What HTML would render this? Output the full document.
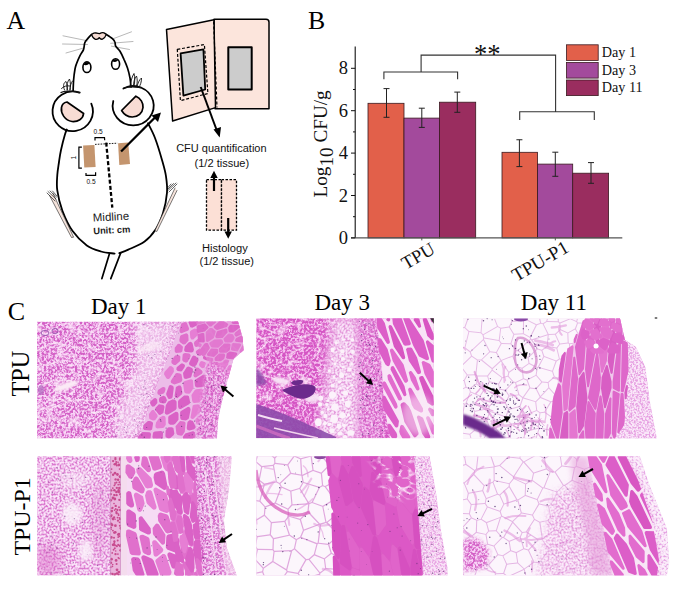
<!DOCTYPE html>
<html><head><meta charset="utf-8"><style>
html,body{margin:0;padding:0;background:#fff;}
svg{display:block;}
.sf{font-family:"Liberation Serif",serif;}
.ss{font-family:"Liberation Sans",sans-serif;}
</style></head><body>
<svg width="676" height="589" viewBox="0 0 676 589">
<rect width="676" height="589" fill="#fff"/>
<text class="sf" x="6.5" y="29.3" font-size="25.8" fill="#000">A</text>
<g fill="none" stroke="#000" stroke-linecap="round" stroke-linejoin="round">
<g stroke="#888" stroke-width="0.6"><line x1="63" y1="35.8" x2="87.5" y2="40.8"/><line x1="62.5" y1="44" x2="87.5" y2="44.5"/><line x1="66" y1="53" x2="84" y2="47.9"/><line x1="131.5" y1="31.8" x2="112.5" y2="39"/><line x1="133" y1="41.5" x2="110.7" y2="43.3"/><line x1="129.5" y1="49.5" x2="111.5" y2="46.2"/></g>
<path d="M91.6,34.3 C90.9,35.0 88.8,37.2 87.7,38.6 C86.6,40.0 85.5,41.0 84.8,42.8 C84.1,44.6 84.3,47.5 83.5,49.6 C82.7,51.7 81.1,53.3 80.0,55.6 C78.9,57.9 77.5,61.0 76.7,63.2 C75.9,65.4 75.5,66.2 75.0,69.0 C74.5,71.8 73.9,76.3 73.6,80.0 C73.3,83.7 73.2,89.2 73.1,91.0" stroke-width="1.7"/>
<path d="M106.0,34.3 C107.1,35.0 110.9,37.3 112.4,38.6 C113.9,39.9 114.4,40.7 114.9,42.0 C115.5,43.3 114.9,44.7 115.7,46.2 C116.5,47.8 118.6,49.0 120.0,51.3 C121.4,53.6 123.0,57.0 124.2,59.8 C125.5,62.6 126.5,65.0 127.5,68.0 C128.5,71.0 129.4,74.8 130.0,78.0 C130.6,81.2 130.8,85.5 131.0,87.0" stroke-width="1.7"/>
<path d="M91.6,34.6 C93,33 94.5,32.6 96,33 C97.5,33.4 98.5,33.8 99.6,33.6 C101,32.8 102.5,32.4 104,32.8 C105,33.2 105.7,33.8 106.2,34.6 C105.5,36.5 104.5,38.5 102.5,39.2 C101,39.5 100,38.8 99.3,37.6 C98.5,39 97,39.6 95.5,39.3 C93.5,38.8 92.3,36.6 91.6,34.6 Z" fill="#f6dcd4" stroke-width="1.3"/>
<ellipse cx="86.9" cy="67.2" rx="4.0" ry="5.3" fill="#fff" stroke-width="1.6"/>
<path d="M83.8,65 C84.5,62.5 87,61.5 89.5,63 C89,64.5 87,65.5 83.8,65 Z" fill="#000" stroke="none"/>
<ellipse cx="115.6" cy="64" rx="4.0" ry="5.3" fill="#fff" stroke-width="1.6"/>
<path d="M112.3,61.5 C113,59 115.5,58.5 118,60 C117.5,61.5 115.5,62.5 112.3,61.5 Z" fill="#000" stroke="none"/>
<path d="M79.2,92.6 A20.2,19.8 0 1 0 91.3,103.6" stroke-width="1.8"/>
<path d="M67,102 L83.6,113.5 C83,119 78,122 72,121.5 C65,120.5 60.5,113.5 61.5,107.5 C62,104.5 64,102.5 67,102 Z" fill="#f8dcd4" stroke-width="1.7"/>
<path d="M123.4,88.5 A20.5,19.6 0 1 1 113.3,101" stroke-width="1.8"/>
<path d="M121.6,110.5 L135.9,96.2 C140.5,98 143.5,103 143,107.5 C142.5,113 138,117 132.3,117 C128,117 124,114.5 121.6,110.5 Z" fill="#f8dcd4" stroke-width="1.7"/>
<path d="M66.8,129.5 C66.5,130.4 65.8,131.6 64.8,135.0 C63.8,138.4 62.0,145.5 61.0,150.0 C60.0,154.5 59.6,157.8 59.0,162.0 C58.4,166.2 57.6,170.3 57.3,175.0 C57.0,179.7 56.4,184.5 57.3,190.4 C58.1,196.3 59.9,203.9 62.4,210.7 C65.0,217.5 68.5,225.2 72.6,231.0 C76.7,236.8 82.1,242.0 86.8,245.4 C91.5,248.8 96.4,250.1 101.0,251.5 C105.6,252.9 112.3,253.2 114.6,253.6" stroke-width="1.8"/>
<path d="M148.0,123.3 C149.2,125.8 152.7,131.9 155.0,138.0 C157.3,144.1 160.2,153.6 162.0,160.0 C163.8,166.4 165.2,170.9 166.0,176.3 C166.8,181.7 167.5,186.5 167.0,192.6 C166.5,198.7 164.9,206.9 163.0,213.0 C161.1,219.1 158.9,224.4 155.8,229.2 C152.7,233.9 149.2,238.1 144.6,241.5 C140.0,244.9 132.5,247.7 128.3,249.6 C124.1,251.5 120.8,252.6 119.3,253.2" stroke-width="1.8"/>
<path d="M109.5,253.6 L101.9,278.6 M120.6,253.2 L110.8,278.6" stroke-width="1.7"/>
<path d="M49.5,195.5 L71.5,237.5 L73.6,237.2 L53,193.5" fill="#f6e4dc" stroke="#222" stroke-width="0.6"/>
<path d="M47,193 L55,201 M48,191.5 L56,199 M50,191 L56.5,197 M52.5,191 L57,196" stroke="#222" stroke-width="0.7"/>
<path d="M175,188 L155,230.5 L156.8,231.5 L177,190.5" fill="#f6e4dc" stroke="#222" stroke-width="0.6"/>
<path d="M177,184 L169,192 M176,183 L168.5,190 M173.5,183.5 L168,189 M171,184 L167.5,188" stroke="#222" stroke-width="0.7"/>
<g stroke="#111" stroke-width="0.9"><path d="M61.5,88.5 C64,86 66.5,85.5 70,86"/><path d="M64.5,90 C62.5,85 64,82.5 66,81.5 C67,84 67.5,87 67,90"/><path d="M67.5,90 C66.5,85 67.5,81 69.5,79 C70.5,82 70.8,86 70,90"/><path d="M70,90 C70,86 71,83 72.5,81"/><path d="M61,92.5 C64,90.5 70,90.5 80,92.5" stroke-width="1.3"/><path d="M130,86 C131,81 132,76.5 134,73.5 C135,77 135,82 134,86"/><path d="M133.5,86 C133.5,82 134.5,78 136.5,76 C137.5,79 137.5,83 136.5,86"/><path d="M137,86.5 C138,83 139,80 141.5,78 C141.5,82 140.5,85 139,87"/><path d="M124,88 C128,86.5 134,86.5 141,87.5" stroke-width="1.3"/></g>
</g>
<path d="M83.1,145.6 L94.4,145 L95.6,167 L84.3,167.5 Z" fill="#c4956e"/>
<path d="M118.1,143.2 L128.2,142.6 L130,164 L119.3,164.9 Z" fill="#c4956e"/>
<g stroke="#000" fill="none"><path d="M95,144.4 L117.5,143.2" stroke-width="0.9" stroke-dasharray="1.6,1.2"/><path d="M106.2,142.6 L112.3,207.7" stroke-width="2.3" stroke-dasharray="4,2.2"/><path d="M95,140.4 L95,137.6 L104.5,137.6 L104.7,140.2" stroke-width="1.2"/><path d="M81.9,147.1 L78.9,147.1 L78.9,168.1 L81.9,168.1" stroke-width="1.2"/><path d="M86,172.9 L86,175.3 L95.6,175.3 L95.6,172.3" stroke-width="1.2"/></g>
<text x="93.6" y="133.8" font-family='"Liberation Sans", sans-serif' font-size="6.6" fill="#111">0.5</text>
<text x="86.4" y="184.2" font-family='"Liberation Sans", sans-serif' font-size="6.6" fill="#111">0.5</text>
<text transform="translate(76,159.5) rotate(-90)" font-family='"Liberation Sans", sans-serif' font-size="6.6" fill="#111">1</text>

<text class="ss" transform="translate(93.1,221.6) rotate(-3)" font-size="11.3" fill="#1a1a1a" textLength="36.2" lengthAdjust="spacingAndGlyphs">Midline</text>
<text class="ss" transform="translate(93.5,234.2) rotate(-3)" font-size="9.2" font-weight="bold" fill="#1a1a1a" textLength="37" lengthAdjust="spacingAndGlyphs">Unit: cm</text>
<line x1="121.1" y1="151.5" x2="155" y2="117.5" stroke="#000" stroke-width="2.3"/>
<path d="M161,112.4 L151.5,115.6 L158,122 Z" fill="#000"/>


<g stroke="#000" stroke-width="1.5" stroke-linejoin="round">
 <path d="M214,19.2 L266,19.2 Q269,19.2 269,22.2 L269,108.8 L215,108.8 Z" fill="#fce5dc"/>
 <path d="M166.5,29.4 L214,19.8 L215.5,107.6 L172.6,121 Z" fill="#fce5dc"/>
 <path d="M213.6,21.5 L217,107.5" stroke-dasharray="3,2" stroke-width="1.2" fill="none"/>
 <rect x="228.3" y="47.3" width="23.4" height="42.2" fill="#cccccc" stroke-width="2"/>
 <path d="M177.3,49.3 L204.4,44.6 L207.9,93.5 L180.4,100.7 Z" fill="none" stroke-dasharray="3,1.8" stroke-width="1.2"/>
 <path d="M180.6,53.4 L203.4,49.3 L205.2,89.5 L183.4,95.6 Z" fill="#cccccc" stroke-width="1.8"/>
</g>
<line x1="200.7" y1="87" x2="217" y2="131" stroke="#000" stroke-width="2"/>
<path d="M219.7,137.5 L213.5,129.5 L221,127 Z" fill="#000"/>
<text class="ss" x="176.2" y="151.7" font-size="10" fill="#111" textLength="90.4" lengthAdjust="spacingAndGlyphs">CFU quantification</text>
<text class="ss" x="194.5" y="166.5" font-size="10" fill="#111" textLength="54.7" lengthAdjust="spacingAndGlyphs">(1/2 tissue)</text>
<g stroke="#000" stroke-width="1.3" stroke-dasharray="2.5,1.5">
 <rect x="206.5" y="179.7" width="15" height="50.5" fill="#fce0d6"/>
 <rect x="221.5" y="179.7" width="15" height="50.5" fill="#fce0d6"/>
</g>
<line x1="214" y1="191" x2="214" y2="177" stroke="#000" stroke-width="2.2"/>
<path d="M214,170.8 L210.3,178 L217.7,178 Z" fill="#000"/>
<line x1="228.2" y1="218" x2="228.2" y2="232" stroke="#000" stroke-width="2.2"/>
<path d="M228.2,238.7 L224.5,231.5 L231.9,231.5 Z" fill="#000"/>
<text class="ss" x="202" y="252.3" font-size="10" fill="#111" textLength="45.8" lengthAdjust="spacingAndGlyphs">Histology</text>
<text class="ss" x="199.5" y="265.3" font-size="10" fill="#111" textLength="54.5" lengthAdjust="spacingAndGlyphs">(1/2 tissue)</text>

<text class="sf" x="308" y="29.3" font-size="25.8" fill="#000">B</text>
<rect x="368" y="103.3" width="36.0" height="134.6" fill="#e2604a" stroke="#3a1a20" stroke-width="0.8"/>
<rect x="404" y="118.1" width="35.5" height="119.8" fill="#a34a9c" stroke="#3a1a20" stroke-width="0.8"/>
<rect x="439.5" y="102.2" width="36.2" height="135.7" fill="#9a2d5f" stroke="#3a1a20" stroke-width="0.8"/>
<rect x="502" y="152.3" width="35.6" height="85.6" fill="#e2604a" stroke="#3a1a20" stroke-width="0.8"/>
<rect x="537.6" y="164.1" width="35.1" height="73.8" fill="#a34a9c" stroke="#3a1a20" stroke-width="0.8"/>
<rect x="572.7" y="173.2" width="35.9" height="64.7" fill="#9a2d5f" stroke="#3a1a20" stroke-width="0.8"/>
<path d="M383.5,88.6 H389.5 M386.5,88.6 V117.3 M383.5,117.3 H389.5" stroke="#222" stroke-width="1" fill="none"/>
<path d="M418.8,108.2 H424.8 M421.8,108.2 V127.4 M418.8,127.4 H424.8" stroke="#222" stroke-width="1" fill="none"/>
<path d="M454.3,92.1 H460.3 M457.3,92.1 V112.3 M454.3,112.3 H460.3" stroke="#222" stroke-width="1" fill="none"/>
<path d="M516.4,139.75 H522.4 M519.4,139.75 V166.6 M516.4,166.6 H522.4" stroke="#222" stroke-width="1" fill="none"/>
<path d="M552.3,152.2 H558.3 M555.3,152.2 V176.3 M552.3,176.3 H558.3" stroke="#222" stroke-width="1" fill="none"/>
<path d="M588,162.6 H594 M591,162.6 V183.3 M588,183.3 H594" stroke="#222" stroke-width="1" fill="none"/>
<line x1="355.2" y1="46.6" x2="355.2" y2="237.9" stroke="#111" stroke-width="1.1"/>
<line x1="351" y1="237.9" x2="622.3" y2="237.9" stroke="#555" stroke-width="1.3"/>
<line x1="351" y1="237.9" x2="355.2" y2="237.9" stroke="#111" stroke-width="1"/>
<text class="sf" x="348" y="243.9" text-anchor="end" font-size="18.5" fill="#111">0</text>
<line x1="353" y1="216.7" x2="355.2" y2="216.7" stroke="#111" stroke-width="1"/>
<line x1="351" y1="195.5" x2="355.2" y2="195.5" stroke="#111" stroke-width="1"/>
<text class="sf" x="348" y="201.5" text-anchor="end" font-size="18.5" fill="#111">2</text>
<line x1="353" y1="174.3" x2="355.2" y2="174.3" stroke="#111" stroke-width="1"/>
<line x1="351" y1="153.1" x2="355.2" y2="153.1" stroke="#111" stroke-width="1"/>
<text class="sf" x="348" y="159.1" text-anchor="end" font-size="18.5" fill="#111">4</text>
<line x1="353" y1="131.9" x2="355.2" y2="131.9" stroke="#111" stroke-width="1"/>
<line x1="351" y1="110.7" x2="355.2" y2="110.7" stroke="#111" stroke-width="1"/>
<text class="sf" x="348" y="116.7" text-anchor="end" font-size="18.5" fill="#111">6</text>
<line x1="353" y1="89.5" x2="355.2" y2="89.5" stroke="#111" stroke-width="1"/>
<line x1="351" y1="68.3" x2="355.2" y2="68.3" stroke="#111" stroke-width="1"/>
<text class="sf" x="348" y="74.3" text-anchor="end" font-size="18.5" fill="#111">8</text>
<line x1="421.8" y1="237.9" x2="421.8" y2="240.4" stroke="#555" stroke-width="1"/>
<line x1="555.3" y1="237.9" x2="555.3" y2="240.4" stroke="#555" stroke-width="1"/>
<text class="sf" transform="translate(326.5,197.5) rotate(-90)" font-size="19.2" fill="#111">Log<tspan dy="6">10</tspan><tspan dy="-6"> CFU/g</tspan></text>
<text class="sf" transform="translate(406,270) rotate(-30)" font-size="18.6" fill="#111">TPU</text>
<text class="sf" transform="translate(516.5,282) rotate(-30)" font-size="18.9" fill="#111">TPU-P1</text>
<path d="M383.9,79.3 V72 H457.6 V79.3 M421.1,72 V55.1 H555.6 V111.7 M519.7,119.9 V111.7 H594.3 V119.9" stroke="#333" stroke-width="1.1" fill="none"/>
<text class="sf" x="474" y="62.5" font-size="26.5" fill="#111">**</text>
<rect x="566.5" y="44.8" width="31.7" height="15.6" fill="#e2604a" stroke="#3a1a20" stroke-width="0.8"/>
<text class="sf" x="601.8" y="57.2" font-size="14.2" fill="#111">Day 1</text>
<rect x="566.5" y="62.5" width="31.7" height="15.6" fill="#a34a9c" stroke="#3a1a20" stroke-width="0.8"/>
<text class="sf" x="601.8" y="74.9" font-size="14.2" fill="#111">Day 3</text>
<rect x="566.5" y="80" width="31.7" height="15.6" fill="#9a2d5f" stroke="#3a1a20" stroke-width="0.8"/>
<text class="sf" x="601.8" y="92.4" font-size="14.2" fill="#111">Day 11</text>
<text class="sf" x="7.8" y="319.7" font-size="26" fill="#000">C</text>
<text class="sf" x="90.9" y="313.7" font-size="23" fill="#000">Day 1</text>
<text class="sf" x="314.5" y="309.9" font-size="23" fill="#000">Day 3</text>
<text class="sf" x="520.8" y="309.9" font-size="23" fill="#000">Day 11</text>
<text class="sf" transform="translate(29,396.6) rotate(-90)" font-size="24.3" fill="#000">TPU</text>
<text class="sf" transform="translate(29.9,555.6) rotate(-90)" font-size="23.9" fill="#000">TPU-P1</text>
<defs><filter id="b05" x="-10%" y="-10%" width="120%" height="120%"><feGaussianBlur stdDeviation="0.6"/></filter><filter id="b1" x="-10%" y="-10%" width="120%" height="120%"><feGaussianBlur stdDeviation="1"/></filter><filter id="b2" x="-10%" y="-10%" width="120%" height="120%"><feGaussianBlur stdDeviation="2"/></filter><filter id="b3" x="-20%" y="-20%" width="140%" height="140%"><feGaussianBlur stdDeviation="3"/></filter><filter id="b5" x="-20%" y="-20%" width="140%" height="140%"><feGaussianBlur stdDeviation="5"/></filter><filter id="dense" filterUnits="userSpaceOnUse" x="-300" y="-300" width="1300" height="1200" color-interpolation-filters="sRGB">
 <feTurbulence type="fractalNoise" baseFrequency="0.45" numOctaves="3" seed="4"/>
 <feColorMatrix type="matrix" values="1 0 0 0 0  1 0 0 0 0  1 0 0 0 0  0 0 0 0 1"/>
 <feComponentTransfer><feFuncR type="table" tableValues="0.831 0.831 0.831 0.831 0.831 0.831 0.831 0.831 0.848 0.876 0.904 0.932 0.960 0.976 0.976 0.976 0.976 0.976 0.976 0.976 0.976"/><feFuncG type="table" tableValues="0.376 0.376 0.376 0.376 0.376 0.376 0.376 0.376 0.429 0.516 0.604 0.691 0.779 0.831 0.831 0.831 0.831 0.831 0.831 0.831 0.831"/><feFuncB type="table" tableValues="0.776 0.776 0.776 0.776 0.776 0.776 0.776 0.776 0.799 0.836 0.873 0.910 0.946 0.969 0.969 0.969 0.969 0.969 0.969 0.969 0.969"/></feComponentTransfer>
 <feGaussianBlur stdDeviation="0.45"/>
 <feComposite in2="SourceGraphic" operator="in"/>
</filter><filter id="dense2" filterUnits="userSpaceOnUse" x="-300" y="-300" width="1300" height="1200" color-interpolation-filters="sRGB">
 <feTurbulence type="fractalNoise" baseFrequency="0.42" numOctaves="3" seed="12"/>
 <feColorMatrix type="matrix" values="1 0 0 0 0  1 0 0 0 0  1 0 0 0 0  0 0 0 0 1"/>
 <feComponentTransfer><feFuncR type="table" tableValues="0.839 0.839 0.839 0.839 0.839 0.839 0.839 0.839 0.839 0.854 0.879 0.904 0.929 0.954 0.969 0.969 0.969 0.969 0.969 0.969 0.969"/><feFuncG type="table" tableValues="0.337 0.337 0.337 0.337 0.337 0.337 0.337 0.337 0.337 0.385 0.465 0.545 0.625 0.705 0.753 0.753 0.753 0.753 0.753 0.753 0.753"/><feFuncB type="table" tableValues="0.769 0.769 0.769 0.769 0.769 0.769 0.769 0.769 0.769 0.789 0.824 0.859 0.894 0.928 0.949 0.949 0.949 0.949 0.949 0.949 0.949"/></feComponentTransfer>
 <feGaussianBlur stdDeviation="0.45"/>
 <feComposite in2="SourceGraphic" operator="in"/>
</filter><filter id="meshl" filterUnits="userSpaceOnUse" x="-300" y="-300" width="1300" height="1200" color-interpolation-filters="sRGB">
 <feTurbulence type="fractalNoise" baseFrequency="0.5" numOctaves="3" seed="8"/>
 <feColorMatrix type="matrix" values="1 0 0 0 0  1 0 0 0 0  1 0 0 0 0  0 0 0 0 1"/>
 <feComponentTransfer><feFuncR type="table" tableValues="0.855 0.855 0.855 0.855 0.855 0.855 0.855 0.869 0.892 0.915 0.938 0.961 0.984 0.984 0.984 0.984 0.984 0.984 0.984 0.984 0.984"/><feFuncG type="table" tableValues="0.463 0.463 0.463 0.463 0.463 0.463 0.463 0.509 0.586 0.663 0.740 0.817 0.894 0.894 0.894 0.894 0.894 0.894 0.894 0.894 0.894"/><feFuncB type="table" tableValues="0.808 0.808 0.808 0.808 0.808 0.808 0.808 0.826 0.857 0.888 0.919 0.950 0.980 0.980 0.980 0.980 0.980 0.980 0.980 0.980 0.980"/></feComponentTransfer>
 <feGaussianBlur stdDeviation="0.45"/>
 <feComposite in2="SourceGraphic" operator="in"/>
</filter><filter id="light" filterUnits="userSpaceOnUse" x="-300" y="-300" width="1300" height="1200" color-interpolation-filters="sRGB">
 <feTurbulence type="fractalNoise" baseFrequency="0.5" numOctaves="2" seed="5"/>
 <feColorMatrix type="matrix" values="1 0 0 0 0  1 0 0 0 0  1 0 0 0 0  0 0 0 0 1"/>
 <feComponentTransfer><feFuncR type="table" tableValues="0.894 0.894 0.894 0.894 0.894 0.894 0.901 0.920 0.938 0.956 0.974 0.992 0.992 0.992 0.992 0.992 0.992 0.992 0.992 0.992 0.992"/><feFuncG type="table" tableValues="0.627 0.627 0.627 0.627 0.627 0.627 0.651 0.709 0.767 0.825 0.883 0.941 0.941 0.941 0.941 0.941 0.941 0.941 0.941 0.941 0.941"/><feFuncB type="table" tableValues="0.886 0.886 0.886 0.886 0.886 0.886 0.894 0.913 0.932 0.950 0.969 0.988 0.988 0.988 0.988 0.988 0.988 0.988 0.988 0.988 0.988"/></feComponentTransfer>
 <feGaussianBlur stdDeviation="0.45"/>
 <feComposite in2="SourceGraphic" operator="in"/>
</filter><filter id="conn" filterUnits="userSpaceOnUse" x="-300" y="-300" width="1300" height="1200" color-interpolation-filters="sRGB">
 <feTurbulence type="fractalNoise" baseFrequency="0.55" numOctaves="2" seed="6"/>
 <feColorMatrix type="matrix" values="1 0 0 0 0  1 0 0 0 0  1 0 0 0 0  0 0 0 0 1"/>
 <feComponentTransfer><feFuncR type="table" tableValues="0.902 0.902 0.902 0.902 0.902 0.902 0.902 0.908 0.923 0.939 0.954 0.969 0.984 0.984 0.984 0.984 0.984 0.984 0.984 0.984 0.984"/><feFuncG type="table" tableValues="0.627 0.627 0.627 0.627 0.627 0.627 0.627 0.648 0.701 0.753 0.805 0.858 0.910 0.910 0.910 0.910 0.910 0.910 0.910 0.910 0.910"/><feFuncB type="table" tableValues="0.886 0.886 0.886 0.886 0.886 0.886 0.886 0.893 0.911 0.928 0.946 0.963 0.980 0.980 0.980 0.980 0.980 0.980 0.980 0.980 0.980"/></feComponentTransfer>
 <feGaussianBlur stdDeviation="0.45"/>
 <feComposite in2="SourceGraphic" operator="in"/>
</filter><filter id="musc" filterUnits="userSpaceOnUse" x="-300" y="-300" width="1300" height="1200" color-interpolation-filters="sRGB">
 <feTurbulence type="turbulence" baseFrequency="0.035 0.1" numOctaves="2" seed="3"/>
 <feColorMatrix type="matrix" values="1 0 0 0 0  1 0 0 0 0  1 0 0 0 0  0 0 0 0 1"/>
 <feComponentTransfer><feFuncR type="table" tableValues="0.984 0.984 0.939 0.902 0.902 0.902 0.902 0.902 0.902 0.902 0.902 0.902 0.902 0.902 0.902 0.902 0.902 0.902 0.902 0.902 0.902"/><feFuncG type="table" tableValues="0.925 0.925 0.620 0.376 0.376 0.376 0.376 0.376 0.376 0.376 0.376 0.376 0.376 0.376 0.376 0.376 0.376 0.376 0.376 0.376 0.376"/><feFuncB type="table" tableValues="0.980 0.980 0.893 0.824 0.824 0.824 0.824 0.824 0.824 0.824 0.824 0.824 0.824 0.824 0.824 0.824 0.824 0.824 0.824 0.824 0.824"/></feComponentTransfer>
 <feGaussianBlur stdDeviation="0.45"/>
 <feComposite in2="SourceGraphic" operator="in"/>
</filter><filter id="musc2" filterUnits="userSpaceOnUse" x="-300" y="-300" width="1300" height="1200" color-interpolation-filters="sRGB">
 <feTurbulence type="turbulence" baseFrequency="0.04 0.1" numOctaves="2" seed="13"/>
 <feColorMatrix type="matrix" values="1 0 0 0 0  1 0 0 0 0  1 0 0 0 0  0 0 0 0 1"/>
 <feComponentTransfer><feFuncR type="table" tableValues="0.984 0.914 0.894 0.894 0.894 0.894 0.894 0.894 0.894 0.894 0.894 0.894 0.894 0.894 0.894 0.894 0.894 0.894 0.894 0.894 0.894"/><feFuncG type="table" tableValues="0.925 0.486 0.361 0.361 0.361 0.361 0.361 0.361 0.361 0.361 0.361 0.361 0.361 0.361 0.361 0.361 0.361 0.361 0.361 0.361 0.361"/><feFuncB type="table" tableValues="0.980 0.852 0.816 0.816 0.816 0.816 0.816 0.816 0.816 0.816 0.816 0.816 0.816 0.816 0.816 0.816 0.816 0.816 0.816 0.816 0.816"/></feComponentTransfer>
 <feGaussianBlur stdDeviation="0.45"/>
 <feComposite in2="SourceGraphic" operator="in"/>
</filter><filter id="musc3" filterUnits="userSpaceOnUse" x="-300" y="-300" width="1300" height="1200" color-interpolation-filters="sRGB">
 <feTurbulence type="fractalNoise" baseFrequency="0.12 0.3" numOctaves="2" seed="23"/>
 <feColorMatrix type="matrix" values="1 0 0 0 0  1 0 0 0 0  1 0 0 0 0  0 0 0 0 1"/>
 <feComponentTransfer><feFuncR type="table" tableValues="0.941 0.941 0.941 0.941 0.941 0.941 0.941 0.934 0.927 0.921 0.914 0.907 0.900 0.893 0.886 0.886 0.886 0.886 0.886 0.886 0.886"/><feFuncG type="table" tableValues="0.588 0.588 0.588 0.588 0.588 0.588 0.588 0.556 0.524 0.491 0.459 0.426 0.394 0.362 0.329 0.329 0.329 0.329 0.329 0.329 0.329"/><feFuncB type="table" tableValues="0.894 0.894 0.894 0.894 0.894 0.894 0.894 0.882 0.871 0.859 0.847 0.835 0.824 0.812 0.800 0.800 0.800 0.800 0.800 0.800 0.800"/></feComponentTransfer>
 <feGaussianBlur stdDeviation="0.45"/>
 <feComposite in2="SourceGraphic" operator="in"/>
</filter><filter id="blob" filterUnits="userSpaceOnUse" x="-300" y="-300" width="1300" height="1200" color-interpolation-filters="sRGB">
 <feTurbulence type="fractalNoise" baseFrequency="0.13" numOctaves="3" seed="17"/>
 <feColorMatrix type="matrix" values="1 0 0 0 0  1 0 0 0 0  1 0 0 0 0  0 0 0 0 1"/>
 <feComponentTransfer><feFuncR type="table" tableValues="0.965 0.965 0.965 0.965 0.965 0.965 0.965 0.965 0.965 0.957 0.918 0.902 0.902 0.902 0.902 0.902 0.902 0.902 0.902 0.902 0.902"/><feFuncG type="table" tableValues="0.831 0.831 0.831 0.831 0.831 0.831 0.831 0.831 0.831 0.776 0.502 0.392 0.392 0.392 0.392 0.392 0.392 0.392 0.392 0.392 0.392"/><feFuncB type="table" tableValues="0.957 0.957 0.957 0.957 0.957 0.957 0.957 0.957 0.957 0.940 0.857 0.824 0.824 0.824 0.824 0.824 0.824 0.824 0.824 0.824 0.824"/></feComponentTransfer>
 <feGaussianBlur stdDeviation="0.45"/>
 <feComposite in2="SourceGraphic" operator="in"/>
</filter><filter id="blobv" filterUnits="userSpaceOnUse" x="-300" y="-300" width="1300" height="1200" color-interpolation-filters="sRGB">
 <feTurbulence type="fractalNoise" baseFrequency="0.12 0.05" numOctaves="2" seed="19"/>
 <feColorMatrix type="matrix" values="1 0 0 0 0  1 0 0 0 0  1 0 0 0 0  0 0 0 0 1"/>
 <feComponentTransfer><feFuncR type="table" tableValues="0.976 0.976 0.976 0.976 0.976 0.976 0.976 0.976 0.976 0.960 0.919 0.894 0.894 0.894 0.894 0.894 0.894 0.894 0.894 0.894 0.894"/><feFuncG type="table" tableValues="0.894 0.894 0.894 0.894 0.894 0.894 0.894 0.894 0.894 0.792 0.537 0.384 0.384 0.384 0.384 0.384 0.384 0.384 0.384 0.384 0.384"/><feFuncB type="table" tableValues="0.969 0.969 0.969 0.969 0.969 0.969 0.969 0.969 0.969 0.938 0.862 0.816 0.816 0.816 0.816 0.816 0.816 0.816 0.816 0.816 0.816"/></feComponentTransfer>
 <feGaussianBlur stdDeviation="0.45"/>
 <feComposite in2="SourceGraphic" operator="in"/>
</filter><filter id="cracks" filterUnits="userSpaceOnUse" x="-300" y="-300" width="1300" height="1200" color-interpolation-filters="sRGB">
 <feTurbulence type="turbulence" baseFrequency="0.05 0.08" numOctaves="2" seed="31"/>
 <feColorMatrix type="matrix" values="0 0 0 0 0.99  0 0 0 0 0.92  0 0 0 0 0.98  -6 0 0 0 1.0"/>
 <feGaussianBlur stdDeviation="0.4"/>
 <feComposite in2="SourceGraphic" operator="in"/>
</filter></defs>
<clipPath id="c1"><path d="M37.0,321.5 L238.0,321.5 L242.5,337.0 L243.6,350.3 L233.7,359.0 L228.0,379.0 L222.6,398.8 L218.2,418.7 L217.0,438.5 L37.0,438.5 Z"/></clipPath><g clip-path="url(#c1)"><path d="M37.0,321.5 L238.0,321.5 L242.5,337.0 L243.6,350.3 L233.7,359.0 L228.0,379.0 L222.6,398.8 L218.2,418.7 L217.0,438.5 L37.0,438.5 Z" filter="url(#dense)"/><path d="M37.0,321.5 L150.0,321.5 L120.0,438.5 L37.0,438.5 Z" filter="url(#cracks)" opacity="0.9"/><path d="M133.0,321.5 L181.0,321.5 L167.5,359.0 L152.0,398.8 L139.0,438.5 L113.0,438.5 L124.0,398.0 L138.0,359.0 Z" fill="#fbeefa" filter="url(#b5)" opacity="0.62"/><g fill="#7a4a90" opacity="0.6"><circle cx="143.8" cy="387.0" r="0.63"/><circle cx="144.7" cy="380.9" r="0.53"/><circle cx="119.2" cy="416.2" r="0.56"/><circle cx="115.8" cy="436.4" r="0.64"/><circle cx="148.9" cy="328.5" r="0.41"/><circle cx="144.5" cy="373.0" r="0.60"/><circle cx="148.3" cy="396.4" r="0.50"/><circle cx="158.0" cy="375.0" r="0.43"/><circle cx="165.9" cy="353.1" r="0.38"/><circle cx="135.6" cy="434.3" r="0.58"/><circle cx="167.2" cy="342.3" r="0.52"/><circle cx="143.4" cy="343.8" r="0.57"/><circle cx="133.7" cy="425.0" r="0.41"/><circle cx="139.8" cy="421.5" r="0.54"/><circle cx="119.8" cy="437.2" r="0.41"/><circle cx="130.6" cy="411.9" r="0.45"/><circle cx="129.5" cy="391.9" r="0.46"/><circle cx="145.9" cy="388.7" r="0.61"/><circle cx="126.4" cy="432.7" r="0.61"/><circle cx="154.0" cy="370.8" r="0.38"/><circle cx="115.6" cy="434.1" r="0.42"/><circle cx="160.9" cy="351.6" r="0.60"/><circle cx="153.6" cy="355.8" r="0.40"/><circle cx="162.0" cy="329.5" r="0.42"/><circle cx="154.8" cy="354.3" r="0.63"/><circle cx="138.1" cy="388.4" r="0.39"/><circle cx="137.6" cy="425.7" r="0.64"/><circle cx="152.7" cy="337.9" r="0.36"/><circle cx="145.8" cy="407.0" r="0.45"/><circle cx="152.0" cy="394.6" r="0.46"/><circle cx="152.6" cy="392.7" r="0.37"/><circle cx="139.4" cy="407.5" r="0.52"/><circle cx="143.0" cy="419.6" r="0.38"/><circle cx="164.0" cy="325.0" r="0.53"/><circle cx="145.7" cy="348.4" r="0.56"/><circle cx="146.8" cy="393.4" r="0.63"/><circle cx="133.5" cy="400.8" r="0.41"/><circle cx="124.5" cy="427.5" r="0.55"/><circle cx="143.1" cy="425.8" r="0.45"/><circle cx="158.3" cy="344.7" r="0.48"/><circle cx="152.7" cy="358.5" r="0.39"/><circle cx="141.2" cy="394.7" r="0.50"/><circle cx="134.4" cy="419.7" r="0.64"/><circle cx="143.8" cy="330.2" r="0.36"/><circle cx="172.4" cy="326.4" r="0.56"/><circle cx="151.8" cy="357.7" r="0.59"/><circle cx="143.9" cy="324.4" r="0.60"/><circle cx="143.4" cy="395.2" r="0.55"/><circle cx="159.5" cy="344.8" r="0.49"/><circle cx="145.1" cy="405.1" r="0.40"/><circle cx="139.8" cy="414.2" r="0.62"/><circle cx="118.9" cy="430.6" r="0.57"/><circle cx="138.6" cy="388.1" r="0.61"/><circle cx="144.5" cy="397.7" r="0.41"/><circle cx="127.5" cy="426.8" r="0.64"/><circle cx="166.8" cy="359.0" r="0.62"/><circle cx="146.1" cy="324.8" r="0.59"/><circle cx="166.6" cy="337.9" r="0.39"/><circle cx="148.1" cy="406.2" r="0.60"/><circle cx="148.8" cy="355.4" r="0.57"/></g><g><path d="M181.0,321.6 L240.0,321.6 L244.0,337.0 L244.0,350.3 L233.7,359.0 L228.0,379.0 L222.6,398.8 L218.2,418.7 L217.0,438.5 L139.0,438.5 L152.0,398.8 L167.5,359.0 Z" fill="#ecbce8"/><path d="M200.0,344.9 200.8,343.7 201.3,339.5 200.4,338.2 198.8,337.9 194.4,341.7 193.9,343.3 194.6,345.9 195.9,346.9 197.4,346.8ZM215.5,420.8 217.2,421.5 218.9,420.7 219.5,417.9 218.6,416.3 217.0,415.9 215.5,416.8 214.7,418.9ZM185.0,353.0 183.5,353.4 182.7,354.4 182.2,360.1 183.1,361.6 186.1,362.7 187.8,361.7 190.5,356.4 190.6,355.4 190.3,354.4 189.3,353.6ZM221.7,396.3 223.4,396.2 224.6,394.8 226.8,386.6 226.3,385.2 225.1,384.4 223.4,384.6 219.3,387.8 217.7,392.6 217.7,393.9 218.3,394.9ZM188.3,335.3 187.5,333.8 186.2,333.3 180.8,335.2 180.1,336.3 179.3,340.1 179.7,341.9 183.1,344.5 185.3,344.3 188.6,340.6ZM225.1,351.9 224.6,350.5 223.2,349.8 222.0,350.0 220.2,351.5 218.8,357.9 219.7,360.0 221.6,360.3 224.1,359.6 225.0,358.7ZM171.0,380.4 170.7,381.8 171.2,383.0 174.4,384.5 180.9,382.2 182.0,381.0 182.4,379.8 181.5,374.6 180.1,373.5 177.1,373.0 175.8,373.3ZM224.1,335.6 222.8,336.2 222.1,337.6 223.1,345.9 223.9,347.4 225.8,347.9 231.2,344.3 233.8,336.7 233.2,335.4 231.8,334.8ZM194.8,369.1 193.4,375.8 194.1,376.9 195.2,377.4 196.3,377.3 201.9,373.7 202.5,372.8 202.5,371.5 201.9,370.6 198.4,367.8 196.6,367.6ZM208.0,428.8 208.4,430.2 209.6,431.0 214.4,430.7 215.3,429.7 216.6,426.0 216.4,424.2 214.0,421.5 211.8,421.4 208.4,423.9ZM235.8,320.8 234.1,321.5 233.6,323.3 234.9,331.2 235.8,332.3 237.2,332.6 238.9,331.6 241.7,326.6 241.8,325.4 241.0,322.2 240.2,321.2ZM180.2,344.2 179.0,343.8 177.7,344.1 174.7,347.7 174.7,351.4 175.9,353.0 180.9,352.6 182.3,351.5 183.0,346.8ZM182.5,435.3 184.8,431.8 185.6,422.7 184.3,421.4 180.0,421.1 175.5,426.3 176.4,433.6 177.6,434.9 181.3,435.8ZM202.5,342.9 203.2,344.9 207.0,346.9 208.5,347.1 209.6,346.5 213.4,338.2 213.2,336.9 211.0,333.6 209.0,333.1 204.1,335.5 203.6,336.6ZM197.2,433.2 198.0,434.7 199.6,435.2 205.1,432.3 205.9,430.7 206.0,427.0 205.4,425.7 204.3,425.0 203.1,425.1 198.2,427.9 197.0,430.2ZM157.3,392.6 157.7,394.2 159.2,395.1 163.7,393.6 164.5,392.6 165.5,389.7 165.3,387.8 163.9,386.9 162.2,387.2 158.0,390.0ZM221.2,348.5 222.1,346.7 221.0,338.4 219.2,337.3 215.4,338.3 214.5,339.2 211.1,346.6 211.4,348.5 212.9,349.8 218.3,350.2ZM171.6,360.2 171.3,362.1 171.8,363.4 174.0,365.0 175.7,364.9 180.2,361.0 180.4,356.4 178.8,355.1 175.0,355.6ZM202.3,408.5 203.4,409.9 204.8,410.1 211.2,407.3 213.2,399.4 212.5,397.5 211.1,396.9 206.6,397.1 205.0,397.9 201.1,403.5ZM179.4,330.6 179.8,332.4 181.5,333.3 188.3,330.6 188.9,329.6 189.0,328.3 186.7,322.6 184.9,322.1 181.3,323.5ZM214.0,361.7 215.7,361.5 216.9,360.0 218.1,353.4 217.6,352.0 216.5,351.3 213.5,351.2 212.0,352.9 210.8,359.5 211.7,360.9ZM227.2,356.4 228.2,358.2 229.3,358.6 230.5,358.3 235.3,352.0 235.2,349.9 232.2,346.8 230.3,346.7 227.2,349.0ZM196.6,350.4 195.8,351.6 196.0,353.2 198.4,355.5 200.1,355.9 201.5,355.1 204.8,350.7 205.1,349.3 204.1,347.7 201.6,346.9Z" fill="#e070cc"/><path d="M192.2,401.1 192.9,402.4 194.2,403.0 198.9,402.5 200.1,401.8 203.9,396.2 203.6,390.6 202.8,389.3 201.2,388.8 196.0,389.2 194.8,390.0 191.4,395.1ZM218.2,362.7 216.7,364.1 216.0,366.9 216.3,368.2 218.7,372.4 220.0,372.7 222.6,372.3 223.6,371.5 228.3,364.3 228.3,362.3 226.9,361.0 225.7,360.8ZM184.8,381.0 183.7,381.8 183.0,383.5 184.3,392.3 185.8,393.6 189.3,393.7 190.3,392.9 193.6,388.1 193.0,380.6 192.1,379.5 190.9,379.2ZM155.4,426.0 155.7,427.6 157.1,428.5 162.8,428.1 164.0,427.5 165.8,424.7 165.6,417.7 164.9,416.3 162.9,415.8 159.6,417.6 156.1,422.2ZM205.0,420.4 205.8,421.9 207.6,422.3 213.0,418.9 215.5,413.1 214.9,411.8 212.4,409.3 210.5,409.0 205.5,411.1 204.7,411.8 204.3,413.0ZM164.4,372.1 164.0,374.3 166.3,378.2 167.5,379.0 169.0,378.9 169.9,378.0 173.9,371.7 173.7,368.1 171.6,366.2 169.8,366.1ZM192.7,405.6 190.5,417.4 191.2,418.4 192.2,418.9 193.5,418.7 201.0,411.1 201.4,409.3 199.7,404.8 198.0,404.3 194.0,404.8ZM190.3,337.7 191.4,339.5 193.3,339.6 198.5,334.6 198.8,332.6 196.8,328.9 194.7,328.6 191.3,330.2 190.2,331.3 189.8,332.6ZM217.9,397.4 216.4,397.4 215.2,398.5 213.3,406.5 213.8,408.2 215.5,409.9 216.7,410.4 217.9,410.1 218.8,409.2 221.6,400.5 220.9,398.6ZM205.8,369.0 205.7,370.2 206.4,371.5 207.6,372.0 208.8,371.8 214.7,367.3 215.4,365.1 215.2,363.9 213.9,362.8 210.7,361.8 209.2,362.0 208.3,362.9ZM149.3,413.5 148.9,414.7 149.2,418.4 150.1,419.2 152.9,420.5 155.1,420.2 157.6,416.8 157.5,415.0 153.8,410.1 152.5,410.0 151.6,410.4ZM225.3,377.7 226.2,378.9 227.6,379.2 228.8,378.8 230.0,377.4 232.8,367.6 232.4,366.1 231.1,365.2 229.8,365.0 228.7,365.6 224.2,372.4 224.1,373.7ZM207.4,375.8 208.4,380.4 209.5,381.1 211.5,380.8 212.6,380.2 216.8,373.8 216.7,372.4 215.7,370.7 214.6,370.2 213.3,370.4 207.9,374.5ZM203.1,416.2 202.1,414.6 200.2,414.4 195.6,418.9 195.2,420.8 197.1,424.4 199.1,424.7 203.1,422.3 203.6,420.9ZM204.6,367.5 206.0,363.4 205.4,362.3 201.8,360.9 200.1,361.8 198.9,364.8 199.6,366.3 201.7,368.0 203.0,368.3ZM224.0,331.4 224.3,333.2 225.7,334.1 231.1,333.6 232.5,332.7 232.9,331.3 231.5,322.6 230.6,321.1 228.3,320.5 226.7,321.5ZM210.1,433.0 208.6,433.6 208.0,435.4 208.6,438.4 209.6,439.2 210.7,439.4 212.2,438.5 214.0,436.1 214.2,434.8 213.0,433.1ZM223.1,381.7 223.8,380.6 223.8,379.3 222.6,375.5 220.9,374.5 218.8,375.4 215.3,381.0 215.9,382.6 217.3,384.1 218.5,384.6 219.7,384.2ZM245.6,348.3 245.2,347.1 244.4,346.3 243.2,346.1 242.2,346.4 239.9,349.5 240.0,351.5 241.6,352.9 243.4,352.8 245.3,351.0Z" fill="#e67ed4"/><path d="M173.6,435.2 174.4,433.5 173.4,428.1 171.9,427.3 168.8,427.2 167.6,427.7 165.6,430.5 165.4,436.1 165.8,437.3 168.3,438.5 169.7,438.5ZM212.9,395.1 214.7,393.9 216.5,387.9 216.0,386.7 213.3,383.7 211.5,383.2 208.3,384.1 206.1,387.2 206.2,393.2 206.7,394.4 207.9,395.2ZM203.3,356.3 202.9,357.9 203.7,359.3 206.8,360.6 208.3,360.4 209.4,358.9 210.4,353.6 210.1,352.2 208.8,351.3 207.1,351.5ZM137.9,437.1 138.2,439.0 139.6,439.9 149.0,439.9 150.5,438.5 151.0,433.9 150.4,432.8 149.4,432.3 142.4,432.0 138.6,435.6ZM163.8,403.6 165.6,403.0 167.0,400.3 165.5,396.7 163.6,395.8 160.0,397.0 158.9,398.9 159.1,401.4 159.7,402.5 160.7,403.1ZM189.2,362.4 189.0,363.9 189.8,365.2 192.8,366.7 194.3,366.7 196.5,364.9 198.5,360.5 198.5,359.0 195.4,355.9 193.4,355.6 192.2,356.5ZM232.6,343.3 232.8,345.2 236.0,348.7 237.4,349.4 238.6,349.1 243.4,342.5 243.3,337.5 239.7,334.1 238.4,334.0 236.3,334.9 235.4,335.9ZM190.6,320.1 189.0,320.8 188.4,322.2 190.3,327.3 192.3,327.8 196.8,325.5 198.3,322.6 197.5,320.6 196.3,320.1ZM178.5,413.8 177.6,412.1 175.7,411.8 168.7,416.0 168.2,417.6 168.3,422.9 169.0,424.1 170.3,424.8 173.3,424.8 175.0,424.1 178.5,419.8ZM192.7,431.2 185.2,433.6 182.9,436.8 182.9,438.5 184.1,439.8 190.6,439.8 194.5,438.0 195.3,437.0 195.2,432.8 194.0,431.4ZM215.5,322.0 214.1,323.2 211.5,331.4 214.1,335.8 215.9,336.7 220.4,335.6 221.5,334.7 224.8,322.4 224.1,320.8 222.6,320.2ZM178.1,407.0 178.9,408.7 180.8,409.1 189.5,404.0 190.2,402.2 188.9,396.3 187.7,395.6 184.1,395.6 178.7,400.1 178.0,401.4ZM190.6,409.4 190.0,407.4 188.1,406.8 180.6,411.2 180.1,412.5 180.2,417.9 180.9,419.5 181.9,420.0 185.9,420.5 188.4,419.0 189.0,417.9ZM172.9,399.3 168.1,401.6 165.8,405.2 164.7,412.7 165.3,414.0 166.6,414.7 168.1,414.5 175.6,409.9 176.6,408.5 176.6,401.7 175.9,400.4ZM194.9,385.5 195.5,386.8 196.8,387.5 203.4,386.9 204.5,386.3 206.8,382.4 205.9,376.5 205.4,375.4 204.2,374.7 203.0,374.8 195.2,379.7 194.5,381.3ZM184.7,367.1 185.0,365.6 184.5,364.4 182.7,363.4 181.2,363.4 176.7,367.2 176.3,369.5 177.6,370.9 181.3,371.4 182.4,370.6ZM203.0,435.7 201.9,437.3 202.2,438.9 203.6,439.8 205.5,439.5 206.4,438.1 206.1,436.3 204.7,435.4ZM166.2,393.5 166.3,394.9 168.3,398.7 169.8,399.1 172.0,398.2 172.6,396.9 173.8,387.9 173.2,386.1 170.8,385.0 169.1,385.6ZM195.5,428.0 195.6,426.3 192.9,420.9 189.9,420.1 187.9,421.4 187.4,422.4 186.7,428.3 187.5,430.0 189.5,430.5 194.2,429.2ZM154.0,398.2 150.1,401.9 150.1,403.2 151.4,405.8 152.6,406.7 154.6,406.3 157.4,403.1 157.2,399.5 155.7,398.0ZM193.0,370.3 192.8,368.9 192.0,367.9 188.7,366.4 186.9,366.9 183.0,373.1 183.6,377.3 184.2,378.5 186.0,379.1 190.8,377.5 191.4,376.5ZM154.9,431.4 153.6,432.0 153.0,433.1 152.4,437.1 153.0,438.7 154.6,439.4 160.8,439.4 162.2,438.7 162.8,437.5 163.0,433.1 162.4,431.5 160.8,430.9ZM150.0,420.9 147.9,421.1 143.4,425.1 143.0,428.6 144.1,430.1 150.3,430.6 152.1,429.6 153.1,423.2 152.4,422.0ZM155.2,409.9 158.9,414.7 160.1,414.9 163.4,413.0 164.5,406.7 163.5,404.9 158.9,404.3 155.3,407.9ZM192.6,343.6 191.9,342.4 190.6,341.8 188.5,342.4 184.8,346.5 184.1,349.9 184.7,351.5 185.9,352.1 191.4,352.6 193.1,352.0 194.0,349.8ZM174.6,395.7 175.3,397.6 177.3,398.2 182.0,394.3 182.4,393.0 181.5,387.1 180.4,385.6 178.7,385.4 175.9,387.0Z" fill="#da62c6"/></g><g fill="#5a3070" opacity="0.7"><circle cx="206.1" cy="382.7" r="0.66"/><circle cx="197.8" cy="358.0" r="0.51"/><circle cx="160.9" cy="421.1" r="0.70"/><circle cx="194.0" cy="388.6" r="0.45"/><circle cx="195.3" cy="380.4" r="0.58"/><circle cx="141.9" cy="434.9" r="0.56"/><circle cx="181.1" cy="415.2" r="0.57"/><circle cx="190.6" cy="402.4" r="0.41"/><circle cx="195.6" cy="370.0" r="0.70"/><circle cx="236.0" cy="353.1" r="0.54"/><circle cx="189.0" cy="358.7" r="0.45"/><circle cx="203.9" cy="429.8" r="0.43"/><circle cx="220.8" cy="324.3" r="0.45"/><circle cx="162.9" cy="401.9" r="0.49"/><circle cx="176.3" cy="394.1" r="0.42"/><circle cx="215.7" cy="336.0" r="0.55"/><circle cx="194.7" cy="372.7" r="0.51"/><circle cx="182.4" cy="383.5" r="0.44"/><circle cx="160.4" cy="395.4" r="0.60"/><circle cx="194.6" cy="421.1" r="0.59"/><circle cx="229.0" cy="348.8" r="0.63"/><circle cx="172.2" cy="358.4" r="0.69"/><circle cx="161.9" cy="438.3" r="0.68"/><circle cx="215.3" cy="351.9" r="0.42"/><circle cx="226.4" cy="370.9" r="0.65"/><circle cx="210.9" cy="323.7" r="0.45"/><circle cx="210.7" cy="428.1" r="0.70"/><circle cx="218.6" cy="380.4" r="0.61"/><circle cx="196.9" cy="381.8" r="0.57"/><circle cx="160.4" cy="419.8" r="0.71"/><circle cx="236.3" cy="332.7" r="0.41"/><circle cx="219.3" cy="359.8" r="0.54"/><circle cx="193.1" cy="371.9" r="0.58"/><circle cx="227.6" cy="342.8" r="0.53"/><circle cx="216.6" cy="369.0" r="0.45"/><circle cx="181.5" cy="391.7" r="0.55"/><circle cx="166.1" cy="428.1" r="0.63"/><circle cx="181.6" cy="426.4" r="0.68"/><circle cx="212.0" cy="411.3" r="0.64"/><circle cx="181.6" cy="406.1" r="0.41"/><circle cx="174.9" cy="376.4" r="0.39"/><circle cx="176.3" cy="396.3" r="0.59"/><circle cx="163.4" cy="432.0" r="0.60"/><circle cx="174.5" cy="398.7" r="0.57"/><circle cx="195.0" cy="367.1" r="0.71"/><circle cx="206.4" cy="403.6" r="0.64"/><circle cx="203.6" cy="408.0" r="0.47"/><circle cx="181.2" cy="327.5" r="0.45"/><circle cx="178.4" cy="333.1" r="0.47"/><circle cx="192.3" cy="434.7" r="0.57"/><circle cx="224.0" cy="330.5" r="0.58"/><circle cx="218.7" cy="326.9" r="0.69"/><circle cx="203.2" cy="328.4" r="0.70"/><circle cx="183.2" cy="383.2" r="0.58"/><circle cx="177.4" cy="355.0" r="0.60"/><circle cx="197.9" cy="354.7" r="0.62"/><circle cx="155.4" cy="409.8" r="0.51"/><circle cx="144.3" cy="437.2" r="0.70"/><circle cx="146.7" cy="427.5" r="0.53"/><circle cx="189.1" cy="435.4" r="0.47"/></g><g opacity="0.95"><path d="M198.0,321.6 L240.0,321.6 L244.0,337.0 L244.0,350.3 L234.0,360.0 L214.0,364.0 L200.0,352.0 Z" fill="#e8a8e0"/><path d="M231.8,321.6 231.5,323.0 232.8,324.0 240.7,324.1 241.6,323.7 242.1,322.8 241.6,320.7 240.3,319.8 233.6,319.8ZM197.6,325.3 196.8,325.8 196.5,326.8 196.9,331.9 198.0,333.0 204.8,331.6 208.6,327.8 208.3,326.5 205.0,323.3ZM203.2,342.6 204.3,342.2 204.8,341.3 204.3,333.6 203.0,332.8 198.2,334.0 197.5,335.2 198.1,341.6 199.1,342.3ZM236.3,352.5 229.7,351.5 226.7,353.6 226.0,357.7 227.1,358.7 233.3,359.2 237.1,354.8 237.3,353.5ZM230.8,324.7 229.7,325.3 228.1,327.7 228.6,331.4 229.7,332.4 233.4,332.6 239.8,327.6 240.3,326.7 240.1,325.6 239.2,324.9Z" fill="#dc66c8"/><path d="M218.8,351.4 219.2,352.3 220.1,352.7 226.5,352.7 229.7,350.3 230.6,345.3 230.4,344.3 229.3,343.5 224.1,343.6 218.9,348.4ZM217.3,365.0 218.2,364.4 218.5,363.6 218.2,362.6 217.4,362.0 214.2,361.9 212.5,363.6 212.6,364.9 213.6,365.6ZM207.1,353.8 207.0,355.1 207.8,356.0 214.0,357.1 218.2,353.0 218.1,349.6 217.0,348.7 211.0,348.4ZM211.3,326.6 215.9,322.5 216.2,321.4 215.5,320.4 208.0,320.2 206.7,320.8 206.1,322.3 206.4,323.3 209.4,326.5ZM214.1,325.9 213.7,326.9 214.0,327.9 216.3,329.8 217.3,330.0 226.8,326.9 228.3,324.5 227.6,323.4 222.6,320.4 220.6,320.2ZM234.8,332.8 234.3,334.5 235.1,336.1 236.1,336.7 242.3,334.1 243.0,333.1 243.3,328.3 242.4,327.6 241.3,327.7ZM205.8,343.1 204.3,343.8 198.5,351.5 198.8,353.0 202.9,356.2 205.3,355.3 210.0,348.1 208.0,343.6 207.3,343.1ZM217.7,331.0 216.8,331.8 215.3,336.4 215.5,337.6 216.5,338.2 222.5,338.0 227.6,332.5 227.3,329.4 226.1,328.4ZM241.8,342.4 243.1,341.9 245.4,338.5 245.2,336.0 243.7,335.0 242.7,335.0 236.2,338.0 235.1,339.9 235.1,340.9 235.9,341.7ZM224.1,359.1 225.2,355.4 224.9,354.2 223.9,353.6 219.4,353.5 218.6,353.8 214.9,357.5 214.5,359.6 215.6,361.0 220.8,361.3Z" fill="#e070cc"/><path d="M229.0,333.5 227.9,333.9 223.6,338.4 223.6,339.6 224.4,341.8 225.1,342.5 231.3,342.6 232.9,341.5 234.6,338.2 234.6,337.2 233.0,334.2ZM201.5,345.9 201.8,344.6 201.0,343.6 199.2,343.4 198.1,344.2 198.1,346.3 198.9,347.2 200.3,347.2ZM223.5,360.8 223.0,362.4 224.3,363.5 228.3,362.7 229.2,361.4 228.9,360.3 227.8,359.8 225.3,359.6ZM205.9,340.7 206.5,341.8 207.8,342.0 213.9,337.9 215.8,331.3 212.1,327.9 209.7,328.1 205.7,332.0ZM210.7,346.6 211.8,347.4 218.3,347.7 223.2,343.2 223.3,342.2 222.4,339.9 221.3,339.2 214.2,339.4 209.4,342.8 209.4,343.9ZM239.9,343.4 232.9,342.9 231.7,344.1 230.9,349.6 231.9,350.5 237.6,351.4 241.0,345.6 241.0,344.3ZM239.5,350.8 239.5,352.2 240.7,353.0 243.4,352.8 245.2,351.2 245.5,345.4 244.9,344.3 243.8,343.9 242.8,344.5ZM196.3,323.4 196.9,324.5 198.2,324.7 204.7,322.8 205.4,321.9 205.5,320.9 204.2,319.8 197.6,319.8 196.3,321.0ZM207.9,356.9 206.4,357.6 206.3,359.2 210.3,362.6 211.8,362.6 213.2,361.0 213.1,358.4 212.3,357.9Z" fill="#e27ad0"/></g><mask id="mk561952922" maskUnits="userSpaceOnUse" x="0" y="300" width="676" height="289"><path d="M208.0,362.0 L230.0,372.0 L224.0,398.8 L219.0,418.7 L218.0,438.5 L196.0,438.5 L202.0,400.0 Z" fill="#fff" filter="url(#b2)"/></mask><rect x="0" y="300" width="676" height="289" filter="url(#dense)" mask="url(#mk561952922)" opacity="0.75"/><g fill="#553377" opacity="0.7"><circle cx="199.3" cy="424.0" r="0.62"/><circle cx="200.9" cy="435.4" r="0.42"/><circle cx="210.2" cy="371.0" r="0.61"/><circle cx="208.1" cy="373.8" r="0.46"/><circle cx="216.4" cy="410.9" r="0.55"/><circle cx="208.4" cy="418.9" r="0.59"/><circle cx="213.1" cy="385.6" r="0.50"/><circle cx="224.8" cy="383.0" r="0.53"/><circle cx="204.1" cy="434.8" r="0.50"/><circle cx="218.2" cy="377.0" r="0.55"/><circle cx="205.5" cy="419.8" r="0.62"/><circle cx="208.0" cy="387.9" r="0.50"/><circle cx="200.5" cy="428.5" r="0.59"/><circle cx="211.2" cy="424.9" r="0.60"/><circle cx="222.1" cy="396.0" r="0.57"/><circle cx="209.3" cy="373.5" r="0.40"/><circle cx="205.9" cy="420.1" r="0.60"/><circle cx="202.3" cy="412.0" r="0.52"/><circle cx="211.7" cy="386.8" r="0.51"/><circle cx="210.7" cy="405.4" r="0.59"/><circle cx="211.8" cy="425.0" r="0.35"/><circle cx="206.5" cy="431.7" r="0.53"/><circle cx="219.6" cy="399.8" r="0.58"/><circle cx="207.2" cy="429.5" r="0.42"/><circle cx="218.3" cy="387.0" r="0.62"/><circle cx="207.0" cy="395.7" r="0.53"/><circle cx="205.5" cy="402.6" r="0.65"/><circle cx="211.6" cy="378.9" r="0.64"/><circle cx="220.8" cy="401.5" r="0.38"/><circle cx="219.0" cy="406.7" r="0.59"/><circle cx="221.1" cy="390.2" r="0.47"/><circle cx="201.3" cy="407.2" r="0.40"/><circle cx="210.4" cy="406.5" r="0.44"/><circle cx="214.5" cy="387.6" r="0.43"/><circle cx="199.3" cy="424.4" r="0.48"/><circle cx="220.2" cy="399.4" r="0.62"/><circle cx="207.5" cy="397.1" r="0.46"/><circle cx="223.4" cy="387.5" r="0.39"/><circle cx="212.6" cy="423.6" r="0.37"/><circle cx="208.9" cy="368.8" r="0.49"/></g><ellipse cx="66" cy="386" rx="13" ry="3.5" transform="rotate(-20 66 386)" fill="#fbeaf6" filter="url(#b1)"/><ellipse cx="150" cy="347" rx="12" ry="4" transform="rotate(-15 150 347)" fill="#fbeaf6" opacity="0.7" filter="url(#b1)"/><ellipse cx="45" cy="333" rx="4" ry="2.5" fill="none" stroke="#9a5ab0" stroke-width="1"/><ellipse cx="55" cy="331" rx="3" ry="2.5" fill="none" stroke="#9a5ab0" stroke-width="1"/><ellipse cx="41" cy="390" rx="3" ry="5" fill="#b070c0" opacity="0.7"/></g>
<line x1="233.4" y1="396.4" x2="224.6" y2="389.0" stroke="#000" stroke-width="2.0"/><path d="M220.4,385.5 L227.7,386.9 L223.1,392.4 Z" fill="#000"/>
<clipPath id="c2"><path d="M256.2,318.2 L433.8,318.2 L433.8,438.3 L256.2,438.3 Z"/></clipPath><g clip-path="url(#c2)"><path d="M256.2,318.2 L433.8,318.2 L433.8,438.3 L256.2,438.3 Z" filter="url(#dense2)"/><path d="M256.0,318.0 L335.0,318.0 L320.0,410.0 L256.0,400.0 Z" filter="url(#cracks)" opacity="0.9"/><mask id="mk581261276" maskUnits="userSpaceOnUse" x="0" y="300" width="676" height="289"><path d="M333.0,318.2 L358.0,318.2 L360.0,438.3 L316.0,438.3 L324.0,400.0 Z" fill="#fff" filter="url(#b5)"/></mask><rect x="0" y="300" width="676" height="289" filter="url(#meshl)" mask="url(#mk581261276)"/><path d="M333.0,318.2 L358.0,318.2 L360.0,438.3 L316.0,438.3 L324.0,400.0 Z" fill="#fbeefa" filter="url(#b5)" opacity="0.3"/><g fill="#fcf2fb"><ellipse cx="342.5" cy="415.4" rx="3.3" ry="3.0"/><ellipse cx="332.3" cy="394.9" rx="3.4" ry="3.5"/><ellipse cx="320.7" cy="398.1" rx="2.6" ry="2.6"/><ellipse cx="318.3" cy="422.2" rx="3.4" ry="3.9"/><ellipse cx="334.1" cy="418.7" rx="3.8" ry="4.3"/><ellipse cx="347.8" cy="403.9" rx="2.9" ry="3.3"/><ellipse cx="325.0" cy="435.2" rx="3.8" ry="3.6"/><ellipse cx="343.2" cy="399.9" rx="1.5" ry="1.7"/><ellipse cx="334.7" cy="407.2" rx="3.5" ry="3.6"/><ellipse cx="320.2" cy="404.5" rx="2.1" ry="2.2"/><ellipse cx="325.3" cy="416.0" rx="1.9" ry="2.2"/><ellipse cx="350.8" cy="432.9" rx="3.6" ry="2.9"/><ellipse cx="340.0" cy="433.6" rx="2.3" ry="2.2"/><ellipse cx="317.2" cy="431.9" rx="2.0" ry="1.9"/><ellipse cx="329.5" cy="424.3" rx="1.8" ry="1.8"/><ellipse cx="351.2" cy="422.5" rx="1.5" ry="1.3"/><ellipse cx="338.9" cy="426.3" rx="2.3" ry="2.7"/><ellipse cx="344.2" cy="425.5" rx="1.9" ry="1.7"/><ellipse cx="328.2" cy="409.4" rx="1.5" ry="1.4"/><ellipse cx="322.2" cy="412.4" rx="1.9" ry="1.6"/><ellipse cx="326.8" cy="404.6" rx="1.7" ry="1.6"/><ellipse cx="345.0" cy="437.9" rx="2.6" ry="2.8"/><ellipse cx="348.5" cy="415.2" rx="1.6" ry="1.4"/><ellipse cx="328.0" cy="400.8" rx="1.6" ry="1.3"/><ellipse cx="325.0" cy="423.3" rx="2.0" ry="2.0"/><ellipse cx="345.4" cy="393.1" rx="2.6" ry="2.7"/><ellipse cx="332.1" cy="430.8" rx="2.5" ry="2.6"/></g><g fill="#fcf2fb"><ellipse cx="332.6" cy="385.5" rx="2.2" ry="1.8"/><ellipse cx="352.5" cy="339.9" rx="1.8" ry="1.8"/><ellipse cx="343.4" cy="367.2" rx="1.3" ry="1.3"/><ellipse cx="353.0" cy="351.9" rx="1.9" ry="2.1"/><ellipse cx="342.5" cy="351.4" rx="2.2" ry="2.2"/><ellipse cx="332.4" cy="359.3" rx="1.3" ry="1.1"/><ellipse cx="340.5" cy="388.1" rx="1.3" ry="1.2"/><ellipse cx="342.9" cy="358.8" rx="2.0" ry="1.8"/><ellipse cx="347.4" cy="387.9" rx="1.3" ry="1.3"/><ellipse cx="341.6" cy="375.2" rx="2.4" ry="2.7"/><ellipse cx="334.9" cy="363.9" rx="1.5" ry="1.7"/><ellipse cx="351.5" cy="364.2" rx="1.2" ry="1.4"/><ellipse cx="332.6" cy="349.8" rx="2.2" ry="2.5"/><ellipse cx="333.9" cy="376.9" rx="1.3" ry="1.4"/><ellipse cx="353.0" cy="374.4" rx="1.3" ry="1.4"/><ellipse cx="339.7" cy="381.6" rx="1.7" ry="1.4"/><ellipse cx="343.8" cy="339.5" rx="1.4" ry="1.3"/><ellipse cx="334.8" cy="395.0" rx="1.9" ry="1.9"/><ellipse cx="329.3" cy="370.7" rx="1.5" ry="1.5"/><ellipse cx="336.2" cy="342.8" rx="1.7" ry="1.7"/><ellipse cx="349.5" cy="369.5" rx="1.9" ry="1.9"/><ellipse cx="352.1" cy="385.2" rx="1.3" ry="1.5"/></g><mask id="mk92771059" maskUnits="userSpaceOnUse" x="0" y="300" width="676" height="289"><path d="M358.0,318.2 L381.0,318.2 L383.0,438.3 L360.0,438.3 Z" fill="#fff" filter="url(#b3)"/></mask><rect x="0" y="300" width="676" height="289" filter="url(#dense)" mask="url(#mk92771059)" opacity="0.75"/><g fill="#553377" opacity="0.8"><circle cx="377.2" cy="337.1" r="0.69"/><circle cx="360.7" cy="354.0" r="0.48"/><circle cx="361.7" cy="340.6" r="0.58"/><circle cx="379.2" cy="410.3" r="0.61"/><circle cx="360.1" cy="362.8" r="0.70"/><circle cx="363.4" cy="365.7" r="0.46"/><circle cx="366.8" cy="344.5" r="0.51"/><circle cx="380.5" cy="347.2" r="0.40"/><circle cx="367.2" cy="405.0" r="0.56"/><circle cx="366.8" cy="396.5" r="0.69"/><circle cx="368.4" cy="342.3" r="0.45"/><circle cx="369.3" cy="344.7" r="0.69"/><circle cx="362.6" cy="399.6" r="0.59"/><circle cx="372.9" cy="387.2" r="0.57"/><circle cx="359.6" cy="379.4" r="0.63"/><circle cx="363.1" cy="322.3" r="0.47"/><circle cx="360.3" cy="400.4" r="0.55"/><circle cx="369.0" cy="323.6" r="0.57"/><circle cx="361.5" cy="398.6" r="0.41"/><circle cx="359.8" cy="418.5" r="0.71"/><circle cx="368.5" cy="398.7" r="0.46"/><circle cx="380.7" cy="385.7" r="0.70"/><circle cx="380.8" cy="324.4" r="0.40"/><circle cx="362.0" cy="326.3" r="0.44"/><circle cx="370.3" cy="345.4" r="0.49"/><circle cx="361.5" cy="334.6" r="0.65"/><circle cx="366.0" cy="323.3" r="0.46"/><circle cx="375.5" cy="346.7" r="0.67"/><circle cx="380.1" cy="398.5" r="0.51"/><circle cx="376.2" cy="429.1" r="0.43"/><circle cx="379.8" cy="436.3" r="0.62"/><circle cx="374.9" cy="333.0" r="0.49"/><circle cx="372.6" cy="351.1" r="0.56"/><circle cx="378.4" cy="371.3" r="0.65"/><circle cx="364.5" cy="329.3" r="0.60"/><circle cx="382.4" cy="430.4" r="0.61"/><circle cx="362.6" cy="434.1" r="0.60"/><circle cx="360.6" cy="376.3" r="0.68"/><circle cx="372.9" cy="360.3" r="0.71"/><circle cx="370.2" cy="322.9" r="0.43"/><circle cx="369.7" cy="399.7" r="0.53"/><circle cx="372.6" cy="383.5" r="0.48"/><circle cx="359.1" cy="366.4" r="0.66"/><circle cx="368.6" cy="433.7" r="0.59"/><circle cx="359.6" cy="321.2" r="0.50"/><circle cx="362.2" cy="434.9" r="0.50"/><circle cx="379.2" cy="385.7" r="0.61"/><circle cx="364.3" cy="407.4" r="0.44"/><circle cx="361.6" cy="387.8" r="0.59"/><circle cx="368.7" cy="388.7" r="0.47"/><circle cx="381.7" cy="377.2" r="0.61"/><circle cx="373.5" cy="425.2" r="0.60"/><circle cx="369.7" cy="385.6" r="0.69"/><circle cx="377.1" cy="430.4" r="0.49"/><circle cx="371.9" cy="366.7" r="0.62"/><circle cx="366.5" cy="394.9" r="0.59"/><circle cx="360.8" cy="407.7" r="0.65"/><circle cx="374.3" cy="400.5" r="0.60"/><circle cx="368.0" cy="378.0" r="0.66"/><circle cx="372.2" cy="325.0" r="0.49"/><circle cx="374.0" cy="325.6" r="0.43"/><circle cx="359.3" cy="351.9" r="0.40"/><circle cx="372.6" cy="366.1" r="0.40"/><circle cx="362.9" cy="394.2" r="0.42"/><circle cx="366.8" cy="325.2" r="0.41"/><circle cx="379.5" cy="336.4" r="0.49"/><circle cx="374.6" cy="378.6" r="0.69"/><circle cx="374.2" cy="401.0" r="0.53"/><circle cx="365.5" cy="398.4" r="0.43"/><circle cx="364.2" cy="405.8" r="0.48"/></g><g><path d="M376.0,318.2 L434.0,318.2 L434.0,438.3 L390.0,438.3 L384.0,405.0 L382.0,370.0 L379.0,340.0 Z" fill="#f8e4f6"/><path d="M434.5,345.8 427.9,340.3 426.8,340.4 426.0,341.3 425.9,342.4 431.6,361.6 432.4,362.5 433.6,362.7 434.6,362.2 435.1,361.1 435.1,346.8ZM434.6,319.4 433.8,317.9 432.2,317.6 430.9,318.1 430.4,319.4 431.4,321.9 432.9,322.6 434.4,321.6ZM401.6,318.1 400.1,316.9 393.1,317.2 392.3,318.7 392.9,323.9 403.7,345.1 405.1,345.8 409.6,345.3 410.6,344.6 410.8,343.2ZM390.6,424.2 388.8,423.5 387.4,424.9 388.8,433.2 392.0,438.3 396.1,438.5 397.2,437.0 397.1,434.8 396.5,432.7ZM405.1,316.8 403.6,317.5 403.3,319.0 413.1,345.6 419.0,356.4 426.6,360.2 428.1,360.0 428.9,359.3 429.0,358.1 423.6,339.9 409.1,317.5 408.1,316.8ZM381.2,338.8 379.4,338.0 378.4,338.5 377.9,339.5 379.1,352.1 385.4,364.6 387.2,366.1 388.5,366.2 389.7,365.2 390.8,360.7 387.6,349.1ZM433.8,409.8 429.8,407.6 428.7,408.0 428.1,408.9 428.1,409.9 431.3,415.7 432.2,416.3 433.2,416.3 434.5,414.9 434.4,410.7ZM390.5,369.5 403.8,396.1 405.0,396.3 405.9,395.8 406.5,394.8 404.5,385.9 394.0,366.8 393.1,366.1 391.9,366.2 390.9,367.1ZM408.9,361.1 417.4,373.8 418.7,374.3 420.5,373.6 421.1,372.0 417.1,357.4 412.1,348.2 411.0,347.4 407.2,347.8 406.0,349.3ZM378.2,317.6 376.9,318.1 376.4,319.2 377.3,328.2 386.7,343.2 387.7,343.9 388.8,343.8 389.7,343.0 389.9,341.8 384.8,323.1 381.7,318.0 380.7,317.6ZM385.5,396.6 384.8,395.8 383.7,395.7 382.8,396.1 382.2,397.2 382.6,405.1 383.5,409.8 395.2,426.9 396.1,427.4 397.2,427.4 398.3,426.2 399.0,421.0Z" fill="#dc5ec8"/><path d="M429.4,417.1 428.5,416.3 427.2,416.3 426.3,417.1 426.1,418.4 431.8,433.5 432.7,434.4 433.9,434.5 435.2,433.1 435.2,427.6ZM430.4,364.5 429.6,363.7 423.8,361.0 422.4,361.2 421.6,362.3 424.5,373.9 431.3,386.9 433.0,387.7 434.1,387.2 434.6,386.1 434.6,373.0ZM385.8,382.2 384.3,381.2 382.8,382.0 382.4,383.0 382.7,386.7 394.4,408.0 395.4,408.7 396.6,408.6 397.7,407.1 397.0,403.8ZM411.5,388.6 410.5,387.8 409.3,387.8 408.5,388.4 408.1,389.6 411.8,405.0 414.1,408.9 420.6,412.6 422.0,412.6 423.1,411.3 423.0,408.6ZM403.5,425.5 401.7,424.7 400.3,425.8 399.2,431.5 400.0,434.2 402.8,438.9 409.3,439.0 410.3,438.0 410.3,436.5ZM390.9,375.1 389.3,374.1 387.7,375.0 387.4,376.0 388.0,379.8 398.4,399.9 399.3,400.6 400.5,400.6 401.9,399.6 402.0,398.0ZM404.3,382.0 405.2,382.8 406.4,382.8 407.8,381.6 408.2,380.5 403.6,364.6 393.1,349.2 392.1,348.6 391.0,348.7 390.1,349.5 389.9,350.7 392.7,360.9ZM412.0,371.7 411.1,370.9 410.0,370.9 408.7,372.5 410.9,380.3 416.3,389.8 417.3,390.5 418.3,390.5 419.4,389.6 419.5,388.2 415.8,377.2Z" fill="#e26cce"/><path d="M413.7,320.3 418.7,327.7 419.7,327.8 420.7,327.3 421.2,326.4 419.4,319.0 418.0,317.9 414.8,317.9 413.7,318.9ZM386.6,320.6 388.2,321.5 389.5,321.2 390.3,320.1 390.0,318.4 388.8,317.6 387.0,317.9 386.2,319.2ZM413.4,436.5 414.7,437.4 416.0,437.0 418.4,434.5 418.6,433.0 411.0,410.4 408.7,406.3 405.0,402.6 403.3,402.3 401.1,403.6 400.5,405.0 404.4,421.9ZM419.1,378.5 427.5,402.8 432.0,405.7 433.4,405.6 434.3,404.6 433.4,395.9 423.4,376.7 422.6,376.0 421.5,376.0 419.5,376.8ZM391.9,326.0 391.0,325.2 389.8,325.1 388.8,325.8 388.5,326.9 393.9,346.8 402.1,358.8 403.0,359.3 404.0,359.3 405.0,358.5 405.2,357.3 402.6,347.1ZM430.3,436.4 423.0,417.8 418.9,415.6 417.7,415.8 416.8,416.9 422.1,433.7 425.2,438.3 429.1,438.6 430.1,437.7ZM433.7,333.9 426.8,318.5 425.6,317.6 423.5,317.9 422.7,319.7 427.3,336.1 431.4,339.9 433.0,340.2 434.3,338.6Z" fill="#d856c2"/></g><ellipse cx="418" cy="415" rx="16" ry="20" fill="#fbeef8" opacity="0.5" filter="url(#b3)"/><ellipse cx="281" cy="381" rx="9" ry="3.5" transform="rotate(10 281 381)" fill="#f8e6f6" opacity="0.9" filter="url(#b1)"/><ellipse cx="312" cy="398" rx="8" ry="5" fill="#f8e6f6" opacity="0.9" filter="url(#b1)"/><path d="M282,390 C288,387 296,385 302,384.5 C308,384 314,384.5 315.5,387.5 C316.5,392 312,397 305,398.5 C298,399.5 290,396 282,390 Z" fill="#6c2c8c" filter="url(#b05)"/><path d="M291,382.5 C294,380 299,379.5 303,380.5 C304,382.5 301,385 297,385.5 C294,385.5 292,384.5 291,382.5 Z" fill="#6c2c8c" filter="url(#b05)"/><path d="M256,368 C260,371 264,376 267,384 L256,386 Z" fill="#8a4aa8" opacity="0.85" filter="url(#b1)"/><path d="M256,404 C270,408 290,416 305,423 C318,429 328,433 336,437 L336,438.3 L256,438.3 Z" fill="#8d4cab" opacity="0.9" filter="url(#b05)"/><path d="M258,415 C268,418 276,420 282,421" stroke="#f6e0f4" stroke-width="2" fill="none" filter="url(#b05)"/><path d="M274,428 C290,432 304,435 318,438" stroke="#f2d4ee" stroke-width="1.6" fill="none" filter="url(#b05)"/><path d="M256,426 C268,430 280,436 290,438.3" stroke="#d872c4" stroke-width="3" fill="none" opacity="0.7" filter="url(#b05)"/><path d="M430,318 L434,318 L434,324 Z" fill="#333"/></g>
<line x1="359.8" y1="372.7" x2="369.0" y2="381.3" stroke="#000" stroke-width="2.0"/><path d="M373.0,385.0 L365.8,383.2 L370.7,377.9 Z" fill="#000"/>
<clipPath id="c3"><path d="M463.0,318.4 L620.0,318.4 L625.0,340.0 L636.0,346.7 L645.5,367.3 L650.0,401.7 L657.0,438.4 L463.0,438.4 Z"/></clipPath><g clip-path="url(#c3)"><path d="M463.0,318.4 L620.0,318.4 L625.0,340.0 L636.0,346.7 L645.5,367.3 L650.0,401.7 L657.0,438.4 L463.0,438.4 Z" fill="#e6bce6"/><path d="M505.4,389.7 512.6,381.9 507.9,376.7 502.6,378.1 499.1,384.2 500.1,388.7ZM588.6,397.7 584.4,390.6 579.7,389.8 575.5,395.5 584.4,402.0 587.7,402.1ZM463.4,419.9 462.0,418.5 461.5,418.5 461.5,428.0ZM510.1,438.1 503.4,438.7 501.9,439.9 511.8,439.9ZM634.6,364.9 623.9,373.9 624.1,377.5 632.6,383.1 638.0,378.6 637.5,365.7ZM480.7,399.2 489.0,406.0 494.6,399.6 494.3,395.4 485.9,389.9 484.3,390.4 480.5,396.2ZM564.1,419.4 572.9,412.9 572.5,409.8 568.9,404.9 559.4,405.3 558.1,417.3ZM462.8,417.9 464.2,419.3 473.2,420.0 473.5,419.6 474.2,411.5 470.2,405.8 465.7,404.4 464.9,404.6ZM525.1,316.9 511.0,316.9 512.2,320.8 523.3,320.1 524.9,318.9ZM596.8,438.5 602.0,439.9 612.3,439.9 610.5,431.8 605.7,429.1 598.9,432.8ZM589.8,345.7 582.0,347.6 580.2,357.3 581.6,358.9 594.2,354.5ZM537.3,367.1 537.9,366.8 543.3,356.4 541.4,350.7 537.6,349.4 528.6,357.7 529.5,363.1ZM584.8,435.6 583.1,426.8 581.6,425.4 568.8,430.9 567.7,434.2 575.0,439.9 580.7,439.9ZM656.7,433.7 657.5,433.2 655.5,422.6 650.3,415.6 644.5,417.0 641.6,425.7 643.7,430.9ZM605.1,331.7 597.3,322.6 591.4,323.1 590.7,323.5 589.8,335.8 592.3,339.2 599.2,338.6ZM570.0,344.3 570.5,355.2 579.2,356.8 581.1,347.4 577.3,343.2ZM633.4,439.3 632.6,439.9 639.5,439.9 639.5,439.8ZM618.5,369.7 623.3,373.1 633.8,364.3 630.0,360.2 619.6,361.9ZM511.5,423.5 520.3,422.5 524.6,417.5 525.2,415.0 519.7,407.0 509.1,410.1 506.2,416.9 506.9,419.4ZM462.7,402.9 464.5,403.6 465.4,403.4 469.9,392.0 469.1,389.3 466.0,387.7 461.5,390.1 461.5,399.4ZM597.5,356.2 606.9,362.1 613.1,356.8 613.3,349.3 604.2,348.9 597.2,355.5ZM464.5,347.2 468.4,331.7 464.5,328.0 461.5,328.4 461.5,346.9ZM580.1,336.3 588.8,335.5 589.7,323.8 577.9,323.5 575.9,328.9ZM629.4,351.6 630.7,359.5 634.8,363.9 638.0,364.8 641.0,363.6 643.4,359.1 637.1,345.7 634.8,344.2ZM559.1,404.4 568.7,403.9 571.2,396.6 566.4,392.0 561.6,391.9 556.5,396.2 555.5,400.6ZM563.5,360.0 559.6,359.5 556.6,361.4 553.0,371.3 554.7,376.5 557.7,377.5 562.1,376.7 568.1,369.6ZM501.3,359.9 512.4,355.7 515.3,350.8 510.6,344.2 501.6,344.1 496.9,352.5ZM558.3,378.4 561.8,390.9 566.3,391.0 569.8,383.2 562.2,377.7ZM547.7,383.0 542.2,382.4 536.7,388.8 540.4,396.1 548.3,387.6ZM578.4,371.3 579.3,376.6 592.3,380.6 596.3,374.6 593.4,370.4 582.0,366.4ZM525.9,414.3 536.2,410.2 535.2,402.1 523.2,398.4 520.5,406.4ZM467.5,318.4 466.9,316.9 462.9,316.9 461.8,317.6 461.5,327.3 464.4,327.1ZM513.3,356.1 517.3,366.2 522.0,367.8 528.5,363.2 527.6,357.8 517.7,351.2 516.1,351.3ZM523.3,334.2 514.3,334.8 511.4,343.6 516.1,350.3 517.6,350.2 530.1,338.9 529.7,337.8ZM510.5,343.2 513.3,334.4 509.1,327.5 501.1,328.7 499.7,340.4 501.6,343.1ZM585.8,435.4 595.9,438.2 598.0,432.5 593.0,425.5 584.2,427.0ZM505.3,417.2 490.3,412.1 487.3,419.8 490.0,427.7 495.5,427.4 505.8,419.5ZM592.9,424.5 596.6,417.9 588.1,413.3 581.5,418.5 582.2,424.6 583.7,426.0ZM472.0,355.8 477.6,359.5 481.2,359.4 489.2,351.7 483.3,340.2 470.8,352.0ZM482.3,318.0 493.7,317.1 493.8,316.9 482.1,316.9ZM610.9,430.9 617.7,425.6 616.7,418.1 613.4,416.5 605.3,418.0 606.2,428.2ZM560.0,344.6 557.3,348.2 559.8,358.5 563.7,359.0 569.5,355.3 569.0,344.1 568.0,343.4ZM494.6,317.6 498.0,326.2 500.8,327.7 509.0,326.5 511.4,321.3 509.9,316.9 494.9,316.9ZM642.6,396.5 637.4,403.8 637.2,411.1 644.2,416.1 650.2,414.6 652.3,411.8 652.2,405.2 651.2,399.6 647.6,395.3ZM463.9,404.5 461.5,404.0 461.5,417.5ZM536.1,439.9 548.3,439.9 550.9,434.2 548.5,430.3 539.5,428.8ZM624.6,429.0 629.0,427.7 627.0,414.0 617.7,418.0 618.7,425.5ZM552.1,371.7 538.3,367.7 537.8,368.0 536.6,375.1 542.2,381.4 547.9,382.0 553.7,376.8ZM592.6,381.6 585.3,390.2 589.3,396.8 598.1,390.6ZM621.6,401.9 627.4,398.3 628.4,391.1 617.9,390.3 616.8,393.1 620.4,401.5ZM540.3,397.9 536.2,401.9 537.2,410.2 540.1,412.2 544.3,411.8 550.1,402.1ZM461.6,366.5 467.5,374.6 475.4,374.3 476.9,360.3 471.7,356.7ZM559.3,323.4 558.2,322.3 546.8,322.0 543.6,323.9 548.6,334.1 555.1,333.8 559.8,329.4ZM588.6,412.4 597.4,417.2 602.1,415.9 601.1,405.4 589.1,403.9ZM483.3,390.0 476.6,384.5 470.1,389.1 470.8,391.6 479.8,395.4ZM480.6,332.2 481.6,318.9 468.4,318.9 465.3,327.4 469.1,331.0ZM489.1,428.1 486.4,420.3 474.2,420.3 473.9,420.6 474.9,430.0 486.0,432.8ZM617.0,321.0 621.0,322.4 622.3,321.7 621.1,317.4 620.1,316.9 615.1,316.9ZM529.3,387.8 526.7,380.5 523.4,379.2 516.1,382.8 519.4,394.5 522.8,397.1ZM463.9,380.0 466.7,375.1 461.5,368.0 461.5,379.8ZM490.0,352.3 482.1,359.8 492.2,368.0 500.4,360.5 496.0,353.0ZM608.7,331.8 616.2,339.0 625.0,334.5 620.7,323.3 616.8,322.0ZM548.7,335.1 547.7,346.0 556.5,347.5 559.2,344.0 555.0,334.8ZM629.5,428.6 633.6,438.3 639.5,438.8 642.8,431.4 640.7,426.3ZM599.6,320.0 598.1,322.0 606.0,331.2 607.8,331.3 616.1,321.3 614.0,316.9 612.0,316.9ZM572.2,396.9 569.7,404.3 573.1,408.9 583.4,402.4 574.7,396.1ZM519.5,406.0 522.3,398.0 518.8,395.3 509.4,396.4 505.8,402.8 509.0,409.1ZM642.0,363.8 646.5,366.0 643.9,360.2ZM570.3,319.3 560.3,323.4 560.8,329.2 567.8,332.4 574.9,328.6 577.0,323.0 576.3,322.0ZM556.4,348.5 547.3,346.9 542.4,350.5 544.3,356.0 556.1,360.5 558.9,358.7ZM525.7,430.8 538.3,427.7 538.1,427.2 525.1,418.4 521.2,423.1ZM626.3,413.2 621.3,402.9 620.1,402.5 614.3,405.8 614.0,415.7 617.1,417.2ZM595.7,439.2 585.5,436.3 582.1,439.9 595.6,439.9ZM587.6,412.4 587.9,403.1 584.4,403.0 573.5,409.9 573.9,412.8 581.0,417.6ZM601.6,391.2 609.4,381.5 608.9,380.6 597.2,375.1 593.4,381.0 599.1,390.3ZM607.4,363.0 607.4,365.1 613.2,370.4 617.5,369.5 618.6,361.7 613.6,357.7ZM531.1,338.8 531.9,339.3 547.6,334.3 542.6,324.1 540.8,323.7 536.9,325.2 530.7,337.5ZM535.8,325.0 525.4,319.8 524.0,320.8 523.9,333.4 529.9,336.8ZM640.4,439.3 640.7,439.9 653.8,439.9 656.1,434.6 643.6,432.0ZM483.6,335.1 484.2,337.5 498.7,340.0 500.2,328.5 497.6,327.1ZM621.7,323.2 624.0,329.1 622.5,322.7ZM465.4,347.6 470.2,351.2 483.0,339.2 483.2,337.9 482.5,335.1 480.8,333.2 469.3,332.1ZM654.8,439.9 657.3,439.9 658.3,439.1 657.7,434.2 657.1,434.6ZM625.4,335.4 616.5,339.9 615.5,347.1 628.7,350.9 633.9,343.7 626.4,339.1ZM522.7,368.5 523.8,378.3 527.0,379.5 535.6,374.9 536.8,367.9 529.0,364.0ZM577.2,321.5 577.8,322.5 590.1,322.8 590.6,322.4 589.3,316.9 578.4,316.9ZM577.4,371.7 568.9,370.2 563.1,377.0 570.5,382.5 575.9,381.4 578.4,376.9ZM490.0,428.7 486.8,433.9 493.1,439.9 500.3,439.9 502.5,438.1 495.4,428.4ZM589.6,397.9 588.7,402.5 588.9,402.9 601.4,404.5 604.1,401.3 604.4,396.8 601.4,392.2 598.8,391.3ZM461.5,433.6 461.5,438.5 462.2,439.6 470.8,439.9 469.5,434.8ZM471.0,355.9 469.8,352.2 464.7,348.2 461.5,347.9 461.5,365.3ZM621.3,439.1 618.6,439.9 622.6,439.9ZM540.8,397.1 550.9,401.3 554.6,400.4 555.5,396.1 548.8,388.5ZM469.7,433.8 473.9,430.2 472.9,420.9 464.4,420.3 461.5,432.6ZM523.7,397.5 535.6,401.2 539.7,397.0 535.8,389.2 530.1,388.4ZM470.7,392.6 466.4,403.6 470.5,404.9 479.7,399.2 479.5,396.4ZM485.6,389.0 488.8,381.6 487.2,376.6 477.7,376.6 477.1,383.7 484.1,389.4ZM492.6,369.8 502.4,377.2 507.6,375.8 508.3,372.6 500.9,361.4 492.7,368.9ZM510.8,437.4 513.2,439.9 519.2,439.9 523.5,437.3 524.9,431.4 520.3,423.6 511.8,424.5ZM562.7,437.3 562.5,439.9 573.4,439.9 567.1,434.9ZM548.6,382.8 549.3,387.5 556.1,395.3 560.9,391.3 557.2,378.4 554.4,377.5ZM555.9,334.4 560.0,343.6 567.7,342.5 567.3,333.3 560.4,330.2ZM653.1,412.5 651.1,415.1 655.1,420.3 653.6,412.4ZM539.4,427.8 548.5,429.3 553.7,419.2 544.5,412.8 540.4,413.2 539.0,426.9ZM525.9,318.9 536.5,324.3 540.1,322.9 538.7,316.9 526.1,316.9ZM483.8,439.9 491.6,439.9 486.4,435.0ZM581.0,359.7 579.4,357.9 570.1,356.1 564.4,359.7 569.1,369.2 577.7,370.7 581.3,365.7ZM638.6,379.4 633.1,383.9 632.6,387.9 642.4,395.5 647.4,394.3 649.7,387.8 649.2,384.0ZM613.3,439.9 615.0,439.9 621.0,438.1 623.9,429.8 618.3,426.4 611.5,431.7ZM609.9,380.2 610.3,381.1 615.8,383.7 623.1,377.6 622.9,374.0 617.9,370.5 613.4,371.4ZM508.1,409.7 504.9,403.2 495.3,400.3 489.6,406.9 489.5,408.5 490.4,411.1 505.4,416.2ZM575.9,382.4 570.8,383.5 567.2,391.4 571.9,395.9 574.5,395.1 578.9,389.2ZM549.3,429.8 551.8,433.7 562.1,436.5 566.7,434.0 567.9,430.5 563.8,420.4 557.6,418.2 554.7,419.5ZM523.0,321.1 512.2,321.9 509.9,327.0 514.1,333.8 522.9,333.2ZM605.2,428.2 604.3,417.9 602.5,416.8 597.6,418.2 593.8,425.0 598.7,431.8ZM496.3,428.0 503.5,437.7 509.8,437.1 510.8,424.3 506.4,420.3ZM532.6,340.2 537.8,348.4 541.7,349.7 546.7,346.1 547.7,335.3ZM541.1,322.8 542.9,323.2 546.2,321.2 547.5,316.9 539.8,316.9ZM648.3,394.7 651.0,397.8 650.0,390.0ZM481.5,332.5 483.1,334.3 497.0,326.3 493.7,318.1 482.6,319.1ZM605.1,396.1 615.9,392.7 617.1,389.7 615.5,384.6 610.1,382.1 602.4,391.8ZM517.0,367.2 509.3,372.8 508.6,376.0 513.6,381.4 515.5,382.0 522.8,378.4 521.7,368.7ZM606.9,366.0 598.4,374.4 609.0,379.6 612.4,371.1ZM640.7,425.2 643.5,416.8 636.6,411.9 628.1,414.0 629.9,427.3ZM641.3,364.5 638.5,365.7 639.0,378.5 649.0,382.9 647.0,367.3ZM602.1,405.2 603.1,416.0 604.8,417.0 613.0,415.6 613.3,405.8 604.7,402.2ZM545.3,412.1 554.4,418.5 557.1,417.3 558.4,405.0 554.8,401.3 551.2,402.3ZM581.2,424.5 580.5,418.5 573.4,413.7 564.8,420.1 568.7,429.8ZM619.3,360.9 629.6,359.3 628.4,351.9 615.1,348.1 614.3,349.0 614.1,356.8ZM477.9,360.5 476.4,374.6 477.4,375.6 487.3,375.6 491.6,369.9 491.7,368.9 481.2,360.4ZM523.9,438.2 521.1,439.9 527.6,439.9ZM530.8,339.7 518.6,350.6 528.0,356.9 536.8,348.7ZM485.8,434.1 474.6,431.0 470.4,434.6 471.9,439.9 482.7,439.9ZM465.4,386.9 463.8,381.0 461.5,380.8 461.5,389.0ZM468.3,317.9 481.2,317.8 481.1,316.9 468.0,316.9ZM505.3,390.7 499.9,389.7 495.3,395.3 495.6,399.4 505.0,402.2 508.5,396.0ZM641.6,396.2 632.1,388.7 629.4,390.9 628.4,398.4 636.7,403.0ZM570.7,318.4 576.3,320.9 577.3,316.9 570.2,316.9ZM613.6,348.3 614.5,347.3 615.5,339.8 607.8,332.3 606.0,332.2 600.1,339.2 604.3,347.9ZM589.1,336.4 580.2,337.3 578.0,342.6 581.8,346.7 589.7,344.7 591.5,339.8ZM591.6,322.1 597.2,321.6 598.8,319.4 599.1,316.9 590.3,316.9ZM605.1,401.2 613.8,404.9 619.4,401.7 616.0,393.7 605.4,397.1ZM538.1,426.0 539.5,412.9 536.7,411.1 526.1,415.2 525.6,417.5ZM557.6,316.9 548.5,316.9 547.3,321.0 557.8,321.3ZM616.5,384.4 618.0,389.3 628.8,390.2 631.6,387.8 632.1,383.9 623.6,378.4ZM603.4,348.2 599.2,339.6 592.4,340.2 590.6,345.1 595.2,354.3 596.4,354.8ZM594.8,355.3 582.0,359.9 582.3,365.5 593.3,369.3 596.6,356.6 596.2,355.8ZM599.9,318.9 607.9,316.9 600.1,316.9ZM471.2,405.6 474.9,410.8 488.5,408.2 488.6,406.9 480.2,400.1ZM500.7,343.6 498.9,341.0 484.1,338.5 483.9,339.3 490.1,351.3 496.1,352.0ZM501.6,377.8 492.2,370.8 488.1,376.2 489.7,381.2 498.4,383.5ZM494.6,394.5 499.2,389.0 498.2,384.5 489.6,382.3 486.6,389.2ZM536.0,375.8 527.7,380.3 530.3,387.4 535.9,388.2 541.3,381.9ZM501.7,360.8 508.9,371.8 516.3,366.5 512.4,356.7ZM594.2,369.8 597.3,374.1 606.4,365.1 606.4,363.0 597.4,357.3ZM486.5,419.3 489.5,411.5 488.6,409.1 475.1,411.8 474.5,419.3ZM576.8,381.9 579.8,388.8 584.5,389.6 591.4,381.4 579.1,377.6ZM544.1,357.0 539.0,366.9 552.2,370.7 555.5,361.3ZM561.7,437.4 551.8,434.7 549.4,439.9 561.5,439.9ZM632.7,438.6 628.7,429.1 624.9,430.0 622.0,438.3 624.4,439.9 631.0,439.9ZM525.8,431.8 524.5,437.4 530.1,439.9 535.0,439.9 538.5,428.7ZM476.1,383.6 476.7,376.3 475.6,375.3 467.5,375.6 464.7,380.6 466.4,386.8 469.5,388.3ZM515.1,382.9 513.4,382.4 506.2,390.3 509.3,395.4 518.3,394.4ZM627.3,413.0 636.2,411.0 636.3,403.9 627.9,399.2 622.3,402.6ZM558.9,321.6 559.8,322.5 569.7,318.4 569.2,316.9 558.6,316.9ZM568.7,342.6 569.6,343.3 577.1,342.2 579.3,336.8 575.1,329.6 568.3,333.3Z" fill="#fcf6fc"/><g fill="none" stroke="#de90d8" stroke-linecap="round" opacity="0.55" filter="url(#b05)"><path d="M491.9,423.7 Q497.7,420.8 501.4,422.3" stroke-width="2.5"/><path d="M555.7,397.0 Q561.5,402.0 564.8,408.4" stroke-width="2.7"/><path d="M547.0,435.2 Q546.2,429.5 547.6,424.9" stroke-width="1.6"/><path d="M522.2,411.0 Q524.6,418.1 525.2,422.2" stroke-width="2.3"/><path d="M505.3,366.9 Q501.9,372.1 505.2,380.4" stroke-width="2.0"/><path d="M552.7,345.0 Q547.4,342.8 535.3,340.6" stroke-width="2.8"/><path d="M485.4,392.2 Q482.3,388.1 479.9,384.3" stroke-width="2.3"/><path d="M465.6,350.0 Q456.5,340.2 450.6,338.7" stroke-width="1.2"/><path d="M514.7,387.7 Q517.9,383.9 526.6,384.9" stroke-width="1.5"/><path d="M559.2,325.9 Q558.4,331.6 561.8,334.9" stroke-width="2.0"/><path d="M491.0,429.9 Q496.3,426.2 503.0,424.7" stroke-width="2.7"/><path d="M491.7,421.2 Q498.6,427.3 511.3,425.1" stroke-width="2.5"/><path d="M551.9,327.5 Q558.2,327.3 565.8,325.4" stroke-width="2.5"/><path d="M552.7,378.0 Q560.9,378.3 570.9,389.0" stroke-width="1.3"/><path d="M480.6,436.4 Q481.2,431.2 473.9,421.2" stroke-width="2.1"/><path d="M553.7,350.2 Q540.2,343.5 535.2,345.2" stroke-width="2.8"/><path d="M555.3,341.3 Q550.9,341.6 545.8,347.8" stroke-width="1.9"/><path d="M522.7,422.2 Q536.7,419.3 544.6,422.0" stroke-width="2.5"/><path d="M486.3,421.6 Q480.9,416.3 474.5,414.5" stroke-width="2.1"/><path d="M502.1,364.0 Q504.3,370.4 504.3,382.2" stroke-width="1.6"/><path d="M534.9,436.4 Q527.3,439.3 516.8,445.5" stroke-width="1.2"/><path d="M544.0,404.5 Q547.5,410.1 545.1,420.6" stroke-width="1.3"/></g><g fill="#4a2a6a" opacity="0.8"><circle cx="472.0" cy="350.1" r="0.49"/><circle cx="527.3" cy="342.6" r="0.58"/><circle cx="483.5" cy="320.8" r="0.73"/><circle cx="523.3" cy="328.7" r="0.68"/><circle cx="523.7" cy="384.0" r="0.66"/><circle cx="528.8" cy="378.5" r="0.71"/><circle cx="553.2" cy="424.3" r="0.45"/><circle cx="485.0" cy="345.5" r="0.64"/><circle cx="521.0" cy="437.6" r="0.58"/><circle cx="483.6" cy="353.8" r="0.64"/><circle cx="471.3" cy="388.4" r="0.68"/><circle cx="517.6" cy="365.0" r="0.72"/><circle cx="496.4" cy="369.2" r="0.45"/><circle cx="499.8" cy="421.7" r="0.53"/><circle cx="555.7" cy="407.7" r="0.58"/><circle cx="511.3" cy="324.2" r="0.50"/><circle cx="526.3" cy="326.0" r="0.77"/><circle cx="532.1" cy="358.8" r="0.55"/><circle cx="509.4" cy="348.7" r="0.67"/><circle cx="502.5" cy="336.9" r="0.43"/><circle cx="536.0" cy="388.2" r="0.71"/><circle cx="512.4" cy="320.6" r="0.69"/><circle cx="496.3" cy="432.4" r="0.54"/><circle cx="552.5" cy="413.2" r="0.60"/><circle cx="510.3" cy="426.7" r="0.77"/><circle cx="528.6" cy="329.8" r="0.44"/><circle cx="507.9" cy="384.9" r="0.58"/><circle cx="465.2" cy="352.8" r="0.58"/><circle cx="468.0" cy="319.1" r="0.62"/><circle cx="479.3" cy="361.6" r="0.50"/><circle cx="531.4" cy="335.6" r="0.63"/><circle cx="512.8" cy="382.7" r="0.56"/><circle cx="502.2" cy="412.6" r="0.65"/><circle cx="543.9" cy="391.4" r="0.49"/><circle cx="465.5" cy="427.3" r="0.65"/><circle cx="465.6" cy="341.0" r="0.43"/><circle cx="468.6" cy="387.9" r="0.66"/><circle cx="491.2" cy="357.7" r="0.64"/><circle cx="498.1" cy="356.6" r="0.71"/><circle cx="550.7" cy="419.5" r="0.67"/><circle cx="465.7" cy="428.1" r="0.70"/><circle cx="490.3" cy="378.6" r="0.55"/><circle cx="516.2" cy="390.2" r="0.54"/><circle cx="525.8" cy="428.6" r="0.70"/><circle cx="549.0" cy="339.1" r="0.49"/><circle cx="520.5" cy="409.7" r="0.59"/><circle cx="521.6" cy="359.8" r="0.70"/><circle cx="493.9" cy="420.5" r="0.59"/><circle cx="468.7" cy="377.2" r="0.66"/><circle cx="545.5" cy="407.5" r="0.70"/><circle cx="529.0" cy="430.9" r="0.43"/><circle cx="494.4" cy="389.2" r="0.69"/><circle cx="510.7" cy="382.0" r="0.56"/><circle cx="539.9" cy="368.1" r="0.75"/><circle cx="522.6" cy="384.4" r="0.44"/><circle cx="477.8" cy="399.4" r="0.44"/><circle cx="538.6" cy="344.5" r="0.43"/><circle cx="487.2" cy="318.4" r="0.75"/><circle cx="492.1" cy="319.8" r="0.55"/><circle cx="503.4" cy="338.7" r="0.48"/></g><g fill="none" stroke="#d880d0" stroke-linecap="round" opacity="0.6" filter="url(#b05)"><path d="M479.3,383.8 Q477.3,380.3 474.6,371.9" stroke-width="2.0"/><path d="M487.8,404.8 Q483.7,406.9 476.0,405.0" stroke-width="1.3"/><path d="M490.3,401.7 Q484.0,400.3 478.2,398.6" stroke-width="1.4"/><path d="M504.0,400.4 Q497.5,394.2 490.9,392.1" stroke-width="1.7"/><path d="M519.7,430.7 Q516.7,427.5 513.5,425.7" stroke-width="1.5"/><path d="M489.7,399.5 Q494.3,403.9 505.0,402.6" stroke-width="2.0"/><path d="M524.6,423.3 Q521.5,424.2 514.2,424.0" stroke-width="1.7"/><path d="M485.9,408.2 Q492.7,418.2 494.7,420.7" stroke-width="2.1"/><path d="M525.2,433.8 Q523.8,425.9 524.6,421.8" stroke-width="2.1"/><path d="M508.9,437.0 Q508.6,432.3 505.9,429.7" stroke-width="1.2"/><path d="M494.2,421.9 Q493.4,429.8 490.8,434.6" stroke-width="2.1"/><path d="M518.9,437.5 Q514.9,440.3 507.5,445.6" stroke-width="1.1"/><path d="M538.1,417.7 Q540.6,422.4 544.0,425.6" stroke-width="1.0"/><path d="M482.4,383.0 Q483.3,388.9 485.3,391.0" stroke-width="1.8"/><path d="M519.4,419.8 Q518.9,412.1 525.9,405.9" stroke-width="1.7"/><path d="M476.0,393.3 Q478.7,390.7 480.6,387.8" stroke-width="1.5"/><path d="M518.8,415.9 Q521.6,415.6 529.3,414.8" stroke-width="2.2"/><path d="M476.7,401.2 Q479.9,398.2 484.3,397.9" stroke-width="1.4"/><path d="M471.5,394.7 Q465.1,399.3 461.8,402.1" stroke-width="1.2"/><path d="M531.9,413.8 Q529.9,409.8 528.3,406.3" stroke-width="1.1"/><path d="M533.8,425.8 Q538.7,420.3 541.1,418.8" stroke-width="1.0"/><path d="M530.7,429.4 Q532.4,423.6 532.7,420.8" stroke-width="2.0"/><path d="M538.3,433.8 Q539.5,436.0 542.3,439.6" stroke-width="1.3"/><path d="M526.1,416.8 Q521.1,419.9 518.0,426.0" stroke-width="1.7"/><path d="M475.9,403.1 Q482.4,407.0 486.7,410.0" stroke-width="2.1"/><path d="M485.2,407.2 Q488.1,409.1 493.0,411.0" stroke-width="1.1"/><path d="M529.7,417.6 Q532.8,422.4 538.8,422.5" stroke-width="1.5"/><path d="M488.0,418.3 Q478.5,417.0 473.6,415.6" stroke-width="1.7"/><path d="M510.5,393.9 Q515.4,395.1 518.1,400.0" stroke-width="1.8"/><path d="M517.4,416.7 Q520.2,416.6 528.1,417.2" stroke-width="2.1"/></g><g fill="#4a2a6a" opacity="0.85"><circle cx="504.0" cy="406.6" r="0.72"/><circle cx="488.0" cy="411.9" r="0.55"/><circle cx="525.3" cy="425.2" r="0.66"/><circle cx="516.7" cy="433.3" r="0.71"/><circle cx="515.1" cy="419.4" r="0.62"/><circle cx="482.0" cy="418.7" r="0.59"/><circle cx="519.0" cy="400.3" r="0.82"/><circle cx="487.0" cy="393.4" r="0.63"/><circle cx="534.6" cy="434.8" r="0.48"/><circle cx="519.1" cy="406.8" r="0.49"/><circle cx="514.1" cy="429.5" r="0.52"/><circle cx="494.6" cy="383.6" r="0.73"/><circle cx="536.5" cy="433.5" r="0.60"/><circle cx="519.3" cy="400.4" r="0.62"/><circle cx="470.4" cy="410.6" r="0.58"/><circle cx="502.4" cy="395.3" r="0.62"/><circle cx="483.3" cy="404.7" r="0.79"/><circle cx="505.5" cy="433.0" r="0.52"/><circle cx="487.8" cy="410.6" r="0.60"/><circle cx="496.0" cy="383.9" r="0.83"/><circle cx="515.9" cy="403.4" r="0.56"/><circle cx="509.7" cy="436.1" r="0.83"/><circle cx="502.4" cy="412.4" r="0.49"/><circle cx="484.9" cy="386.9" r="0.71"/><circle cx="491.5" cy="401.2" r="0.81"/><circle cx="479.8" cy="386.6" r="0.52"/><circle cx="526.2" cy="412.2" r="0.52"/><circle cx="493.3" cy="389.1" r="0.84"/><circle cx="472.2" cy="411.4" r="0.84"/><circle cx="493.2" cy="402.3" r="0.81"/><circle cx="528.6" cy="428.0" r="0.81"/><circle cx="480.6" cy="407.9" r="0.57"/><circle cx="500.3" cy="424.8" r="0.83"/><circle cx="500.4" cy="387.5" r="0.63"/><circle cx="480.8" cy="381.7" r="0.62"/><circle cx="542.3" cy="436.8" r="0.77"/><circle cx="508.2" cy="411.0" r="0.57"/><circle cx="480.1" cy="409.2" r="0.80"/><circle cx="485.9" cy="418.7" r="0.79"/><circle cx="471.1" cy="408.8" r="0.55"/><circle cx="486.0" cy="403.4" r="0.79"/><circle cx="505.8" cy="390.0" r="0.49"/><circle cx="484.5" cy="414.6" r="0.55"/><circle cx="473.4" cy="408.5" r="0.66"/><circle cx="531.0" cy="425.3" r="0.62"/><circle cx="540.7" cy="425.2" r="0.50"/><circle cx="486.5" cy="406.1" r="0.67"/><circle cx="488.0" cy="419.6" r="0.52"/><circle cx="489.6" cy="419.2" r="0.47"/><circle cx="497.5" cy="412.4" r="0.83"/><circle cx="514.5" cy="416.4" r="0.73"/><circle cx="517.6" cy="410.3" r="0.76"/><circle cx="542.5" cy="426.7" r="0.57"/><circle cx="505.3" cy="390.7" r="0.68"/><circle cx="467.0" cy="403.3" r="0.49"/><circle cx="527.4" cy="411.5" r="0.55"/><circle cx="504.3" cy="407.5" r="0.58"/><circle cx="508.3" cy="404.5" r="0.56"/><circle cx="476.9" cy="415.6" r="0.75"/><circle cx="494.0" cy="416.0" r="0.52"/><circle cx="519.8" cy="408.4" r="0.52"/><circle cx="492.0" cy="395.9" r="0.57"/><circle cx="472.4" cy="405.4" r="0.47"/><circle cx="476.9" cy="396.9" r="0.50"/><circle cx="508.6" cy="430.6" r="0.77"/><circle cx="527.1" cy="432.1" r="0.69"/><circle cx="533.4" cy="424.2" r="0.63"/><circle cx="533.1" cy="423.0" r="0.79"/><circle cx="475.3" cy="386.5" r="0.52"/><circle cx="513.1" cy="416.0" r="0.69"/><circle cx="474.5" cy="398.2" r="0.62"/><circle cx="506.4" cy="400.8" r="0.81"/><circle cx="483.4" cy="399.0" r="0.71"/><circle cx="520.7" cy="423.8" r="0.53"/><circle cx="492.9" cy="417.5" r="0.62"/><circle cx="469.4" cy="381.6" r="0.64"/><circle cx="510.9" cy="414.0" r="0.68"/><circle cx="510.2" cy="407.6" r="0.83"/><circle cx="483.5" cy="417.3" r="0.70"/><circle cx="505.0" cy="417.9" r="0.63"/><circle cx="523.6" cy="430.7" r="0.65"/><circle cx="514.0" cy="417.0" r="0.60"/><circle cx="501.1" cy="433.0" r="0.49"/><circle cx="510.1" cy="399.0" r="0.83"/><circle cx="544.0" cy="430.9" r="0.83"/><circle cx="509.1" cy="412.0" r="0.82"/><circle cx="511.1" cy="432.1" r="0.72"/><circle cx="484.4" cy="399.2" r="0.49"/><circle cx="484.4" cy="384.9" r="0.76"/><circle cx="516.7" cy="398.3" r="0.53"/><circle cx="494.0" cy="404.8" r="0.75"/><circle cx="497.0" cy="406.4" r="0.49"/><circle cx="490.4" cy="398.7" r="0.66"/><circle cx="484.3" cy="405.7" r="0.81"/><circle cx="492.2" cy="383.3" r="0.62"/><circle cx="500.1" cy="402.9" r="0.61"/><circle cx="515.0" cy="404.4" r="0.65"/><circle cx="488.2" cy="395.6" r="0.82"/><circle cx="510.2" cy="400.3" r="0.63"/><circle cx="514.8" cy="422.3" r="0.47"/><circle cx="479.3" cy="403.3" r="0.61"/><circle cx="534.4" cy="417.5" r="0.49"/><circle cx="497.7" cy="394.3" r="0.61"/><circle cx="539.6" cy="428.5" r="0.66"/><circle cx="534.3" cy="427.9" r="0.66"/><circle cx="511.8" cy="431.7" r="0.69"/><circle cx="513.6" cy="432.2" r="0.56"/><circle cx="539.5" cy="423.9" r="0.50"/><circle cx="518.0" cy="427.5" r="0.62"/><circle cx="497.1" cy="419.8" r="0.76"/><circle cx="503.9" cy="434.2" r="0.68"/><circle cx="502.3" cy="393.0" r="0.52"/><circle cx="513.5" cy="401.0" r="0.64"/><circle cx="511.3" cy="408.3" r="0.53"/><circle cx="497.5" cy="409.1" r="0.66"/><circle cx="476.9" cy="396.8" r="0.46"/><circle cx="526.3" cy="429.8" r="0.66"/><circle cx="523.7" cy="417.7" r="0.57"/><circle cx="542.5" cy="437.8" r="0.83"/><circle cx="474.2" cy="385.1" r="0.49"/><circle cx="502.4" cy="394.8" r="0.81"/><circle cx="528.6" cy="435.7" r="0.69"/><circle cx="523.4" cy="422.8" r="0.51"/><circle cx="475.5" cy="380.3" r="0.73"/><circle cx="499.6" cy="417.6" r="0.59"/><circle cx="521.8" cy="431.3" r="0.82"/><circle cx="498.2" cy="408.9" r="0.75"/><circle cx="522.3" cy="429.6" r="0.53"/><circle cx="492.0" cy="404.3" r="0.48"/><circle cx="497.1" cy="421.2" r="0.61"/><circle cx="502.3" cy="427.7" r="0.73"/><circle cx="541.4" cy="428.5" r="0.51"/><circle cx="532.0" cy="418.5" r="0.73"/><circle cx="480.2" cy="396.5" r="0.52"/><circle cx="470.3" cy="406.2" r="0.64"/><circle cx="529.7" cy="414.3" r="0.69"/><circle cx="506.3" cy="407.3" r="0.53"/><circle cx="518.0" cy="420.8" r="0.67"/><circle cx="512.7" cy="397.1" r="0.48"/><circle cx="527.0" cy="422.9" r="0.49"/><circle cx="507.8" cy="399.6" r="0.47"/><circle cx="517.0" cy="419.3" r="0.68"/><circle cx="490.7" cy="397.6" r="0.66"/><circle cx="500.2" cy="419.6" r="0.59"/><circle cx="536.1" cy="414.9" r="0.73"/><circle cx="495.3" cy="402.6" r="0.80"/><circle cx="531.8" cy="438.1" r="0.51"/><circle cx="491.5" cy="400.8" r="0.59"/><circle cx="486.3" cy="383.8" r="0.78"/><circle cx="509.9" cy="415.3" r="0.78"/><circle cx="474.9" cy="404.5" r="0.64"/><circle cx="497.4" cy="396.9" r="0.83"/><circle cx="470.9" cy="404.6" r="0.78"/><circle cx="473.8" cy="388.3" r="0.63"/><circle cx="501.0" cy="429.2" r="0.84"/><circle cx="527.1" cy="421.3" r="0.81"/><circle cx="495.3" cy="414.3" r="0.77"/><circle cx="505.5" cy="409.0" r="0.72"/><circle cx="484.3" cy="421.6" r="0.68"/><circle cx="535.3" cy="424.5" r="0.74"/><circle cx="502.8" cy="394.2" r="0.71"/><circle cx="466.3" cy="406.2" r="0.84"/><circle cx="492.9" cy="388.7" r="0.62"/><circle cx="525.0" cy="428.8" r="0.50"/><circle cx="508.3" cy="428.4" r="0.79"/><circle cx="473.0" cy="401.9" r="0.53"/><circle cx="504.7" cy="432.7" r="0.73"/><circle cx="493.4" cy="401.5" r="0.84"/><circle cx="488.3" cy="383.1" r="0.46"/><circle cx="513.6" cy="403.0" r="0.67"/></g><path d="M518,338 C526,336 534,345 536,356 C538,366 532,374 524,372 C516,370 514,360 515,350 C515,344 516,340 518,338 Z" fill="none" stroke="#d488cc" stroke-width="2.6" opacity="0.75" filter="url(#b05)"/><g fill="#4a2a6a" opacity="0.8"><circle cx="536.7" cy="348.0" r="0.49"/><circle cx="524.1" cy="354.1" r="0.55"/><circle cx="529.3" cy="356.1" r="0.51"/><circle cx="515.5" cy="348.6" r="0.73"/><circle cx="534.6" cy="343.9" r="0.53"/><circle cx="526.1" cy="355.4" r="0.46"/><circle cx="518.1" cy="355.2" r="0.72"/><circle cx="535.8" cy="344.4" r="0.48"/><circle cx="531.1" cy="336.1" r="0.75"/><circle cx="536.3" cy="369.8" r="0.44"/><circle cx="538.5" cy="345.3" r="0.73"/><circle cx="518.3" cy="350.0" r="0.53"/><circle cx="515.5" cy="339.9" r="0.69"/><circle cx="524.3" cy="340.9" r="0.63"/><circle cx="535.1" cy="346.3" r="0.62"/><circle cx="522.5" cy="345.4" r="0.58"/><circle cx="516.0" cy="354.9" r="0.77"/><circle cx="515.5" cy="369.2" r="0.50"/><circle cx="539.7" cy="355.9" r="0.54"/><circle cx="536.1" cy="356.6" r="0.44"/><circle cx="529.7" cy="354.0" r="0.68"/><circle cx="539.5" cy="345.2" r="0.44"/><circle cx="524.6" cy="357.9" r="0.78"/><circle cx="518.8" cy="354.4" r="0.54"/><circle cx="535.7" cy="368.4" r="0.57"/><circle cx="538.8" cy="336.6" r="0.52"/><circle cx="512.7" cy="346.0" r="0.75"/><circle cx="540.0" cy="359.3" r="0.63"/><circle cx="524.6" cy="351.6" r="0.61"/><circle cx="529.7" cy="342.2" r="0.74"/></g><path d="M625.0,338.0 L636.0,346.7 L645.5,367.3 L650.0,401.7 L657.0,438.4 L613.4,438.4 L622.6,424.7 L627.0,379.0 Z" filter="url(#conn)"/><g><path d="M584.7,318.4 L621.0,318.4 L626.0,340.0 L627.0,379.0 L622.6,424.7 L613.4,438.4 L550.3,438.4 L553.8,401.7 L563.0,356.0 L574.4,342.0 Z" fill="#f0c8ec"/><path d="M617.3,432.3 617.8,433.2 619.0,433.1 624.2,424.9 625.0,416.5 623.6,393.9 622.8,392.9 621.3,393.0 620.6,393.8ZM598.2,352.8 597.3,351.9 596.2,352.8 588.0,397.1 588.1,398.2 594.5,409.6 595.3,410.1 596.4,409.3 600.3,388.6 600.9,377.3ZM615.4,325.5 617.3,342.1 618.2,342.8 620.9,342.4 621.5,341.8 622.1,339.5 623.3,320.7 622.7,317.9 622.0,317.0 617.0,316.7 616.3,317.0ZM613.4,438.3 614.1,438.9 614.9,438.8 616.0,436.6 619.8,394.1 619.3,393.3 613.6,390.4 612.6,391.4 611.8,433.6ZM556.5,439.1 557.9,439.8 558.8,439.0 562.7,412.5 561.2,385.9 559.5,383.4 558.8,383.1 557.8,383.8 553.4,396.6 552.6,400.8 550.4,422.6ZM575.3,357.2 574.3,356.4 573.3,357.3 568.3,409.3 568.7,411.1 569.5,411.7 575.6,406.5 578.1,378.3ZM574.9,347.1 578.5,374.4 578.9,375.1 579.7,375.3 584.0,368.9 586.2,339.1 584.6,321.0 583.8,320.1 582.6,320.8ZM595.8,413.2 589.3,401.3 587.9,401.0 587.5,401.7 584.5,426.1 585.5,439.3 586.3,440.2 593.8,440.2 594.7,439.5ZM623.7,340.5 622.4,340.8 621.9,342.7 620.8,391.3 621.8,392.3 623.2,392.2 623.8,391.6 628.5,371.6 627.8,342.9 627.3,342.2ZM603.4,438.7 604.3,413.7 601.5,396.1 600.4,395.3 599.5,396.1 596.3,412.9 595.3,439.1 596.2,440.1 602.3,440.1ZM551.4,428.0 550.4,427.4 549.5,428.1 548.6,438.9 549.9,440.1 554.8,440.1 555.5,438.9ZM584.1,431.1 583.4,430.2 582.4,430.5 578.9,436.3 578.5,438.9 579.0,439.7 583.8,439.8 584.6,439.3ZM596.0,349.1 593.4,333.9 592.2,333.2 587.2,339.6 585.0,369.3 587.1,386.6 587.9,387.5 589.0,386.7ZM612.6,387.9 613.0,388.8 618.6,391.7 619.9,391.2 621.0,344.4 620.2,343.4 618.1,343.6 617.5,344.4 612.6,381.6ZM609.8,328.5 610.3,329.3 611.3,329.3 614.6,325.4 615.3,317.9 614.6,317.0 609.5,316.9 608.7,317.5ZM573.6,342.3 574.4,343.3 575.5,342.7 577.8,334.8 577.2,333.7 576.0,334.0 573.7,339.2ZM611.5,398.3 610.7,397.3 609.6,397.9 605.0,413.8 604.2,438.4 604.5,439.5 605.2,440.0 607.9,439.7 610.9,433.6Z" fill="#de68ca"/><path d="M569.5,413.2 569.2,414.0 569.3,439.2 570.1,440.0 576.7,439.9 577.4,439.2 577.8,436.1 575.6,409.5 574.3,409.2ZM598.3,348.5 600.9,372.1 602.0,373.0 602.8,372.3 606.9,361.0 609.5,332.1 607.9,317.5 607.1,316.7 603.8,316.6 603.0,317.4ZM567.2,409.6 567.6,408.9 573.6,347.2 573.3,345.7 572.5,345.2 567.3,348.6 562.1,385.4 563.5,410.5 564.6,411.2ZM586.0,316.7 585.2,317.1 585.0,317.8 586.7,335.7 587.8,336.5 593.0,330.1 593.6,317.7 592.7,316.7Z" fill="#e476d0"/><path d="M568.4,413.5 567.8,411.2 567.0,410.7 563.6,412.9 559.8,438.9 560.5,440.0 567.5,440.1 568.4,439.3ZM593.6,330.2 596.3,345.5 597.5,346.2 598.2,345.4 602.4,317.8 602.0,316.8 595.2,316.7 594.4,317.1ZM616.5,343.3 614.9,329.2 613.8,328.4 610.2,332.5 607.7,361.0 610.6,373.3 611.4,374.1 612.6,373.2ZM558.6,380.3 560.3,382.6 561.7,382.4 565.9,352.9 565.2,351.8 564.3,352.1 561.5,355.7 558.8,369.3ZM611.6,388.1 611.6,381.6 607.8,365.6 606.6,365.0 605.9,365.6 601.6,377.3 601.0,388.5 604.0,407.5 604.7,408.3 605.9,407.7ZM578.1,432.4 578.8,433.3 579.9,433.0 584.1,425.9 587.5,398.1 584.6,372.7 583.7,371.8 582.8,372.2 578.7,378.6 576.2,407.1ZM624.4,392.4 624.7,398.7 625.9,399.4 626.7,398.6 627.9,386.0 627.3,385.1 626.0,385.6ZM612.3,438.7 611.3,437.0 610.4,437.2 609.7,438.5 609.9,439.4 610.6,439.8 612.0,439.5ZM622.9,338.5 623.3,339.4 626.1,340.7 627.4,340.1 625.4,330.8 624.6,330.0 623.4,330.8Z" fill="#d85ec4"/></g><g><path d="M604.1,350.2 605.2,350.5 606.3,349.8 610.5,341.4 609.7,340.2 603.3,337.8 597.4,340.9 596.7,342.3 597.7,345.2ZM588.9,338.2 590.0,336.8 588.8,331.3 583.6,328.9 582.2,329.1 580.5,335.0 582.3,339.1 583.8,339.7ZM611.8,339.1 611.8,340.1 612.4,340.9 620.6,344.6 622.4,343.6 624.5,337.1 621.0,333.4 615.0,333.0 613.9,333.8ZM607.2,350.5 607.2,352.0 609.2,353.4 618.5,353.4 619.3,352.7 620.0,350.7 619.7,346.1 619.0,345.4 613.0,342.5 611.9,342.4 611.0,343.1Z" fill="#dc62c8"/><path d="M600.5,327.2 599.2,327.8 599.0,329.2 603.6,336.5 609.2,338.9 610.6,338.6 613.1,332.5 610.2,327.9 609.3,327.4ZM612.5,322.7 611.6,323.6 610.8,326.7 613.8,331.3 614.8,331.8 620.1,332.1 621.0,331.7 622.8,327.7 622.4,326.3 614.6,322.4ZM603.6,353.0 604.1,352.0 603.8,350.9 597.2,346.0 596.3,346.1 590.8,348.8 590.1,349.9 590.4,351.1 593.0,353.7 602.4,353.7ZM615.4,320.1 615.9,321.8 621.1,324.4 622.3,324.4 623.1,323.6 622.4,318.0 621.5,317.1 616.9,317.1ZM598.6,324.1 598.6,325.4 599.6,326.1 608.7,326.4 610.0,325.6 610.6,323.1 610.1,322.1 604.2,317.2 602.2,316.9 601.0,317.7ZM586.7,347.9 589.1,348.7 595.4,345.5 596.0,344.2 595.2,341.6 590.7,339.0 584.5,340.8 584.0,342.5ZM587.9,318.9 585.7,318.5 584.1,320.1 582.6,326.2 582.9,327.3 589.4,330.1 595.3,327.5 595.9,326.5 595.6,325.4ZM591.2,316.9 589.9,317.6 590.0,319.3 595.5,324.1 596.4,324.3 597.4,324.0 599.6,318.8 599.3,317.4 598.3,316.9ZM590.9,330.5 590.0,331.9 591.0,337.5 595.1,340.3 596.4,340.4 602.0,337.1 602.0,335.7 597.3,328.4 596.1,328.2ZM614.8,318.8 614.6,317.5 613.5,316.8 609.1,316.9 607.9,318.2 608.3,319.4 611.7,321.9 613.8,321.1Z" fill="#e270ce"/></g><circle cx="596" cy="346" r="2.5" fill="#fff"/><path d="M463.0,414.0 L472.0,417.0 L486.0,424.0 L499.0,432.0 L506.0,438.4 L490.0,438.4 L478.0,431.0 L463.0,425.0 Z" fill="#6a2c8c" filter="url(#b1)"/><ellipse cx="521" cy="319" rx="7" ry="2.5" fill="#8a4aa8"/></g>
<line x1="521.5" y1="343.0" x2="524.5" y2="354.0" stroke="#000" stroke-width="2.0"/><path d="M526.0,359.3 L520.8,354.0 L527.7,352.1 Z" fill="#000"/>
<line x1="483.6" y1="385.6" x2="495.8" y2="391.4" stroke="#000" stroke-width="2.0"/><path d="M500.8,393.7 L493.4,394.2 L496.5,387.7 Z" fill="#000"/>
<line x1="492.8" y1="425.7" x2="506.1" y2="419.1" stroke="#000" stroke-width="2.0"/><path d="M511.0,416.6 L506.8,422.7 L503.6,416.3 Z" fill="#000"/>
<ellipse cx="656" cy="318" rx="1.5" ry="0.8" fill="#333"/>
<clipPath id="c4"><path d="M37.2,456.3 L232.0,456.3 L229.0,490.0 L224.0,520.0 L227.0,548.0 L237.0,575.5 L37.2,575.5 Z"/></clipPath><g clip-path="url(#c4)"><path d="M37.2,456.3 L232.0,456.3 L229.0,490.0 L224.0,520.0 L227.0,548.0 L237.0,575.5 L37.2,575.5 Z" filter="url(#light)"/><path d="M37.0,456.0 L110.6,456.0 L110.6,575.5 L37.0,575.5 Z" filter="url(#meshl)"/><ellipse cx="48" cy="560" rx="14" ry="16" fill="#dc70c8" opacity="0.45" filter="url(#b5)"/><ellipse cx="100" cy="520" rx="8" ry="40" fill="#dc80cc" opacity="0.3" filter="url(#b5)"/><ellipse cx="72" cy="514" rx="10" ry="11" fill="#fbf0fa" opacity="0.85" filter="url(#b2)"/><ellipse cx="86" cy="551" rx="7" ry="10" fill="#fbf0fa" opacity="0.85" filter="url(#b2)"/><ellipse cx="75" cy="480" rx="16" ry="9" fill="#fbf0fa" opacity="0.5" filter="url(#b3)"/><g fill="#6a3a80" opacity="0.6"><circle cx="85.8" cy="562.0" r="0.49"/><circle cx="73.3" cy="543.2" r="0.72"/><circle cx="60.3" cy="480.1" r="0.58"/><circle cx="70.8" cy="508.5" r="0.47"/><circle cx="57.1" cy="547.9" r="0.77"/><circle cx="58.6" cy="479.0" r="0.70"/><circle cx="102.0" cy="492.2" r="0.62"/><circle cx="109.7" cy="562.1" r="0.63"/><circle cx="82.6" cy="522.3" r="0.61"/><circle cx="64.0" cy="574.6" r="0.69"/><circle cx="72.3" cy="480.9" r="0.45"/><circle cx="64.8" cy="516.3" r="0.71"/><circle cx="106.7" cy="470.6" r="0.64"/><circle cx="97.6" cy="537.2" r="0.68"/><circle cx="47.1" cy="516.8" r="0.66"/><circle cx="45.0" cy="468.6" r="0.45"/><circle cx="42.4" cy="509.2" r="0.66"/><circle cx="97.5" cy="565.5" r="0.64"/><circle cx="106.5" cy="524.2" r="0.62"/><circle cx="38.7" cy="497.5" r="0.45"/><circle cx="92.2" cy="472.2" r="0.44"/><circle cx="48.7" cy="482.0" r="0.54"/><circle cx="99.2" cy="517.2" r="0.59"/><circle cx="52.6" cy="505.2" r="0.45"/><circle cx="97.9" cy="503.9" r="0.65"/><circle cx="62.8" cy="497.1" r="0.49"/><circle cx="51.7" cy="572.9" r="0.61"/><circle cx="90.6" cy="523.1" r="0.51"/><circle cx="51.5" cy="544.8" r="0.71"/><circle cx="52.6" cy="521.7" r="0.48"/><circle cx="78.0" cy="459.2" r="0.71"/><circle cx="39.7" cy="543.7" r="0.70"/><circle cx="79.9" cy="485.6" r="0.44"/><circle cx="51.0" cy="536.3" r="0.74"/><circle cx="71.4" cy="478.6" r="0.74"/><circle cx="37.1" cy="531.0" r="0.68"/><circle cx="49.7" cy="525.4" r="0.51"/><circle cx="54.1" cy="529.7" r="0.46"/><circle cx="81.5" cy="489.9" r="0.78"/><circle cx="65.9" cy="475.9" r="0.73"/><circle cx="85.9" cy="485.0" r="0.46"/><circle cx="47.0" cy="552.2" r="0.53"/><circle cx="102.5" cy="554.0" r="0.43"/><circle cx="49.6" cy="550.0" r="0.63"/><circle cx="58.6" cy="524.8" r="0.53"/><circle cx="44.8" cy="567.9" r="0.43"/><circle cx="66.2" cy="566.7" r="0.59"/><circle cx="107.4" cy="529.1" r="0.67"/><circle cx="87.2" cy="554.7" r="0.42"/><circle cx="85.7" cy="477.4" r="0.68"/><circle cx="80.1" cy="537.8" r="0.71"/><circle cx="94.7" cy="512.3" r="0.47"/><circle cx="74.3" cy="518.7" r="0.61"/><circle cx="57.3" cy="468.0" r="0.76"/><circle cx="59.0" cy="488.2" r="0.69"/><circle cx="52.3" cy="492.8" r="0.69"/><circle cx="73.3" cy="562.5" r="0.62"/><circle cx="63.2" cy="473.5" r="0.60"/><circle cx="75.2" cy="496.5" r="0.48"/><circle cx="69.3" cy="470.3" r="0.53"/></g><path d="M110.6,456.0 L121.0,456.0 L121.0,575.5 L110.6,575.5 Z" fill="#eab4dc"/><g fill="#c23a82" opacity="0.85"><circle cx="118.4" cy="557.8" r="0.92"/><circle cx="118.6" cy="574.6" r="1.09"/><circle cx="119.3" cy="536.3" r="1.01"/><circle cx="119.4" cy="488.1" r="1.34"/><circle cx="116.3" cy="462.0" r="1.09"/><circle cx="118.2" cy="544.9" r="1.03"/><circle cx="117.0" cy="491.6" r="0.79"/><circle cx="112.2" cy="552.9" r="0.89"/><circle cx="116.5" cy="482.5" r="0.96"/><circle cx="117.4" cy="510.0" r="1.13"/><circle cx="112.7" cy="564.5" r="0.82"/><circle cx="118.8" cy="572.1" r="1.33"/><circle cx="114.4" cy="490.2" r="1.29"/><circle cx="117.0" cy="573.5" r="1.31"/><circle cx="110.6" cy="523.5" r="1.05"/><circle cx="112.6" cy="574.0" r="1.22"/><circle cx="114.1" cy="517.5" r="1.16"/><circle cx="120.2" cy="484.4" r="1.00"/><circle cx="115.7" cy="509.0" r="0.91"/><circle cx="113.0" cy="497.8" r="1.36"/><circle cx="115.4" cy="532.2" r="1.19"/><circle cx="120.3" cy="477.1" r="1.18"/><circle cx="117.7" cy="540.5" r="1.01"/><circle cx="115.1" cy="574.0" r="1.10"/><circle cx="120.9" cy="528.6" r="1.18"/><circle cx="114.6" cy="575.3" r="1.03"/><circle cx="115.0" cy="473.2" r="1.37"/><circle cx="115.1" cy="484.0" r="0.87"/><circle cx="112.6" cy="498.6" r="0.85"/><circle cx="116.1" cy="560.4" r="1.37"/><circle cx="120.7" cy="550.3" r="1.38"/><circle cx="111.7" cy="511.1" r="1.41"/><circle cx="114.0" cy="537.8" r="1.03"/><circle cx="115.5" cy="554.1" r="1.18"/><circle cx="118.2" cy="484.7" r="0.84"/><circle cx="111.0" cy="527.5" r="1.08"/><circle cx="114.4" cy="542.1" r="1.04"/><circle cx="115.0" cy="482.8" r="0.87"/><circle cx="118.4" cy="514.1" r="0.92"/><circle cx="111.2" cy="529.3" r="0.81"/><circle cx="114.0" cy="503.5" r="0.84"/><circle cx="110.7" cy="567.3" r="0.94"/><circle cx="119.8" cy="459.8" r="0.93"/><circle cx="115.6" cy="479.4" r="1.18"/><circle cx="113.2" cy="544.8" r="1.42"/><circle cx="119.5" cy="469.1" r="0.80"/><circle cx="110.9" cy="562.7" r="1.29"/><circle cx="116.7" cy="495.2" r="1.08"/><circle cx="119.6" cy="522.3" r="0.92"/><circle cx="118.1" cy="479.7" r="1.27"/><circle cx="115.1" cy="519.2" r="0.78"/><circle cx="119.1" cy="558.6" r="0.82"/><circle cx="112.9" cy="530.6" r="0.94"/><circle cx="110.7" cy="500.3" r="1.38"/><circle cx="118.2" cy="537.1" r="0.94"/><circle cx="110.7" cy="573.5" r="0.94"/><circle cx="114.8" cy="548.3" r="0.99"/><circle cx="114.8" cy="464.2" r="1.32"/><circle cx="119.4" cy="482.2" r="1.00"/><circle cx="118.8" cy="491.9" r="1.32"/><circle cx="115.4" cy="525.7" r="1.35"/><circle cx="110.8" cy="494.2" r="1.11"/><circle cx="118.0" cy="520.7" r="1.11"/><circle cx="114.4" cy="541.3" r="1.09"/><circle cx="116.9" cy="546.3" r="1.05"/><circle cx="116.8" cy="465.4" r="1.00"/><circle cx="116.6" cy="564.0" r="1.03"/><circle cx="119.4" cy="545.6" r="0.86"/><circle cx="116.4" cy="492.1" r="1.25"/><circle cx="118.6" cy="515.2" r="0.88"/><circle cx="116.3" cy="512.0" r="1.07"/><circle cx="110.8" cy="516.3" r="1.30"/><circle cx="115.4" cy="458.1" r="1.15"/><circle cx="112.5" cy="518.4" r="0.92"/><circle cx="118.6" cy="490.4" r="1.29"/><circle cx="115.7" cy="505.9" r="1.19"/><circle cx="116.6" cy="513.2" r="1.07"/><circle cx="119.2" cy="499.7" r="0.90"/><circle cx="111.5" cy="559.2" r="1.36"/><circle cx="120.0" cy="519.1" r="1.16"/><circle cx="111.3" cy="490.4" r="1.19"/><circle cx="112.2" cy="508.2" r="1.00"/><circle cx="120.0" cy="476.6" r="1.37"/><circle cx="110.7" cy="472.5" r="1.08"/><circle cx="115.9" cy="464.0" r="1.15"/><circle cx="120.0" cy="458.5" r="1.14"/><circle cx="119.9" cy="525.8" r="1.04"/><circle cx="117.6" cy="517.6" r="0.96"/><circle cx="112.8" cy="488.1" r="0.92"/><circle cx="119.0" cy="507.3" r="0.96"/><circle cx="119.0" cy="534.0" r="1.13"/><circle cx="118.8" cy="465.0" r="1.43"/><circle cx="111.4" cy="537.4" r="1.29"/><circle cx="117.4" cy="474.5" r="1.39"/><circle cx="114.2" cy="532.7" r="1.12"/><circle cx="117.0" cy="569.8" r="1.36"/><circle cx="120.0" cy="546.3" r="0.92"/><circle cx="114.1" cy="544.3" r="1.21"/><circle cx="120.3" cy="510.0" r="1.28"/><circle cx="120.8" cy="527.9" r="1.20"/><circle cx="116.7" cy="513.3" r="1.02"/><circle cx="111.3" cy="524.2" r="1.39"/><circle cx="116.0" cy="545.5" r="0.81"/><circle cx="119.6" cy="500.0" r="1.10"/><circle cx="120.9" cy="496.9" r="0.92"/><circle cx="119.6" cy="517.9" r="0.86"/><circle cx="116.8" cy="487.9" r="1.15"/><circle cx="113.1" cy="461.1" r="1.13"/><circle cx="115.0" cy="545.4" r="0.90"/><circle cx="114.6" cy="532.5" r="1.07"/><circle cx="117.9" cy="554.1" r="0.86"/><circle cx="114.5" cy="495.1" r="1.22"/><circle cx="120.9" cy="544.9" r="1.24"/><circle cx="112.6" cy="507.7" r="1.04"/><circle cx="111.5" cy="469.1" r="0.97"/><circle cx="114.4" cy="485.4" r="0.97"/><circle cx="113.1" cy="474.8" r="1.21"/><circle cx="113.6" cy="549.8" r="0.94"/><circle cx="112.4" cy="566.3" r="0.91"/><circle cx="111.7" cy="515.2" r="0.95"/><circle cx="114.6" cy="510.1" r="0.88"/><circle cx="115.4" cy="459.3" r="1.14"/><circle cx="114.8" cy="499.0" r="1.41"/><circle cx="115.7" cy="551.0" r="0.78"/><circle cx="118.1" cy="462.3" r="0.82"/><circle cx="120.3" cy="494.2" r="1.22"/><circle cx="112.2" cy="524.9" r="1.26"/><circle cx="113.1" cy="519.1" r="1.33"/><circle cx="114.1" cy="494.7" r="0.81"/><circle cx="118.3" cy="534.6" r="1.37"/></g><path d="M110.6,456 V575.5 M120.7,456 V575.5" stroke="#c98ac0" stroke-width="0.7"/><path d="M121.0,456.0 L127.0,456.0 L127.0,575.5 L121.0,575.5 Z" fill="#f4dcee"/><g><path d="M127.0,456.0 L194.0,456.0 L205.0,575.5 L127.0,575.5 Z" fill="#f6dcf4"/><path d="M129.4,529.6 127.7,529.4 126.2,530.6 125.9,535.6 129.9,553.5 131.7,555.0 139.4,555.4 140.6,554.4 140.9,552.8 136.7,533.7 135.6,532.3ZM193.4,567.0 185.1,561.4 183.6,561.6 182.6,562.7 182.3,563.9 186.7,575.0 188.5,576.5 192.3,576.4 193.8,574.6 194.3,568.2ZM140.7,493.2 142.3,493.5 143.8,492.7 144.8,490.0 144.7,488.6 138.2,477.5 136.8,476.6 135.4,476.6 134.1,477.6 131.8,482.1 132.5,488.1 133.5,489.3ZM141.0,464.5 141.6,466.3 147.3,471.9 149.2,472.2 150.8,471.1 151.0,469.0 147.4,458.0 146.5,456.7 144.0,455.9 142.1,457.0ZM196.3,529.3 194.9,528.3 193.3,528.4 191.9,529.7 191.8,531.3 196.5,543.7 199.4,545.6 201.1,545.7 202.3,544.9 202.8,543.8 202.4,538.3ZM174.3,469.2 174.9,470.5 179.4,475.3 183.8,475.1 185.4,473.5 184.9,460.4 184.0,458.7 178.7,454.5 174.5,454.5 173.4,455.1 172.8,456.2ZM186.1,456.0 185.7,459.0 186.4,460.1 192.1,463.5 194.0,463.5 195.4,462.2 195.2,456.9 193.7,455.1 187.4,455.0ZM143.0,534.8 140.6,534.9 139.8,535.7 139.4,537.1 142.7,552.0 144.1,553.5 147.9,555.2 149.4,555.2 150.6,554.4 151.2,552.8 149.5,538.7 148.4,537.3ZM168.6,515.9 167.3,514.4 160.7,512.4 158.9,513.1 157.7,515.7 158.2,521.1 165.6,532.6 167.3,533.6 172.0,532.6 172.9,531.8 173.3,530.6ZM182.0,557.2 191.1,563.4 192.3,563.3 193.5,562.4 193.9,561.2 191.6,549.4 184.1,543.2 182.9,542.8 181.7,543.1 180.8,543.8 180.3,545.2 181.1,556.1ZM153.4,535.0 161.8,544.5 163.0,544.7 164.2,544.2 165.0,543.3 165.5,534.8 159.0,524.5 157.9,523.7 156.5,523.6 155.2,524.4 152.6,527.9 152.9,533.8ZM151.0,454.4 149.0,455.3 148.5,457.2 152.6,469.8 153.6,470.6 155.0,470.8 161.0,468.7 161.9,467.6 162.1,466.2 158.6,455.5 156.8,454.4ZM194.1,493.5 192.2,492.5 190.4,493.0 187.5,498.1 187.4,499.5 194.3,508.6 196.6,509.3 198.4,507.8 199.6,503.7 199.6,502.0ZM129.4,464.6 127.5,464.2 125.7,465.5 125.4,472.7 128.8,478.2 131.0,479.0 132.8,477.9 135.3,473.0 135.4,471.7 134.5,468.3Z" fill="#e070cc"/><path d="M183.0,495.1 184.7,496.4 186.8,495.9 190.6,488.5 189.6,482.3 186.3,477.3 184.6,476.4 181.7,476.8 180.8,477.6 180.4,478.8 182.2,493.3ZM184.8,524.9 185.0,523.0 180.6,513.3 174.1,509.8 172.7,509.7 171.6,510.2 170.8,511.4 170.2,514.7 175.8,531.8 176.7,533.2 178.5,533.9 180.3,533.2ZM156.5,541.0 155.3,540.2 153.8,540.2 152.6,541.0 152.1,542.4 153.6,555.0 154.4,556.2 155.9,556.7 157.3,556.3 162.5,552.1 163.4,550.1 163.0,548.7ZM171.1,574.3 171.6,572.0 165.9,555.3 164.5,554.0 162.6,554.1 155.9,559.4 155.2,560.9 160.3,575.4 161.0,576.4 162.1,577.0 167.7,577.0 169.0,576.5ZM165.6,492.8 156.1,487.4 154.7,487.7 153.7,488.7 153.4,490.1 159.2,509.7 160.7,511.1 166.3,513.0 167.8,512.8 169.2,511.5 170.5,506.7 166.6,494.0ZM200.1,570.7 198.0,569.5 195.9,570.6 195.2,574.8 196.3,576.7 199.9,577.1 201.7,576.0 202.1,573.9ZM163.6,467.9 165.7,470.8 167.1,471.6 171.7,470.3 172.9,469.2 173.2,467.7 171.8,456.7 170.4,454.8 162.6,454.6 160.6,455.9 160.4,457.6ZM152.4,509.0 153.6,509.7 155.3,509.5 156.4,508.2 156.6,506.8 152.0,491.4 150.6,490.2 147.9,490.2 146.3,491.4 145.0,495.5 146.5,502.7 147.2,503.9ZM128.4,454.9 126.3,456.0 126.0,458.6 127.4,461.6 129.3,462.9 130.8,462.9 132.0,462.1 132.6,460.8 131.7,456.7 130.5,455.2ZM193.6,482.2 192.2,482.8 191.5,484.1 192.0,488.4 194.5,492.2 195.6,492.9 197.0,492.9 198.2,492.1 198.8,490.7 198.1,483.7 197.5,482.7 196.4,482.0ZM137.8,467.4 136.2,469.1 136.6,472.4 145.4,487.4 147.3,488.4 151.8,487.7 152.6,486.8 153.1,484.9 151.5,477.9 140.9,467.5 139.5,467.0ZM180.9,536.5 180.6,538.0 181.2,539.4 190.3,546.4 192.2,546.7 193.9,545.4 194.1,543.2 189.1,529.9 188.2,528.8 186.5,528.3 185.0,529.0ZM137.5,492.9 136.0,492.6 134.9,493.1 134.1,494.0 133.8,495.5 137.4,510.3 138.5,511.6 140.2,511.9 141.9,510.7 144.7,503.4 143.0,496.2Z" fill="#e67ed4"/><path d="M175.7,534.4 173.5,533.5 168.1,534.6 166.8,535.5 166.3,536.9 165.8,547.5 167.1,549.4 177.5,553.4 179.1,552.7 179.8,551.2 179.2,539.7 178.6,538.0ZM190.1,479.9 191.8,481.1 195.2,480.7 196.8,479.6 197.2,478.0 196.0,468.1 190.3,464.5 188.9,464.1 187.4,464.8 186.6,466.3 186.9,474.4ZM135.9,514.8 135.0,512.9 129.6,509.6 127.7,509.6 126.3,511.0 126.2,522.9 126.7,525.2 127.8,526.5 133.6,529.0 135.4,528.6 136.4,526.9ZM144.8,555.5 143.3,555.3 142.2,555.8 141.4,556.8 141.3,558.1 147.0,575.7 149.0,576.9 156.2,576.9 157.5,576.5 158.5,575.4 158.6,573.8 153.6,560.4 152.1,558.7ZM150.7,528.3 142.1,516.6 140.7,516.3 139.4,516.9 138.7,517.9 139.1,529.7 140.4,531.1 147.7,534.6 149.4,534.5 150.4,533.8 151.0,532.8ZM178.8,555.7 169.6,552.2 168.2,552.8 167.5,553.8 167.4,555.3 171.5,567.3 172.7,568.5 174.3,568.7 175.6,568.0 179.8,563.7 180.1,557.4ZM155.5,472.5 154.0,473.9 153.5,477.6 155.0,484.1 163.5,489.7 164.7,489.9 165.9,489.6 166.9,488.5 167.5,486.0 165.0,473.0 163.6,471.1 162.0,470.5ZM169.7,472.7 168.4,473.7 168.0,475.1 169.9,485.3 170.6,486.2 175.9,489.4 178.0,489.4 179.1,488.5 179.5,487.1 178.0,476.4 174.0,472.0 172.6,471.8ZM134.1,457.5 135.4,461.5 136.6,462.2 138.9,461.5 139.6,460.2 139.9,457.6 139.2,455.8 137.4,455.1 135.8,455.2 134.8,455.8ZM195.8,565.0 196.5,566.3 197.5,566.9 198.8,567.0 200.0,566.3 204.5,555.6 204.1,551.4 203.5,550.2 196.3,546.3 194.5,547.1 193.3,548.4 192.9,549.8ZM128.7,491.1 127.1,491.7 126.2,493.1 126.2,503.8 127.4,505.4 130.6,507.4 132.3,507.6 133.8,506.5 134.1,504.6 131.2,492.6 130.3,491.5ZM200.5,517.5 198.6,516.5 196.7,517.1 196.1,518.2 195.0,523.2 195.3,524.6 197.2,527.4 198.8,528.5 200.7,528.1 201.7,526.5 201.1,519.0ZM140.0,559.2 138.3,557.6 133.6,557.1 131.8,557.8 131.1,559.3 132.8,570.7 135.8,575.5 137.5,576.5 142.9,576.4 144.1,575.6 144.6,574.4ZM178.1,509.8 180.2,509.9 181.5,508.5 183.1,499.7 183.0,498.3 180.6,494.3 171.7,488.9 169.8,488.8 168.4,490.1 167.5,493.3 171.3,505.8 172.2,506.9ZM178.5,567.8 174.1,572.5 174.1,574.0 176.1,576.4 182.2,576.6 184.0,575.1 184.0,573.2 182.1,568.7 180.9,567.6Z" fill="#da62c6"/></g><g fill="#5a3070" opacity="0.7"><circle cx="191.3" cy="531.6" r="0.64"/><circle cx="191.1" cy="541.3" r="0.66"/><circle cx="175.5" cy="531.0" r="0.51"/><circle cx="145.2" cy="506.1" r="0.61"/><circle cx="156.0" cy="537.0" r="0.63"/><circle cx="198.6" cy="536.5" r="0.69"/><circle cx="164.8" cy="519.7" r="0.61"/><circle cx="139.5" cy="508.2" r="0.55"/><circle cx="180.7" cy="492.9" r="0.48"/><circle cx="180.7" cy="460.2" r="0.45"/><circle cx="168.2" cy="560.3" r="0.62"/><circle cx="162.5" cy="557.2" r="0.47"/><circle cx="161.0" cy="472.1" r="0.47"/><circle cx="138.6" cy="468.5" r="0.69"/><circle cx="162.6" cy="575.3" r="0.56"/><circle cx="127.6" cy="524.1" r="0.65"/><circle cx="157.5" cy="494.6" r="0.46"/><circle cx="151.6" cy="545.8" r="0.50"/><circle cx="163.5" cy="499.7" r="0.62"/><circle cx="157.1" cy="549.4" r="0.49"/><circle cx="189.7" cy="560.9" r="0.58"/><circle cx="189.1" cy="531.0" r="0.42"/><circle cx="197.4" cy="509.7" r="0.61"/><circle cx="191.3" cy="514.5" r="0.46"/><circle cx="192.3" cy="540.1" r="0.63"/><circle cx="175.6" cy="572.5" r="0.70"/><circle cx="187.0" cy="495.5" r="0.55"/><circle cx="166.9" cy="545.3" r="0.51"/><circle cx="185.9" cy="509.8" r="0.61"/><circle cx="140.2" cy="563.5" r="0.62"/><circle cx="138.7" cy="465.8" r="0.59"/><circle cx="162.6" cy="561.3" r="0.40"/><circle cx="190.1" cy="549.8" r="0.48"/><circle cx="130.8" cy="563.1" r="0.49"/><circle cx="198.2" cy="515.7" r="0.70"/><circle cx="192.8" cy="540.9" r="0.51"/><circle cx="135.5" cy="559.2" r="0.44"/><circle cx="143.4" cy="510.7" r="0.55"/><circle cx="195.0" cy="493.9" r="0.68"/><circle cx="131.7" cy="481.3" r="0.63"/><circle cx="179.1" cy="566.8" r="0.43"/><circle cx="136.3" cy="520.9" r="0.70"/><circle cx="181.5" cy="552.5" r="0.70"/><circle cx="149.1" cy="466.2" r="0.61"/><circle cx="131.4" cy="477.9" r="0.48"/><circle cx="129.7" cy="537.6" r="0.44"/><circle cx="185.6" cy="574.1" r="0.63"/><circle cx="171.1" cy="531.2" r="0.51"/><circle cx="136.6" cy="538.1" r="0.62"/><circle cx="147.1" cy="547.9" r="0.67"/></g><g><path d="M183.9,565.9 183.2,564.6 177.6,561.7 176.6,561.7 175.8,562.3 174.2,571.4 176.7,576.7 182.5,577.0 183.6,576.3ZM173.1,540.9 173.5,541.8 174.4,542.1 177.8,541.2 178.5,535.1 175.1,522.4 174.2,521.6 171.7,521.2 170.7,521.7 170.3,523.0ZM176.2,474.6 171.7,462.7 170.8,462.0 169.7,462.1 167.3,464.7 167.1,465.7 168.6,482.8 170.3,488.2 171.3,489.1 175.8,488.3 176.8,487.4ZM197.7,480.1 196.4,478.5 195.5,478.6 194.1,480.5 192.9,497.2 197.3,506.9 198.6,507.6 199.7,507.1 200.1,506.0ZM165.5,462.1 166.4,462.9 167.6,462.7 170.3,459.5 170.5,455.8 169.7,454.7 164.9,454.5 163.7,455.2 163.8,458.8ZM202.2,561.8 203.4,568.4 204.3,568.8 205.4,568.4 205.9,567.6 205.4,561.5 204.2,560.3 203.0,560.6ZM198.1,558.4 196.6,558.0 195.5,559.1 195.8,567.9 199.5,576.4 200.3,576.9 202.0,577.0 202.9,576.4 203.2,575.4 201.3,562.0ZM187.8,570.0 186.4,569.3 185.1,570.2 185.0,575.8 186.2,576.9 189.7,576.8 190.6,576.1 190.7,575.0ZM185.2,490.8 185.6,489.5 182.9,474.6 181.7,472.8 180.4,472.5 177.8,474.2 177.3,475.1 178.1,488.4 180.3,493.1 181.1,493.8 182.4,493.6ZM169.9,489.9 168.4,486.1 167.4,485.8 166.5,486.3 166.0,487.2 166.6,494.4 167.9,495.6 169.2,495.1 170.0,493.0ZM175.9,521.1 179.1,533.2 180.4,533.9 183.2,533.1 183.9,531.6 181.7,516.6 178.8,515.2 177.4,515.4ZM193.1,575.0 193.1,576.2 194.2,577.0 196.8,577.0 197.9,575.8 196.7,572.5 195.6,571.7 194.2,572.3ZM171.8,498.5 170.8,497.5 169.4,497.9 167.7,502.7 170.5,519.5 171.4,520.4 174.0,520.9 175.3,519.8 176.5,513.6ZM171.5,459.2 176.2,471.8 177.1,472.6 178.3,472.5 180.2,471.2 180.6,470.2 178.2,455.7 176.8,454.5 172.3,454.7 171.5,455.7Z" fill="#e070cc"/><path d="M179.0,541.3 183.1,552.6 184.0,553.3 185.1,553.3 185.9,552.4 188.3,544.6 184.5,534.7 183.2,534.3 179.8,535.5ZM186.5,490.1 189.8,494.9 190.9,495.3 191.9,494.8 192.3,493.9 193.2,480.5 187.2,472.6 186.0,472.1 184.8,472.7 183.7,474.7Z" fill="#e67ed4"/><path d="M195.5,539.9 194.1,540.9 193.2,547.4 195.0,553.8 200.7,559.9 202.1,560.2 205.0,557.0 203.5,540.7 202.1,539.7ZM186.5,470.1 192.1,477.7 193.2,478.1 194.2,477.7 195.2,475.8 194.2,469.7 188.6,455.4 187.2,454.5 186.1,455.0 185.6,456.0ZM192.5,548.4 190.6,546.7 188.9,547.3 185.2,558.3 185.6,563.8 190.5,572.1 191.6,572.7 193.0,572.0 194.6,567.8 194.2,554.5ZM182.8,515.8 185.0,533.3 189.1,544.4 190.8,545.8 192.0,545.9 193.0,544.8 193.7,539.6 191.8,524.1 188.9,516.8 184.7,513.8 183.4,514.3ZM183.7,511.6 184.2,512.5 187.2,514.7 188.4,514.7 189.2,513.9 191.0,497.9 187.4,492.5 186.4,491.9 185.2,492.3 181.5,496.4ZM177.6,490.2 176.3,489.3 171.9,490.2 171.0,491.2 171.0,493.0 177.1,512.7 177.9,513.5 181.4,514.7 182.4,514.0 182.9,512.2 180.5,496.4ZM192.5,462.8 194.0,463.8 195.4,462.6 195.9,459.4 195.6,455.8 194.4,454.5 191.0,454.5 190.0,455.6ZM194.1,501.9 192.6,501.1 191.3,502.1 189.7,516.6 191.6,522.2 193.0,523.0 197.1,521.1 197.8,519.9 197.1,508.6ZM179.7,455.2 179.4,456.4 181.7,470.6 182.6,471.9 183.8,472.2 184.7,471.6 185.4,470.2 184.5,455.7 183.2,454.6 180.7,454.6ZM198.4,523.2 197.7,522.4 196.5,522.3 193.3,523.9 192.7,524.9 194.2,537.9 195.4,539.1 201.7,538.9 202.8,537.7ZM175.9,559.0 176.6,560.0 182.1,562.9 183.3,562.8 184.1,562.0 183.9,557.9 178.5,543.4 177.3,542.6 174.7,543.1 173.9,544.4Z" fill="#da62c6"/></g><path d="M194.0,456.0 L232.0,456.0 L229.0,490.0 L224.0,520.0 L227.0,548.0 L237.0,575.5 L203.0,575.5 Z" filter="url(#dense)" opacity="0.85"/><g fill="#5a3070" opacity="0.75"><circle cx="210.6" cy="552.1" r="0.56"/><circle cx="214.7" cy="555.5" r="0.76"/><circle cx="225.8" cy="500.8" r="0.50"/><circle cx="212.8" cy="475.0" r="0.58"/><circle cx="197.4" cy="486.8" r="0.46"/><circle cx="214.1" cy="456.7" r="0.57"/><circle cx="208.4" cy="508.4" r="0.47"/><circle cx="212.9" cy="515.2" r="0.73"/><circle cx="227.2" cy="491.5" r="0.59"/><circle cx="203.4" cy="574.4" r="0.68"/><circle cx="206.4" cy="465.9" r="0.76"/><circle cx="214.5" cy="558.9" r="0.65"/><circle cx="209.4" cy="508.1" r="0.50"/><circle cx="221.8" cy="529.3" r="0.61"/><circle cx="212.9" cy="466.4" r="0.47"/><circle cx="217.9" cy="524.2" r="0.51"/><circle cx="214.6" cy="574.4" r="0.77"/><circle cx="202.3" cy="508.0" r="0.55"/><circle cx="215.7" cy="501.0" r="0.65"/><circle cx="220.3" cy="547.3" r="0.53"/><circle cx="207.7" cy="456.5" r="0.55"/><circle cx="216.8" cy="557.2" r="0.60"/><circle cx="210.1" cy="574.4" r="0.51"/><circle cx="210.4" cy="494.6" r="0.63"/><circle cx="212.5" cy="492.7" r="0.62"/><circle cx="203.1" cy="557.2" r="0.74"/><circle cx="206.8" cy="462.8" r="0.52"/><circle cx="234.9" cy="574.3" r="0.45"/><circle cx="220.6" cy="531.2" r="0.68"/><circle cx="214.0" cy="476.3" r="0.65"/><circle cx="227.2" cy="498.7" r="0.53"/><circle cx="199.3" cy="464.7" r="0.50"/><circle cx="214.5" cy="559.5" r="0.63"/><circle cx="219.2" cy="502.9" r="0.56"/><circle cx="225.0" cy="529.6" r="0.56"/><circle cx="199.0" cy="464.6" r="0.59"/><circle cx="212.1" cy="484.3" r="0.63"/><circle cx="203.3" cy="473.7" r="0.70"/><circle cx="218.0" cy="568.6" r="0.42"/><circle cx="214.6" cy="544.9" r="0.45"/><circle cx="220.9" cy="462.9" r="0.63"/><circle cx="213.0" cy="502.2" r="0.47"/><circle cx="225.5" cy="498.6" r="0.53"/><circle cx="211.1" cy="539.7" r="0.63"/><circle cx="215.2" cy="548.8" r="0.56"/><circle cx="219.6" cy="473.2" r="0.56"/><circle cx="221.7" cy="507.5" r="0.67"/><circle cx="201.8" cy="529.1" r="0.59"/><circle cx="221.1" cy="524.6" r="0.42"/><circle cx="202.3" cy="527.5" r="0.62"/><circle cx="199.7" cy="492.0" r="0.67"/><circle cx="223.3" cy="523.1" r="0.60"/><circle cx="205.5" cy="568.7" r="0.56"/><circle cx="214.9" cy="486.4" r="0.52"/><circle cx="214.1" cy="533.3" r="0.47"/><circle cx="206.0" cy="510.0" r="0.60"/><circle cx="219.3" cy="506.6" r="0.57"/><circle cx="201.8" cy="547.9" r="0.72"/><circle cx="214.7" cy="456.6" r="0.64"/><circle cx="207.7" cy="543.6" r="0.59"/><circle cx="213.5" cy="565.3" r="0.54"/><circle cx="198.9" cy="472.9" r="0.47"/><circle cx="228.7" cy="553.2" r="0.57"/><circle cx="206.6" cy="459.7" r="0.59"/><circle cx="228.3" cy="461.0" r="0.61"/><circle cx="199.1" cy="500.4" r="0.59"/><circle cx="209.8" cy="519.1" r="0.51"/><circle cx="203.5" cy="499.7" r="0.60"/><circle cx="207.7" cy="477.2" r="0.71"/><circle cx="215.4" cy="542.2" r="0.54"/><circle cx="208.1" cy="520.7" r="0.58"/><circle cx="229.6" cy="475.3" r="0.65"/><circle cx="205.3" cy="538.7" r="0.75"/><circle cx="205.2" cy="557.7" r="0.59"/><circle cx="210.2" cy="526.7" r="0.70"/><circle cx="219.5" cy="563.3" r="0.48"/><circle cx="203.5" cy="560.6" r="0.66"/><circle cx="220.9" cy="463.9" r="0.44"/><circle cx="199.6" cy="459.1" r="0.60"/><circle cx="215.7" cy="492.5" r="0.48"/><circle cx="201.5" cy="518.3" r="0.72"/><circle cx="207.1" cy="488.9" r="0.61"/><circle cx="226.8" cy="491.9" r="0.76"/><circle cx="206.3" cy="537.2" r="0.64"/><circle cx="209.9" cy="463.2" r="0.56"/><circle cx="213.8" cy="481.4" r="0.73"/><circle cx="216.9" cy="528.1" r="0.74"/><circle cx="215.8" cy="516.7" r="0.71"/><circle cx="217.4" cy="574.9" r="0.43"/><circle cx="204.3" cy="491.3" r="0.61"/></g><path d="M218,456 L236.6,456 L236.6,575.5 L226,575.5 L222,520 Z" fill="#f8e8f4" opacity="0.6" filter="url(#b2)"/><path d="M205,470 C208,500 212,530 216,570 M212,462 C216,490 220,520 224,560" stroke="#f8e4f4" stroke-width="1.5" fill="none" opacity="0.8"/></g>
<line x1="232.0" y1="534.0" x2="223.3" y2="539.9" stroke="#000" stroke-width="2.0"/><path d="M218.7,543.0 L222.1,536.4 L226.1,542.3 Z" fill="#000"/>
<clipPath id="c5"><path d="M256.3,456.3 L429.7,456.3 L436.5,495.0 L441.0,530.0 L447.7,568.0 L447.7,575.5 L256.3,575.5 Z"/></clipPath><g clip-path="url(#c5)"><path d="M256.3,456.3 L429.7,456.3 L436.5,495.0 L441.0,530.0 L447.7,568.0 L447.7,575.5 L256.3,575.5 Z" fill="#eec4ec"/><path d="M256.3,456.3 L327.3,456.3 L333.0,506.0 L335.0,575.5 L256.3,575.5 Z" fill="#e0a8de"/><path d="M295.1,548.6 306.2,559.0 308.7,558.7 313.8,554.3 316.4,544.2 300.6,537.9 296.9,540.0ZM329.3,544.5 331.8,552.8 335.8,555.1 335.3,538.9ZM263.8,514.8 264.4,507.1 259.5,501.8 254.9,501.1 254.9,520.3ZM298.8,573.4 301.3,576.9 308.4,576.9 319.0,573.8 319.2,573.1 308.7,559.9 306.4,560.2ZM299.3,487.9 302.5,482.3 301.4,475.8 290.9,474.0 280.4,483.8 281.8,486.5 290.8,490.5ZM311.4,454.9 294.4,454.9 294.7,455.5 300.7,458.2 310.8,455.5ZM286.6,571.5 286.1,570.5 272.9,562.2 263.9,568.5 263.2,571.7 265.2,576.9 282.9,576.9ZM272.3,561.1 273.5,551.6 272.6,550.3 257.9,549.9 255.9,559.3 263.4,567.4ZM302.3,474.8 312.4,470.1 310.6,456.8 301.3,459.3ZM328.7,466.7 322.0,473.5 323.2,485.2 325.0,485.9 331.7,482.5 330.1,468.1ZM336.3,571.4 336.1,564.5 334.0,568.9ZM327.7,522.6 335.1,530.1 334.7,516.7ZM287.3,465.5 275.2,463.9 274.0,465.5 276.9,481.6 279.5,482.9 290.0,473.1ZM259.4,500.6 263.7,484.5 258.9,480.7 254.9,480.7 254.9,499.9ZM254.9,545.0 256.4,536.8 254.9,535.0ZM275.2,503.7 265.6,507.4 265.0,515.0 271.6,522.0 284.5,520.8 288.2,516.0 287.4,509.6ZM262.2,572.5 254.9,573.9 255.1,576.2 256.2,576.9 263.9,576.9ZM320.0,572.2 325.1,568.4 323.9,559.3 314.4,555.4 309.8,559.4ZM319.9,487.7 312.9,502.2 322.7,505.7 330.7,501.1 332.0,496.9 324.7,487.0 322.7,486.3ZM257.0,454.9 255.6,455.1 255.0,455.9 254.9,461.3 255.3,461.1ZM329.1,463.6 329.5,463.3 328.4,455.4 327.4,454.9 321.2,454.9ZM274.1,458.4 270.1,454.9 258.2,454.9 256.5,461.4 261.9,466.0 273.1,464.8 274.3,463.1ZM319.1,575.0 312.7,576.9 319.8,576.9ZM294.4,549.6 292.2,551.1 287.2,570.0 287.7,571.0 297.8,572.7 305.2,559.8ZM284.3,576.9 299.9,576.9 297.7,574.0 287.6,572.2ZM309.4,504.2 308.6,511.6 319.9,523.6 325.3,522.0 322.3,506.8 312.0,503.1ZM289.4,535.8 274.0,539.3 273.6,549.5 274.4,550.8 291.5,550.1 293.9,548.5 295.7,539.9ZM317.0,543.1 317.6,542.8 319.7,524.8 304.0,530.7 301.4,536.9ZM326.0,523.1 321.1,524.8 318.8,542.7 328.4,543.7 335.3,537.3 335.1,531.9ZM264.3,516.0 254.9,521.7 254.9,533.1 257.3,536.0 269.7,534.2 270.8,522.8ZM307.4,511.5 308.1,504.5 292.3,505.4 288.6,509.4 289.3,515.7 300.1,518.7ZM293.6,455.9 293.1,454.9 278.5,454.9 275.3,458.4 275.4,462.7 287.4,464.3ZM320.8,473.8 313.1,471.1 302.7,475.9 303.7,482.0 319.4,486.7 322.0,485.3ZM280.7,487.0 279.2,484.1 276.3,482.6 264.8,484.8 260.5,501.1 265.2,506.2 274.8,502.6ZM300.1,536.8 302.9,530.2 299.8,519.9 289.0,516.8 285.5,521.5 290.0,534.8 296.4,538.9ZM258.6,479.5 261.1,466.9 255.7,462.3 254.9,462.5 254.9,479.5ZM335.8,576.7 336.1,573.0 333.0,569.6 325.9,569.3 320.4,573.4 320.1,574.3 321.1,576.9ZM272.8,539.0 270.0,535.4 257.6,537.2 255.9,546.1 257.7,548.7 272.4,549.0ZM332.9,496.2 333.3,496.1 331.9,483.8 326.0,486.8ZM307.9,503.3 299.4,489.1 291.4,491.5 292.5,504.2ZM262.1,571.3 262.7,568.4 254.9,560.1 254.9,572.7ZM274.6,457.3 276.9,454.9 271.9,454.9ZM336.0,561.8 335.9,556.5 331.4,553.9 325.0,559.1 326.2,568.1 332.9,568.4ZM301.0,474.5 300.1,459.2 294.5,456.7 288.4,465.1 291.1,472.8ZM334.3,504.7 333.4,497.3 331.8,501.4ZM318.6,487.7 303.4,483.1 300.4,488.4 309.2,503.0 311.6,502.0ZM284.4,522.0 271.9,523.2 270.9,534.6 273.7,538.1 288.7,534.7ZM272.9,466.1 262.2,467.2 259.8,479.9 264.5,483.6 275.7,481.5ZM311.8,456.2 313.6,470.0 321.2,472.6 328.1,465.5 328.3,464.5 319.6,454.9 313.0,454.9ZM290.2,491.5 281.7,487.8 276.0,502.7 287.9,508.5 291.4,504.6ZM331.0,502.3 323.4,506.7 326.5,521.9 334.7,515.2 334.4,506.9ZM254.9,558.3 256.8,549.4 255.0,546.8 254.9,546.8ZM274.6,552.0 273.5,561.2 286.2,569.1 290.9,551.3ZM303.9,529.4 318.6,523.9 307.9,512.7 301.0,519.6ZM324.3,558.2 330.6,553.0 328.1,544.9 318.3,543.8 317.6,544.2 315.0,554.3Z" fill="#fcf6fc"/><g fill="none" stroke="#de90d8" stroke-linecap="round" opacity="0.5" filter="url(#b05)"><path d="M303.4,465.8 Q307.9,468.7 308.0,476.8" stroke-width="1.4"/><path d="M329.2,524.8 Q318.5,526.8 314.2,524.0" stroke-width="2.0"/><path d="M311.3,478.7 Q309.1,482.6 301.0,492.3" stroke-width="2.1"/><path d="M274.3,481.5 Q259.9,487.6 255.1,486.7" stroke-width="2.0"/><path d="M289.3,524.9 Q288.5,518.4 288.0,515.6" stroke-width="2.1"/><path d="M334.3,574.8 Q328.8,569.0 322.9,568.9" stroke-width="2.4"/><path d="M297.6,509.6 Q307.4,504.2 312.4,498.9" stroke-width="1.5"/><path d="M318.3,461.3 Q320.6,458.5 323.1,454.5" stroke-width="2.0"/><path d="M273.7,482.0 Q268.8,487.8 264.9,498.1" stroke-width="2.1"/><path d="M272.9,469.2 Q268.1,468.0 264.7,467.8" stroke-width="1.5"/><path d="M323.6,537.3 Q322.4,526.0 314.0,523.2" stroke-width="1.2"/><path d="M256.9,523.9 Q256.6,515.6 251.4,512.6" stroke-width="1.3"/><path d="M282.0,494.6 Q274.9,493.3 266.7,493.3" stroke-width="1.3"/><path d="M304.1,496.3 Q307.9,488.6 308.8,485.7" stroke-width="1.4"/></g><path d="M256,470 C258,488 266,503 282,511 C292,516 302,516 310,512" stroke="#d860bc" stroke-width="3.2" fill="none" opacity="0.75" filter="url(#b05)"/><g fill="#4a2a6a" opacity="0.8"><circle cx="281.3" cy="548.0" r="0.44"/><circle cx="332.0" cy="525.5" r="0.69"/><circle cx="297.9" cy="504.5" r="0.46"/><circle cx="278.2" cy="477.6" r="0.65"/><circle cx="297.5" cy="461.0" r="0.43"/><circle cx="263.5" cy="562.6" r="0.66"/><circle cx="333.4" cy="537.9" r="0.53"/><circle cx="308.6" cy="574.8" r="0.67"/><circle cx="281.1" cy="545.3" r="0.60"/><circle cx="263.3" cy="564.7" r="0.67"/><circle cx="256.5" cy="529.3" r="0.51"/><circle cx="328.6" cy="543.1" r="0.68"/><circle cx="318.2" cy="531.9" r="0.68"/><circle cx="290.0" cy="551.6" r="0.47"/><circle cx="332.9" cy="547.5" r="0.73"/><circle cx="326.6" cy="504.8" r="0.77"/><circle cx="305.3" cy="516.2" r="0.72"/><circle cx="282.9" cy="551.6" r="0.58"/><circle cx="324.7" cy="538.7" r="0.61"/><circle cx="318.9" cy="487.5" r="0.78"/><circle cx="284.3" cy="526.2" r="0.49"/><circle cx="294.3" cy="536.0" r="0.75"/><circle cx="295.5" cy="509.4" r="0.76"/><circle cx="301.8" cy="538.3" r="0.55"/><circle cx="285.1" cy="483.3" r="0.72"/><circle cx="280.8" cy="474.7" r="0.45"/><circle cx="279.7" cy="487.7" r="0.70"/><circle cx="301.3" cy="570.3" r="0.71"/><circle cx="265.8" cy="508.3" r="0.56"/><circle cx="315.8" cy="494.2" r="0.45"/><circle cx="295.5" cy="472.9" r="0.44"/><circle cx="306.9" cy="539.6" r="0.63"/><circle cx="301.5" cy="481.7" r="0.77"/><circle cx="281.7" cy="503.9" r="0.77"/><circle cx="313.3" cy="463.6" r="0.69"/><circle cx="328.2" cy="473.3" r="0.45"/><circle cx="326.3" cy="461.8" r="0.49"/><circle cx="284.3" cy="465.5" r="0.47"/><circle cx="328.2" cy="509.1" r="0.45"/><circle cx="282.7" cy="551.7" r="0.48"/></g><g><path d="M327.3,456.3 L414.0,456.3 L418.5,517.0 L423.0,575.5 L335.0,575.5 L333.0,506.0 Z" fill="#da5cc4"/><path d="M366.6,454.6 361.8,454.5 360.9,455.1 360.7,456.1 362.8,483.5 363.5,485.2 367.9,488.3 368.8,487.9 369.3,487.1 371.4,469.0 368.5,455.9 367.9,455.1ZM396.0,546.8 396.9,547.3 398.0,546.9 399.7,543.7 399.8,524.7 396.5,508.2 395.7,507.1 387.6,503.1 386.6,503.0 385.6,503.8 385.2,505.8 386.5,524.5 391.6,542.1ZM340.8,523.9 341.7,524.6 343.5,524.7 344.5,524.3 344.9,523.6 345.5,507.4 338.0,480.2 333.2,474.8 331.9,474.4 331.0,475.0 328.2,480.6 331.2,507.6ZM342.4,565.7 341.0,565.5 340.0,566.7 340.9,576.7 342.1,577.3 350.6,577.0 351.2,575.7 350.4,571.9ZM387.2,527.7 386.1,526.7 384.7,527.0 377.6,536.9 377.4,537.9 381.0,550.8 387.7,558.8 388.9,559.4 389.8,559.0 390.3,558.1 391.4,542.5ZM345.2,524.4 358.0,545.8 359.0,546.4 360.1,546.2 360.8,544.9 358.2,508.8 353.6,502.3 352.2,502.4 345.8,507.8ZM402.8,529.8 401.2,529.1 400.0,530.2 399.9,544.0 408.0,562.7 408.7,563.3 409.7,563.4 410.8,562.3 412.9,547.0ZM341.8,461.4 346.8,470.7 347.8,471.4 348.9,471.1 352.0,463.2 350.9,455.1 349.7,454.5 341.5,454.7 340.9,456.1ZM361.5,510.1 360.8,509.4 359.8,509.2 359.0,509.7 358.6,510.7 361.2,545.8 367.4,554.7 368.8,555.2 370.0,554.1 372.8,535.7Z" fill="#dc58c6"/><path d="M362.3,548.1 360.6,547.5 359.6,549.0 359.8,570.6 361.5,576.5 362.7,577.4 372.3,577.3 373.1,576.7 373.4,575.7 369.6,558.3ZM417.2,474.7 416.8,473.8 415.9,473.3 414.4,474.2 411.9,485.8 415.3,506.6 417.1,509.4 418.2,509.9 419.4,509.4 419.7,508.3ZM349.3,532.2 348.5,531.6 347.5,531.6 346.5,533.1 352.0,566.5 352.8,567.5 358.3,569.6 359.1,569.1 359.5,568.2 359.2,548.5ZM410.5,513.0 411.6,513.5 412.8,512.9 415.1,506.7 411.8,485.9 403.3,470.8 401.8,470.2 400.7,471.0 396.4,479.5 398.0,497.8ZM401.1,457.2 402.2,468.4 409.9,481.9 410.7,482.5 411.7,482.4 412.6,481.3 415.2,468.7 411.5,455.4 410.2,454.5 402.6,454.5 401.6,455.2ZM399.9,524.4 411.3,543.8 412.2,544.4 413.3,544.2 414.0,542.8 412.0,515.3 400.1,500.8 398.9,500.3 397.6,501.2 396.6,507.4ZM397.9,498.3 396.2,479.5 393.8,473.1 384.2,462.7 382.7,462.4 381.7,463.8 381.5,481.9 385.7,501.5 386.4,502.3 394.6,506.4 395.6,506.5 396.7,505.4ZM340.4,455.7 339.1,454.5 331.4,454.5 330.4,454.8 329.9,455.7 332.0,472.7 336.8,477.8 337.8,477.6 338.5,476.8 341.5,462.0ZM413.1,459.8 413.7,460.7 414.7,460.9 416.0,459.8 415.7,455.7 414.4,454.5 412.9,454.7 412.1,455.7ZM383.9,554.6 382.3,554.1 381.3,555.5 382.7,576.5 383.9,577.4 392.6,577.3 393.3,576.6 393.5,575.7 390.2,562.2ZM390.8,455.7 389.6,454.5 382.5,454.5 381.5,454.9 381.0,456.0 382.0,460.0 390.1,468.7 391.3,469.1 392.3,468.6 392.7,467.5ZM376.3,533.9 377.2,535.1 378.8,534.9 385.9,525.0 386.2,524.0 384.9,506.2 384.2,505.5 374.5,500.8 373.4,501.3 373.0,502.3ZM359.8,571.5 359.1,570.6 353.6,568.3 352.2,568.4 351.6,569.2 351.0,571.9 351.8,576.6 352.9,577.3 360.3,577.1 360.9,575.7ZM390.4,561.7 394.1,576.7 395.2,577.3 400.5,577.1 401.2,575.6 397.3,549.0 394.0,545.2 393.1,544.8 392.0,545.1 391.4,546.0Z" fill="#e064ca"/><path d="M411.1,575.9 411.5,576.9 412.6,577.3 420.6,577.3 421.6,576.8 422.0,576.1 415.8,550.0 414.6,548.8 413.5,549.1 412.9,550.0 410.3,567.7ZM377.1,537.7 375.6,536.2 373.9,536.0 372.9,537.0 369.7,558.2 373.8,576.6 375.0,577.4 381.1,577.4 382.1,576.9 382.4,576.0 380.8,551.0ZM373.9,472.2 372.3,471.6 371.2,472.8 369.4,490.3 372.9,499.5 383.2,504.7 384.3,504.8 385.2,503.9 385.5,501.9 381.3,482.2ZM374.4,535.8 375.6,535.5 376.1,534.3 372.5,499.6 369.1,490.0 365.1,486.8 364.0,486.6 362.8,487.9 360.7,507.7 372.7,534.8ZM370.4,454.5 369.3,455.0 368.9,456.1 371.7,468.8 378.7,478.1 380.3,478.4 381.3,477.2 381.5,460.1 380.5,455.4 379.3,454.5ZM409.2,577.3 410.2,576.9 410.7,575.9 409.9,567.9 401.0,547.3 400.2,546.6 399.2,546.6 398.4,547.2 397.7,548.9 401.7,576.3 403.0,577.3ZM331.4,473.4 329.5,455.7 328.6,454.6 326.9,454.5 325.8,455.2 325.5,456.4 327.8,475.4 328.7,476.1 329.8,476.0ZM339.4,563.8 334.9,555.7 333.9,555.6 333.1,556.0 332.7,557.0 333.2,575.8 334.6,577.2 339.0,577.3 339.8,576.8 340.2,575.8ZM416.9,509.6 415.6,508.9 414.5,509.5 412.3,515.3 414.5,546.0 416.2,549.0 421.5,549.3 422.4,548.8 422.7,547.7 420.2,515.0ZM337.0,558.5 338.6,559.3 339.8,558.0 341.0,525.1 334.0,513.0 332.6,512.4 331.7,512.9 331.3,514.0 332.3,549.6ZM357.6,507.4 359.2,508.1 360.6,506.8 362.9,484.9 362.4,483.3 353.9,466.5 352.3,465.7 351.2,466.5 348.5,474.3 353.5,501.1ZM352.6,501.8 353.1,500.4 348.3,474.1 343.6,465.5 342.0,464.9 340.9,466.0 338.2,480.0 345.2,505.4 346.1,506.1 347.2,506.0ZM393.9,472.5 395.3,476.1 396.2,476.7 397.2,476.5 401.7,468.4 400.7,457.5 399.9,455.2 399.0,454.6 392.6,454.5 391.3,455.5ZM418.0,549.5 416.8,550.1 416.5,551.3 421.7,572.7 422.4,573.6 423.5,573.7 424.3,573.1 424.6,572.2 422.9,550.9 421.8,549.7ZM352.3,462.9 359.1,476.4 360.1,477.0 361.2,476.8 361.9,475.4 360.4,455.8 360.0,454.9 359.0,454.4 353.0,454.4 351.9,454.9 351.5,455.9ZM348.9,570.3 349.9,570.6 350.9,570.1 351.7,567.0 345.1,526.1 344.3,525.1 342.4,524.9 341.5,525.4 341.1,526.4 339.8,562.9 340.4,563.9Z" fill="#d650c0"/></g><mask id="mk265482050" maskUnits="userSpaceOnUse" x="0" y="300" width="676" height="289"><path d="M370.0,456.0 L416.0,456.0 L417.0,498.0 L392.0,500.0 L378.0,485.0 Z" fill="#fff" filter="url(#b3)"/></mask><rect x="0" y="300" width="676" height="289" filter="url(#cracks)" mask="url(#mk265482050)"/><g fill="#5a2a70" opacity="0.6"><circle cx="366.6" cy="564.3" r="0.37"/><circle cx="349.4" cy="550.9" r="0.44"/><circle cx="359.1" cy="507.8" r="0.44"/><circle cx="400.0" cy="467.7" r="0.52"/><circle cx="395.7" cy="497.2" r="0.57"/><circle cx="361.3" cy="530.5" r="0.38"/><circle cx="357.7" cy="523.1" r="0.53"/><circle cx="371.7" cy="460.7" r="0.51"/><circle cx="410.1" cy="488.7" r="0.41"/><circle cx="386.7" cy="484.0" r="0.38"/><circle cx="334.4" cy="530.8" r="0.61"/><circle cx="401.1" cy="526.6" r="0.61"/><circle cx="408.5" cy="488.3" r="0.46"/><circle cx="420.5" cy="568.6" r="0.54"/><circle cx="387.6" cy="497.1" r="0.38"/><circle cx="358.8" cy="483.8" r="0.54"/><circle cx="390.0" cy="531.4" r="0.62"/><circle cx="336.9" cy="500.4" r="0.62"/><circle cx="372.1" cy="551.6" r="0.40"/><circle cx="361.2" cy="551.5" r="0.44"/><circle cx="397.2" cy="527.7" r="0.55"/><circle cx="354.0" cy="575.4" r="0.53"/><circle cx="393.9" cy="514.0" r="0.54"/><circle cx="364.6" cy="489.1" r="0.44"/><circle cx="349.1" cy="539.1" r="0.38"/><circle cx="338.5" cy="516.7" r="0.65"/><circle cx="402.1" cy="536.0" r="0.57"/><circle cx="347.1" cy="517.1" r="0.36"/><circle cx="377.1" cy="460.1" r="0.38"/><circle cx="338.9" cy="497.5" r="0.49"/><circle cx="348.2" cy="465.5" r="0.39"/><circle cx="418.2" cy="573.7" r="0.62"/><circle cx="340.4" cy="480.3" r="0.61"/><circle cx="389.4" cy="571.2" r="0.63"/><circle cx="408.1" cy="494.2" r="0.57"/><circle cx="416.9" cy="563.5" r="0.64"/><circle cx="400.2" cy="550.1" r="0.56"/><circle cx="367.8" cy="524.6" r="0.63"/><circle cx="382.0" cy="459.3" r="0.48"/><circle cx="410.7" cy="540.8" r="0.49"/></g><path d="M414.0,456.3 L429.7,456.3 L436.5,495.0 L441.0,530.0 L447.7,568.0 L447.7,575.5 L423.0,575.5 L418.5,517.0 Z" filter="url(#conn)" opacity="0.9"/><g fill="#5a3070" opacity="0.7"><circle cx="421.6" cy="539.9" r="0.73"/><circle cx="428.6" cy="557.4" r="0.42"/><circle cx="424.8" cy="492.5" r="0.50"/><circle cx="436.2" cy="551.2" r="0.65"/><circle cx="423.7" cy="504.1" r="0.71"/><circle cx="438.9" cy="574.4" r="0.73"/><circle cx="431.9" cy="544.4" r="0.71"/><circle cx="431.5" cy="537.3" r="0.73"/><circle cx="442.7" cy="546.5" r="0.48"/><circle cx="442.1" cy="569.0" r="0.46"/><circle cx="437.6" cy="521.8" r="0.75"/><circle cx="429.0" cy="505.4" r="0.50"/><circle cx="438.4" cy="569.5" r="0.54"/><circle cx="433.9" cy="505.6" r="0.44"/><circle cx="419.5" cy="483.7" r="0.71"/><circle cx="414.8" cy="459.0" r="0.56"/><circle cx="427.0" cy="557.2" r="0.73"/><circle cx="422.1" cy="544.8" r="0.55"/><circle cx="439.8" cy="534.9" r="0.45"/><circle cx="429.8" cy="506.8" r="0.59"/><circle cx="432.7" cy="538.6" r="0.56"/><circle cx="431.5" cy="554.9" r="0.67"/><circle cx="420.5" cy="472.7" r="0.52"/><circle cx="443.6" cy="571.3" r="0.67"/><circle cx="426.4" cy="545.1" r="0.60"/><circle cx="435.4" cy="537.9" r="0.65"/><circle cx="420.0" cy="524.0" r="0.57"/><circle cx="436.9" cy="548.6" r="0.49"/><circle cx="426.5" cy="486.8" r="0.77"/><circle cx="430.5" cy="509.9" r="0.77"/><circle cx="440.4" cy="558.7" r="0.60"/><circle cx="418.3" cy="500.7" r="0.45"/><circle cx="427.5" cy="510.0" r="0.59"/><circle cx="419.6" cy="477.6" r="0.66"/><circle cx="431.4" cy="505.1" r="0.60"/><circle cx="427.8" cy="537.1" r="0.63"/><circle cx="422.4" cy="525.7" r="0.59"/><circle cx="439.6" cy="571.3" r="0.69"/><circle cx="434.8" cy="516.8" r="0.46"/><circle cx="426.8" cy="525.9" r="0.52"/><circle cx="429.6" cy="494.8" r="0.63"/><circle cx="435.8" cy="526.7" r="0.76"/><circle cx="428.9" cy="500.5" r="0.69"/><circle cx="432.7" cy="488.3" r="0.75"/><circle cx="421.6" cy="465.2" r="0.61"/><circle cx="444.7" cy="558.2" r="0.71"/><circle cx="434.6" cy="517.2" r="0.52"/><circle cx="419.6" cy="509.1" r="0.72"/><circle cx="432.7" cy="573.3" r="0.71"/><circle cx="432.3" cy="526.8" r="0.57"/></g><ellipse cx="320" cy="457" rx="6" ry="2" fill="#8a4aa0"/></g>
<line x1="432.0" y1="508.8" x2="422.3" y2="513.6" stroke="#000" stroke-width="2.0"/><path d="M417.4,516.0 L421.6,509.9 L424.8,516.4 Z" fill="#000"/>
<clipPath id="c6"><path d="M462.9,456.3 L640.0,456.3 L649.0,483.6 L667.0,528.4 L669.3,562.0 L667.0,575.5 L462.9,575.5 Z"/></clipPath><g clip-path="url(#c6)"><path d="M462.9,456.3 L640.0,456.3 L649.0,483.6 L667.0,528.4 L669.3,562.0 L667.0,575.5 L462.9,575.5 Z" fill="#e4b6e4"/><path d="M622.8,562.1 624.2,564.3 635.8,568.8 640.4,562.1 636.7,552.9 625.8,554.2ZM519.8,454.8 508.0,454.8 508.6,456.4 519.5,457.7ZM571.1,548.1 562.8,542.8 548.9,548.7 548.9,550.0 559.7,558.5 565.2,556.9 570.8,549.7ZM621.8,494.2 624.7,495.6 634.5,491.3 632.4,479.9 623.3,477.9 615.8,482.0 615.5,482.4ZM625.7,509.3 624.2,496.5 621.5,495.2 608.5,502.5 614.0,511.2 622.5,512.7ZM614.8,481.5 609.0,463.8 599.6,467.7 599.6,479.0 605.9,484.0 614.6,482.0ZM602.8,555.6 602.4,569.8 606.9,571.3 614.6,561.6 605.9,551.4ZM471.2,551.7 467.5,559.5 477.8,567.0 483.5,564.1 480.0,548.7 478.8,548.4ZM545.1,459.1 546.8,468.6 550.5,471.2 554.8,471.5 561.3,465.8 559.9,457.0 557.1,454.8 551.2,454.8ZM600.3,497.8 605.2,484.7 599.0,479.8 587.9,483.6 586.3,486.0 586.5,494.1ZM524.7,569.3 526.7,577.0 544.4,577.0 541.3,565.8 539.2,563.2 534.1,562.7ZM575.7,544.5 576.4,540.5 573.0,528.8 571.2,527.5 561.6,530.3 561.0,530.9 563.2,541.9 571.6,547.2ZM636.0,570.2 630.5,577.0 639.6,577.0 639.8,575.1ZM541.9,538.9 539.3,522.5 534.6,520.0 526.9,531.8 538.5,539.3ZM584.3,468.7 593.7,464.9 591.6,456.7 589.4,454.8 581.9,454.8 577.4,459.8 576.8,466.0ZM533.0,473.2 523.4,462.4 514.1,477.0 514.2,478.2 525.6,483.4 531.6,479.8ZM493.5,467.6 476.7,469.6 475.1,470.8 474.4,474.3 484.3,484.9 492.7,481.7 493.7,480.3ZM610.4,461.2 616.9,458.7 619.2,454.8 606.2,454.8ZM466.8,498.4 467.8,493.3 463.8,483.6 461.4,483.2 461.4,499.7ZM667.7,561.4 664.0,572.1 667.0,576.8 668.1,576.6 668.4,575.9 670.8,562.1 670.8,561.5ZM645.3,518.8 659.3,519.4 661.0,512.9 655.8,501.4 652.8,501.0 643.1,507.5 641.9,511.2ZM633.1,526.2 641.5,523.9 644.4,519.2 641.0,511.7 626.4,510.0 623.2,513.4 623.7,518.0ZM624.6,467.0 623.7,477.0 632.6,479.0 638.0,473.2 638.4,469.6 634.8,466.4ZM486.0,523.0 481.0,519.8 477.2,520.7 476.9,531.9 485.7,533.9 488.1,530.9ZM517.4,500.4 504.2,504.6 500.7,511.4 502.1,515.8 512.4,520.9 520.8,512.9ZM523.8,549.2 516.7,552.9 518.2,562.7 524.3,568.4 533.3,562.1 528.0,550.5ZM610.0,577.0 606.7,572.3 601.9,570.6 600.2,571.1 595.8,577.0ZM539.3,504.4 533.0,515.0 534.8,519.0 539.9,521.7 547.8,520.0 550.2,516.2 548.0,506.5ZM596.1,512.5 601.4,500.6 600.2,498.8 586.2,495.0 581.2,499.6 585.6,511.1ZM485.6,498.6 482.3,491.2 468.8,493.7 467.7,498.7 471.5,504.1 484.8,503.0ZM587.9,531.8 592.6,536.3 602.5,535.7 604.0,533.2 594.4,524.2 587.2,527.1ZM587.9,546.9 604.0,548.2 602.4,536.7 592.7,537.3ZM639.0,468.8 644.7,465.7 641.2,455.4 640.3,454.8 637.1,454.8 634.5,456.5 635.5,465.6ZM484.2,564.9 478.1,567.9 475.3,575.8 475.7,577.0 493.6,577.0 495.1,573.9 488.1,565.4ZM519.9,537.5 509.7,541.7 511.1,550.3 516.2,552.1 523.2,548.4ZM508.6,577.0 525.7,577.0 523.9,570.0ZM640.2,544.0 641.7,543.3 644.8,537.0 641.5,524.9 633.3,527.2 627.1,536.9ZM465.8,464.9 461.4,466.4 461.4,482.2 464.0,482.6 473.4,474.2 474.1,470.7ZM463.2,577.0 474.6,577.0 474.4,576.3 464.0,576.3ZM661.9,552.8 669.8,547.4 669.0,535.8 663.2,532.6 660.1,536.2 659.6,551.9ZM584.7,511.5 580.3,500.0 577.2,500.2 568.8,506.3 567.0,510.2 572.6,517.3 582.3,515.4ZM477.6,454.8 467.4,454.8 465.1,457.2 466.4,464.0 474.7,469.9 476.0,468.8ZM462.3,526.9 470.8,517.7 469.0,514.3 461.4,513.9 461.4,526.9ZM534.0,473.4 532.6,479.9 542.9,487.6 543.6,487.3 549.7,471.9 546.3,469.4ZM585.0,575.5 585.4,564.0 581.6,563.6 572.8,570.0 575.7,577.0 581.8,577.0ZM496.9,493.9 492.7,482.8 484.5,485.9 483.2,490.6 486.4,497.9ZM581.7,562.6 585.8,563.0 586.9,562.5 588.5,559.3 586.7,547.8 576.2,545.3 572.1,548.1 571.8,549.7ZM464.8,559.5 466.5,559.2 470.2,551.4 462.4,543.7 461.4,543.9 461.4,556.5ZM637.6,552.4 641.3,561.7 649.4,561.2 656.3,552.9 642.0,544.3 640.6,545.0ZM502.4,537.1 503.2,537.1 512.1,522.0 501.8,516.7 501.0,517.6 496.8,530.7ZM605.0,548.5 606.0,550.1 620.2,544.8 622.6,538.1 614.2,530.9 609.9,530.4 605.0,533.5 603.4,536.3ZM537.3,455.0 524.6,462.1 533.7,472.5 545.8,468.5 544.1,459.2ZM540.1,562.7 541.9,565.0 556.6,564.6 558.9,559.2 548.5,551.0ZM463.9,560.1 461.4,557.8 461.4,563.3ZM519.7,458.7 508.5,457.4 500.4,465.5 513.5,476.1 522.6,461.9ZM652.1,500.3 646.5,489.5 636.5,492.2 642.9,506.5ZM635.2,569.7 624.2,565.3 620.5,574.0 623.6,577.0 629.2,577.0ZM501.1,516.0 499.7,511.8 487.6,507.6 481.7,519.1 486.5,522.1 500.3,516.9ZM567.8,506.1 557.0,494.5 551.4,504.5 566.2,509.5ZM566.1,557.4 571.3,569.0 572.1,569.3 580.8,562.9 571.3,550.7ZM544.6,487.4 556.8,491.4 562.8,485.4 554.7,472.5 550.6,472.2ZM559.3,574.1 550.2,577.0 560.4,577.0ZM571.9,518.0 566.4,511.6 560.4,517.1 561.8,529.2 570.8,526.6ZM461.7,455.3 464.5,456.5 466.0,454.8 462.8,454.8ZM502.4,538.1 494.5,546.1 498.2,554.2 502.7,555.2 510.1,550.4 508.7,541.7 503.4,538.1ZM660.2,519.8 662.6,522.5 666.0,521.9 662.4,512.8 661.9,513.2ZM635.5,491.2 646.5,488.5 647.5,487.0 646.7,480.5 638.5,474.1 633.4,479.7ZM560.9,457.0 562.2,465.5 574.4,467.0 575.8,466.1 576.4,459.8 570.8,454.8 565.3,454.8ZM647.7,480.4 648.5,486.6 651.7,486.3 649.1,479.2ZM649.3,562.2 641.2,562.7 636.6,569.4 640.6,574.5 650.2,575.8 654.5,571.3ZM521.8,512.6 532.2,514.4 538.4,503.8 536.9,500.0 525.3,496.0 518.4,500.2ZM598.6,478.9 598.6,467.7 594.3,465.7 584.9,469.5 587.9,482.5ZM472.7,536.1 479.1,547.4 480.3,547.7 487.1,544.0 485.5,534.8 476.5,532.9ZM547.9,521.0 540.4,522.6 542.8,538.1 553.7,530.1ZM607.2,518.2 613.1,511.6 607.5,502.8 602.2,501.2 597.0,513.0 597.7,514.5ZM645.7,536.5 659.4,535.5 662.6,531.8 661.9,523.3 659.4,520.4 645.2,519.8 642.4,524.4ZM471.5,518.4 463.2,527.4 470.2,535.4 471.9,535.5 475.8,532.1 476.2,520.6ZM635.2,454.8 631.9,454.8 633.9,455.6ZM462.4,542.7 469.3,535.9 462.3,527.9 461.4,527.9 461.4,542.9ZM507.3,577.0 503.4,573.9 496.0,574.3 494.7,577.0ZM543.1,488.5 537.8,499.6 539.4,503.4 548.3,505.6 550.3,504.4 556.4,493.5 556.4,492.3 544.0,488.2ZM541.9,540.0 538.6,540.3 529.0,550.2 534.3,561.8 539.2,562.2 547.9,550.1 547.9,548.5ZM657.3,553.2 650.2,561.7 655.4,570.9 663.1,571.7 666.8,561.0 661.6,553.8 659.1,552.8ZM565.5,485.6 577.2,499.2 580.4,499.0 585.5,494.2 585.3,486.2 572.2,481.0ZM513.2,478.3 513.1,477.1 499.5,466.1 494.5,467.2 494.7,480.0 509.2,483.2ZM517.3,499.3 517.8,499.5 524.7,495.2 525.1,484.3 513.9,479.1 509.8,483.9 509.7,486.3ZM468.9,513.3 470.7,504.8 467.0,499.4 461.4,500.7 461.4,512.9ZM506.1,564.3 502.5,556.1 498.0,555.2 489.1,564.9 495.9,573.3 503.2,572.9ZM583.1,515.9 586.8,526.2 594.1,523.3 596.8,514.9 596.1,513.5 585.5,512.1ZM606.8,550.9 615.5,561.1 621.9,561.6 624.9,553.8 620.4,545.9ZM587.9,562.6 600.0,570.1 601.4,569.7 601.8,556.1 589.4,559.8ZM642.2,507.2 635.5,492.2 625.2,496.4 626.7,509.0 641.0,510.7ZM509.2,540.8 519.9,536.5 521.6,532.8 512.8,522.9 504.2,537.4ZM655.3,571.9 650.9,576.5 651.0,577.0 666.0,577.0 663.1,572.7ZM617.1,459.7 610.6,462.3 609.9,463.2 615.7,480.9 622.7,477.0 623.6,466.7ZM521.6,513.6 513.1,521.7 522.4,532.1 525.9,531.5 533.9,519.3 532.1,515.4ZM663.6,531.6 668.9,534.6 668.5,528.1 666.4,522.8 662.9,523.5ZM462.0,576.7 463.2,575.6 461.4,570.7 461.4,575.6ZM491.4,456.0 494.9,465.9 499.4,465.1 507.7,456.7 506.9,454.8 491.9,454.8ZM471.6,505.1 469.9,513.7 471.8,517.4 476.8,519.8 480.7,518.9 486.8,507.0 484.9,504.0ZM595.1,523.5 604.6,532.5 609.2,529.7 606.9,519.1 597.6,515.5ZM488.9,531.5 486.5,534.6 488.0,543.8 493.8,545.4 501.5,537.6 496.1,531.3ZM555.7,472.1 563.7,485.0 564.5,485.0 571.6,480.1 573.9,468.0 562.0,466.5ZM500.3,495.2 504.1,503.6 516.2,499.5 509.0,487.2ZM526.1,484.3 525.7,495.1 537.0,499.0 542.2,488.3 532.0,480.8ZM607.8,501.8 620.8,494.4 614.7,483.0 606.2,485.0 601.1,498.3 602.3,500.2ZM617.9,459.0 624.4,466.0 634.4,465.4 633.5,456.5 629.3,454.8 620.4,454.8ZM622.2,513.6 613.9,512.2 607.9,518.9 610.2,529.5 614.2,529.9 622.7,518.1ZM464.7,483.2 468.7,492.7 482.2,490.2 483.6,485.7 473.8,475.2ZM615.1,530.3 623.3,537.4 626.1,536.6 632.3,526.8 623.3,518.9ZM576.8,458.9 580.6,454.8 572.3,454.8ZM562.2,541.9 560.1,531.2 554.5,530.7 542.7,539.4 548.6,547.7ZM563.1,454.8 558.8,454.8 560.4,456.1ZM662.6,553.5 667.6,560.4 670.7,560.5 669.9,548.5ZM523.8,461.4 535.6,454.8 520.8,454.8 520.4,458.1ZM526.1,532.5 522.5,533.1 520.8,536.9 524.2,548.3 528.2,549.5 537.6,540.0ZM612.4,577.0 622.1,577.0 619.7,574.7ZM557.4,492.2 557.4,493.5 568.4,505.3 576.3,499.6 564.5,486.0 563.6,486.0ZM605.0,454.8 595.8,454.8 592.7,456.7 594.7,464.8 599.1,466.8 609.0,462.7 609.6,461.8ZM560.2,573.7 561.4,577.0 574.6,577.0 571.8,570.2 570.9,569.9ZM487.7,506.6 499.9,510.8 503.3,504.2 499.4,495.4 497.5,494.7 486.6,498.9 485.7,503.3ZM560.3,530.2 560.8,529.7 559.4,517.4 551.0,516.8 548.7,520.4 554.7,529.7ZM656.8,501.0 661.7,512.1 662.0,511.9 657.4,500.5ZM464.2,457.4 461.4,456.3 461.4,465.3 465.3,464.0ZM572.7,480.1 585.6,485.3 587.0,483.1 583.9,469.6 576.4,466.9 575.0,467.9ZM625.8,553.2 636.7,551.9 639.6,544.8 626.3,537.6 623.5,538.4 621.2,545.2ZM464.2,575.3 474.4,575.3 477.1,567.8 466.7,560.2 464.9,560.5 461.4,564.9 461.4,567.9ZM493.6,546.4 487.7,544.8 481.0,548.5 484.5,563.9 488.2,564.4 497.3,554.6ZM499.8,518.1 487.0,522.9 489.1,530.5 495.9,530.3ZM557.5,565.1 559.9,572.8 570.2,569.1 565.2,558.0 559.9,559.4ZM539.0,454.8 544.5,458.2 549.4,454.8ZM585.9,526.8 574.0,528.9 577.2,539.6 586.9,531.8 586.2,527.0ZM647.4,488.9 653.0,500.0 656.0,500.4 657.0,499.5 652.1,487.3 648.3,487.6ZM657.1,552.3 658.6,551.9 659.1,536.5 645.7,537.5 642.7,543.5ZM517.6,563.4 507.1,564.7 504.2,573.2 507.9,576.2 523.6,569.0ZM477.1,468.5 493.8,466.6 490.5,456.5 483.3,454.8 478.6,454.8ZM639.4,469.7 639.0,473.2 647.2,479.6 648.8,478.2 645.0,466.6ZM508.8,484.1 494.4,481.0 493.5,482.2 497.9,493.8 499.6,494.5 508.7,486.2ZM610.8,576.4 619.5,573.7 623.4,564.7 622.0,562.6 615.5,562.1 607.7,571.9ZM589.1,577.0 594.6,577.0 599.2,570.8 587.2,563.4 586.4,563.8 586.0,575.5ZM640.8,575.5 640.6,577.0 650.0,577.0 649.9,576.8ZM592.1,455.8 593.8,454.8 591.0,454.8ZM586.9,546.8 591.8,536.9 587.4,532.7 577.4,540.8 576.7,544.4ZM517.2,562.5 515.7,553.0 510.7,551.2 503.4,555.9 507.0,563.7ZM572.9,518.3 571.8,526.7 573.5,528.0 585.3,525.9 582.3,516.5ZM542.4,566.0 545.4,577.0 546.9,577.0 559.0,573.1 556.6,565.6ZM550.7,505.3 549.0,506.3 551.1,515.9 559.7,516.4 566.0,510.6ZM471.7,536.5 470.2,536.4 463.3,543.2 470.9,550.7 478.0,547.6ZM587.7,547.9 589.4,558.7 602.0,555.0 605.2,550.6 604.2,549.2Z" fill="#fcf5fc"/><g fill="none" stroke="#de90d8" stroke-linecap="round" opacity="0.55" filter="url(#b05)"><path d="M596.3,555.1 Q592.9,557.5 587.5,561.4" stroke-width="2.5"/><path d="M525.0,538.6 Q533.8,547.6 535.9,550.3" stroke-width="2.1"/><path d="M519.9,541.1 Q512.3,533.8 504.5,530.6" stroke-width="2.4"/><path d="M487.6,491.5 Q489.1,487.7 489.8,479.6" stroke-width="2.4"/><path d="M558.0,546.6 Q565.5,541.4 570.9,540.4" stroke-width="2.6"/><path d="M598.4,560.8 Q593.2,561.4 590.6,565.4" stroke-width="2.3"/><path d="M513.9,477.3 Q522.9,479.5 531.2,481.4" stroke-width="2.3"/><path d="M577.3,541.8 Q572.5,551.7 568.3,558.8" stroke-width="1.4"/><path d="M475.0,509.9 Q478.4,498.5 473.2,491.1" stroke-width="2.1"/><path d="M531.9,571.5 Q532.6,565.6 532.0,561.1" stroke-width="1.8"/><path d="M482.4,565.1 Q487.1,572.0 495.6,572.3" stroke-width="1.4"/><path d="M565.5,463.8 Q573.0,456.0 573.0,449.1" stroke-width="2.7"/><path d="M467.3,484.1 Q469.9,472.5 483.5,466.7" stroke-width="1.9"/><path d="M540.5,501.4 Q546.7,498.4 553.2,499.4" stroke-width="2.1"/><path d="M547.8,524.3 Q554.4,525.8 566.8,518.5" stroke-width="1.4"/><path d="M507.6,505.6 Q508.5,497.1 504.1,491.5" stroke-width="2.2"/><path d="M552.6,471.5 Q547.9,467.7 542.6,460.5" stroke-width="2.7"/><path d="M530.4,535.3 Q523.8,540.3 517.3,540.1" stroke-width="1.3"/><path d="M520.1,538.9 Q534.7,541.3 541.5,538.2" stroke-width="1.9"/><path d="M567.2,517.4 Q564.9,522.3 559.2,523.2" stroke-width="1.6"/><path d="M577.2,460.6 Q579.8,452.1 582.4,445.4" stroke-width="2.2"/><path d="M526.8,546.3 Q525.6,534.8 530.0,528.1" stroke-width="1.8"/><path d="M525.4,516.0 Q513.0,515.0 505.3,518.2" stroke-width="2.1"/><path d="M464.0,531.6 Q468.0,533.5 471.2,536.4" stroke-width="3.0"/><path d="M508.9,458.1 Q509.8,454.4 508.3,448.4" stroke-width="1.8"/><path d="M592.8,475.4 Q598.3,479.6 603.3,480.4" stroke-width="1.8"/></g><g fill="#4a2a6a" opacity="0.8"><circle cx="649.0" cy="531.6" r="0.67"/><circle cx="581.4" cy="481.5" r="0.62"/><circle cx="531.1" cy="493.0" r="0.51"/><circle cx="622.1" cy="533.6" r="0.47"/><circle cx="608.3" cy="561.0" r="0.44"/><circle cx="466.8" cy="528.0" r="0.74"/><circle cx="576.5" cy="516.6" r="0.57"/><circle cx="579.9" cy="565.1" r="0.64"/><circle cx="616.9" cy="511.8" r="0.74"/><circle cx="621.6" cy="516.9" r="0.53"/><circle cx="524.9" cy="573.0" r="0.65"/><circle cx="477.6" cy="518.4" r="0.57"/><circle cx="586.5" cy="490.1" r="0.75"/><circle cx="562.5" cy="555.0" r="0.51"/><circle cx="646.1" cy="521.4" r="0.62"/><circle cx="552.6" cy="568.6" r="0.62"/><circle cx="573.2" cy="499.6" r="0.58"/><circle cx="518.7" cy="509.3" r="0.51"/><circle cx="478.8" cy="499.8" r="0.43"/><circle cx="600.0" cy="467.6" r="0.75"/><circle cx="528.3" cy="488.7" r="0.62"/><circle cx="523.1" cy="542.6" r="0.53"/><circle cx="474.6" cy="561.5" r="0.67"/><circle cx="517.3" cy="532.9" r="0.55"/><circle cx="567.8" cy="489.1" r="0.61"/><circle cx="596.8" cy="557.2" r="0.51"/><circle cx="580.5" cy="523.9" r="0.73"/><circle cx="562.0" cy="559.3" r="0.75"/><circle cx="547.2" cy="504.7" r="0.77"/><circle cx="582.5" cy="519.6" r="0.70"/><circle cx="587.7" cy="518.1" r="0.66"/><circle cx="516.9" cy="501.3" r="0.42"/><circle cx="611.6" cy="554.5" r="0.68"/><circle cx="663.4" cy="546.4" r="0.46"/><circle cx="529.2" cy="566.2" r="0.46"/><circle cx="644.1" cy="551.3" r="0.47"/><circle cx="506.1" cy="543.5" r="0.66"/><circle cx="469.1" cy="519.4" r="0.49"/><circle cx="640.1" cy="520.2" r="0.42"/><circle cx="544.5" cy="457.5" r="0.75"/><circle cx="646.0" cy="541.9" r="0.42"/><circle cx="597.2" cy="547.3" r="0.62"/><circle cx="486.8" cy="485.6" r="0.68"/><circle cx="488.4" cy="501.2" r="0.76"/><circle cx="547.3" cy="474.5" r="0.65"/><circle cx="535.0" cy="550.4" r="0.55"/><circle cx="634.0" cy="554.7" r="0.48"/><circle cx="575.8" cy="509.4" r="0.46"/><circle cx="651.3" cy="497.1" r="0.64"/><circle cx="475.4" cy="569.6" r="0.77"/><circle cx="604.1" cy="471.9" r="0.66"/><circle cx="559.7" cy="512.7" r="0.50"/><circle cx="494.2" cy="557.0" r="0.64"/><circle cx="617.0" cy="544.4" r="0.56"/><circle cx="576.4" cy="492.4" r="0.66"/><circle cx="551.8" cy="549.8" r="0.53"/><circle cx="541.7" cy="466.1" r="0.43"/><circle cx="507.2" cy="458.3" r="0.57"/><circle cx="541.2" cy="561.4" r="0.44"/><circle cx="634.3" cy="499.0" r="0.51"/><circle cx="588.9" cy="498.7" r="0.43"/><circle cx="489.8" cy="537.2" r="0.68"/><circle cx="621.7" cy="497.1" r="0.61"/><circle cx="520.4" cy="505.4" r="0.75"/><circle cx="514.9" cy="506.9" r="0.75"/><circle cx="556.1" cy="553.2" r="0.61"/><circle cx="535.1" cy="542.2" r="0.66"/><circle cx="541.4" cy="575.3" r="0.45"/><circle cx="638.3" cy="542.2" r="0.68"/><circle cx="560.7" cy="545.6" r="0.44"/><circle cx="601.2" cy="559.5" r="0.57"/><circle cx="615.7" cy="539.2" r="0.60"/><circle cx="621.9" cy="514.0" r="0.46"/><circle cx="570.8" cy="546.1" r="0.48"/><circle cx="558.2" cy="555.8" r="0.42"/><circle cx="641.0" cy="498.1" r="0.55"/><circle cx="607.1" cy="524.7" r="0.52"/><circle cx="495.0" cy="506.4" r="0.74"/><circle cx="606.6" cy="538.2" r="0.75"/><circle cx="496.1" cy="473.6" r="0.72"/><circle cx="467.0" cy="518.6" r="0.57"/><circle cx="652.4" cy="530.8" r="0.50"/><circle cx="476.2" cy="512.6" r="0.62"/><circle cx="559.3" cy="525.6" r="0.44"/><circle cx="537.1" cy="555.2" r="0.52"/><circle cx="501.8" cy="477.6" r="0.76"/><circle cx="642.3" cy="504.6" r="0.54"/><circle cx="538.9" cy="561.5" r="0.75"/><circle cx="659.5" cy="558.4" r="0.66"/><circle cx="487.0" cy="568.6" r="0.48"/><circle cx="615.5" cy="498.9" r="0.43"/><circle cx="598.7" cy="486.7" r="0.74"/><circle cx="500.2" cy="535.9" r="0.58"/><circle cx="472.7" cy="489.9" r="0.53"/><circle cx="622.8" cy="548.3" r="0.76"/><circle cx="497.1" cy="481.5" r="0.55"/><circle cx="529.0" cy="480.9" r="0.69"/><circle cx="464.0" cy="520.3" r="0.47"/><circle cx="527.6" cy="491.1" r="0.59"/><circle cx="656.7" cy="544.1" r="0.57"/><circle cx="501.8" cy="532.1" r="0.70"/><circle cx="612.3" cy="516.7" r="0.68"/><circle cx="531.6" cy="569.3" r="0.69"/><circle cx="628.2" cy="520.7" r="0.75"/><circle cx="559.8" cy="569.7" r="0.58"/><circle cx="569.4" cy="523.1" r="0.62"/><circle cx="637.0" cy="557.3" r="0.49"/><circle cx="608.6" cy="519.0" r="0.57"/><circle cx="486.8" cy="564.7" r="0.78"/><circle cx="612.4" cy="524.4" r="0.45"/></g><mask id="mk344684864" maskUnits="userSpaceOnUse" x="0" y="300" width="676" height="289"><path d="M463.0,540.0 L478.0,538.0 L490.0,552.0 L486.0,568.0 L463.0,572.0 Z" fill="#fff" filter="url(#b2)"/></mask><rect x="0" y="300" width="676" height="289" filter="url(#dense)" mask="url(#mk344684864)"/><mask id="mk319264042" maskUnits="userSpaceOnUse" x="0" y="300" width="676" height="289"><path d="M552.0,495.0 L590.0,478.0 L598.0,494.8 L608.0,539.6 L615.0,578.0 L536.0,578.0 Z" fill="#fff" filter="url(#b5)"/></mask><rect x="0" y="300" width="676" height="289" filter="url(#meshl)" mask="url(#mk319264042)" opacity="0.6"/><path d="M570.0,456.0 L588.6,456.0 L595.3,494.8 L606.5,539.6 L613.3,575.5 L592.0,575.5 L585.0,530.0 L575.0,490.0 Z" fill="#e49ad8" filter="url(#b3)" opacity="0.55"/><g><path d="M588.6,456.0 L628.0,456.0 L640.0,480.0 L654.0,520.0 L661.0,560.0 L659.0,575.5 L613.3,575.5 L606.5,539.6 L595.3,494.8 Z" fill="#f8e6f6"/><path d="M605.5,464.2 605.6,465.6 624.9,496.2 625.9,496.8 627.0,496.7 627.7,495.6 628.9,484.7 614.2,455.4 613.0,454.8 609.6,455.2ZM646.1,531.1 644.9,531.7 644.6,532.9 649.9,550.2 659.0,565.0 660.7,565.5 661.7,564.4 662.2,559.8 658.6,539.6 654.0,531.3ZM650.2,554.8 648.7,554.1 647.4,555.3 647.5,568.5 651.7,575.9 658.8,576.1 659.7,575.0 660.1,570.8ZM634.8,575.0 636.3,574.8 636.8,573.5 634.0,558.1 626.8,543.8 617.9,533.8 616.2,533.6 613.9,537.4 613.7,538.6 628.0,572.0 628.7,572.7ZM640.2,494.3 640.0,495.9 652.3,522.2 653.2,523.0 654.4,522.9 655.2,521.8 654.9,519.7 645.0,491.6 644.1,490.9 643.0,491.0Z" fill="#dc5ec8"/><path d="M608.8,497.9 607.3,497.3 606.1,498.5 607.1,507.2 617.6,530.4 623.0,536.4 624.5,536.7 625.5,535.4 625.1,527.7 619.1,513.1ZM622.1,569.3 623.0,569.8 624.0,569.7 624.6,568.9 624.7,567.9 612.2,538.7 606.2,532.0 604.6,531.8 603.7,533.3 607.7,552.2ZM602.4,462.4 603.7,463.0 604.9,462.3 607.6,456.3 607.5,455.5 606.8,454.7 599.7,454.5 598.5,455.3 598.5,456.7ZM639.0,575.1 640.2,576.3 646.3,576.3 647.4,575.9 647.8,574.8 645.0,569.3 639.7,564.4 638.7,564.1 637.7,564.6 637.3,565.5ZM609.1,474.7 607.4,474.1 606.6,474.7 606.3,475.7 610.3,495.4 620.1,510.0 621.7,510.5 627.4,507.4 627.9,505.7 626.6,502.3ZM589.1,454.9 587.9,455.4 587.6,456.5 589.7,468.5 604.5,492.6 605.7,493.3 606.7,493.2 607.4,492.5 607.5,491.5 601.9,464.3 595.6,455.1ZM627.3,527.0 644.2,546.9 645.3,547.3 646.4,546.9 646.7,545.4 642.3,530.7 630.1,509.8 629.0,509.0 622.5,512.2 621.9,513.3ZM611.1,534.6 612.2,535.1 613.3,534.6 614.9,531.7 614.9,530.5 604.8,508.2 599.3,503.7 597.8,503.6 597.1,504.3 597.0,505.2 601.7,524.2ZM644.7,551.4 644.3,550.5 631.0,535.0 630.1,534.6 629.0,534.9 628.5,536.0 628.9,543.4 635.9,557.2 642.8,563.3 643.9,563.1 644.6,562.1ZM612.4,560.7 610.7,560.3 609.9,561.0 609.8,562.0 610.6,566.1 614.6,575.8 615.8,576.4 623.3,576.2 623.9,575.2 623.7,574.1ZM600.8,501.5 602.3,501.7 603.2,500.6 602.5,494.0 595.7,483.0 594.0,482.5 593.0,484.0 595.4,496.9Z" fill="#e26cce"/><path d="M619.1,455.3 617.8,456.0 617.7,457.4 630.8,483.8 637.2,491.5 639.0,491.7 642.7,487.5 642.9,486.4 640.6,479.7 635.3,469.1 625.8,455.7ZM650.6,529.0 651.7,528.4 652.0,527.0 637.3,495.7 632.8,490.3 631.1,490.1 630.3,491.1 629.0,501.6 630.9,506.8 643.5,528.5 644.5,529.0Z" fill="#d856c2"/></g><path d="M626.0,456.0 L640.0,456.0 L649.0,483.6 L667.0,528.4 L669.3,562.0 L667.0,575.5 L657.0,575.5 L659.0,560.0 L652.0,520.0 L638.0,480.0 Z" filter="url(#light)" opacity="0.9"/></g>
<line x1="593.0" y1="469.0" x2="583.3" y2="474.3" stroke="#000" stroke-width="2.0"/><path d="M578.5,476.9 L582.5,470.6 L585.9,477.0 Z" fill="#000"/>
</svg>
</body></html>
